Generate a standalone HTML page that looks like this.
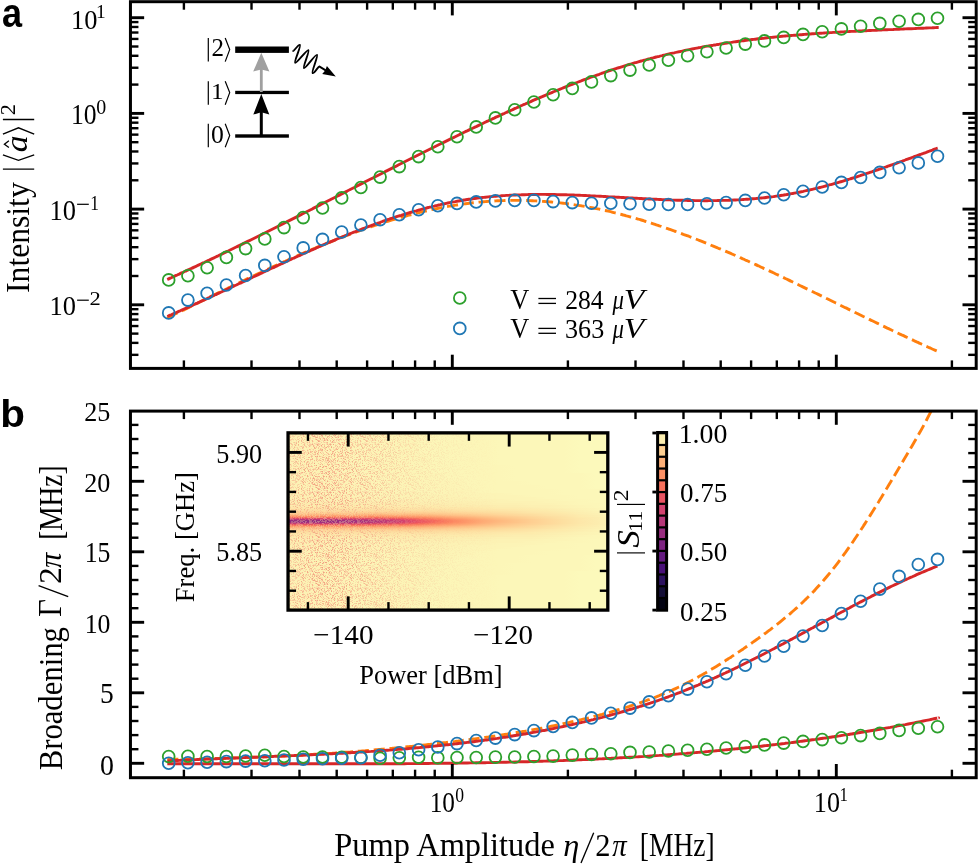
<!DOCTYPE html>
<html><head><meta charset="utf-8"><style>
html,body{margin:0;padding:0;background:#fff;}
body{width:978px;height:864px;overflow:hidden;font-family:"Liberation Serif",serif;}
svg{display:block;will-change:transform;}
</style></head><body>
<svg width="978" height="864" viewBox="0 0 978 864">
<rect width="978" height="864" fill="#fff"/>
<g fill="none" stroke-linecap="butt" stroke-linejoin="round">
<path d="M167.3,317.9 C167.8,317.6 169.3,316.9 170.3,316.4 C171.3,315.9 172.3,315.4 173.3,314.9 C174.3,314.5 175.3,314.0 176.3,313.5 C177.3,313.0 178.3,312.5 179.3,312.0 C180.3,311.5 181.3,311.0 182.3,310.5 C183.3,310.1 184.3,309.6 185.3,309.1 C186.3,308.6 187.3,308.1 188.3,307.6 C189.3,307.1 190.3,306.6 191.3,306.1 C192.3,305.6 193.3,305.1 194.3,304.7 C195.3,304.2 196.3,303.7 197.3,303.2 C198.3,302.7 199.3,302.2 200.3,301.7 C201.3,301.2 202.3,300.7 203.3,300.2 C204.3,299.8 205.3,299.3 206.3,298.8 C207.3,298.3 208.3,297.8 209.3,297.3 C210.3,296.8 211.3,296.3 212.3,295.8 C213.3,295.3 214.3,294.9 215.3,294.4 C216.3,293.9 217.3,293.4 218.3,292.9 C219.3,292.4 220.3,291.9 221.3,291.4 C222.3,291.0 223.3,290.5 224.3,290.0 C225.3,289.5 226.3,289.0 227.3,288.5 C228.3,288.0 229.3,287.5 230.3,287.1 C231.3,286.6 232.3,286.1 233.3,285.6 C234.3,285.1 235.3,284.6 236.3,284.2 C237.3,283.7 238.3,283.2 239.3,282.7 C240.3,282.2 241.3,281.7 242.3,281.3 C243.3,280.8 244.3,280.3 245.3,279.8 C246.3,279.4 247.3,278.9 248.3,278.4 C249.3,277.9 250.3,277.4 251.3,277.0 C252.3,276.5 253.3,276.0 254.3,275.5 C255.3,275.1 256.3,274.6 257.3,274.1 C258.3,273.6 259.3,273.2 260.3,272.7 C261.3,272.2 262.3,271.8 263.3,271.3 C264.3,270.8 265.3,270.4 266.3,269.9 C267.3,269.4 268.3,269.0 269.3,268.5 C270.3,268.0 271.3,267.6 272.3,267.1 C273.3,266.6 274.3,266.2 275.3,265.7 C276.3,265.3 277.3,264.8 278.3,264.3 C279.3,263.9 280.3,263.4 281.3,263.0 C282.3,262.5 283.3,262.1 284.3,261.6 C285.3,261.2 286.3,260.7 287.3,260.3 C288.3,259.8 289.3,259.4 290.3,258.9 C291.3,258.5 292.3,258.0 293.3,257.6 C294.3,257.1 295.3,256.7 296.3,256.3 C297.3,255.8 298.3,255.4 299.3,254.9 C300.3,254.5 301.3,254.1 302.3,253.6 C303.3,253.2 304.3,252.8 305.3,252.3 C306.3,251.9 307.3,251.5 308.3,251.0 C309.3,250.6 310.3,250.2 311.3,249.7 C312.3,249.3 313.3,248.9 314.3,248.5 C315.3,248.1 316.3,247.6 317.3,247.2 C318.3,246.8 319.3,246.4 320.3,246.0 C321.3,245.5 322.3,245.1 323.3,244.7 C324.3,244.3 325.3,243.9 326.3,243.5 C327.3,243.1 328.3,242.7 329.3,242.3 C330.3,241.9 331.3,241.5 332.3,241.1 C333.3,240.7 334.3,240.3 335.3,239.9 C336.3,239.5 337.3,239.1 338.3,238.7 C339.3,238.3 340.3,237.9 341.3,237.5 C342.3,237.1 343.3,236.8 344.3,236.4 C345.3,236.0 346.3,235.6 347.3,235.2 C348.3,234.9 349.3,234.5 350.3,234.1 C351.3,233.7 352.3,233.4 353.3,233.0 C354.3,232.6 355.3,232.3 356.3,231.9 C357.3,231.5 358.3,231.2 359.3,230.8 C360.3,230.5 361.3,230.1 362.3,229.7 C363.3,229.4 364.3,229.0 365.3,228.7 C366.3,228.3 367.3,228.0 368.3,227.6 C369.3,227.3 370.3,227.0 371.3,226.6 C372.3,226.3 373.3,225.9 374.3,225.6 C375.3,225.3 376.3,224.9 377.3,224.6 C378.3,224.3 379.3,224.0 380.3,223.6 C381.3,223.3 382.3,223.0 383.3,222.7 C384.3,222.4 385.3,222.0 386.3,221.7 C387.3,221.4 388.3,221.1 389.3,220.8 C390.3,220.5 391.3,220.2 392.3,219.9 C393.3,219.6 394.3,219.3 395.3,219.0 C396.3,218.7 397.3,218.4 398.3,218.1 C399.3,217.8 400.3,217.5 401.3,217.3 C402.3,217.0 403.3,216.7 404.3,216.4 C405.3,216.1 406.3,215.9 407.3,215.6 C408.3,215.3 409.3,215.1 410.3,214.8 C411.3,214.5 412.3,214.3 413.3,214.0 C414.3,213.8 415.3,213.5 416.3,213.3 C417.3,213.0 418.3,212.8 419.3,212.5 C420.3,212.3 421.3,212.0 422.3,211.8 C423.3,211.5 424.3,211.3 425.3,211.1 C426.3,210.8 427.3,210.6 428.3,210.4 C429.3,210.2 430.3,209.9 431.3,209.7 C432.3,209.5 433.3,209.3 434.3,209.1 C435.3,208.9 436.3,208.7 437.3,208.5 C438.3,208.3 439.3,208.1 440.3,207.9 C441.3,207.7 442.3,207.5 443.3,207.3 C444.3,207.1 445.3,206.9 446.3,206.7 C447.3,206.6 448.3,206.4 449.3,206.2 C450.3,206.0 451.3,205.9 452.3,205.7 C453.3,205.5 454.3,205.4 455.3,205.2 C456.3,205.0 457.3,204.9 458.3,204.7 C459.3,204.6 460.3,204.4 461.3,204.3 C462.3,204.2 463.3,204.0 464.3,203.9 C465.3,203.7 466.3,203.6 467.3,203.5 C468.3,203.4 469.3,203.2 470.3,203.1 C471.3,203.0 472.3,202.9 473.3,202.8 C474.3,202.7 475.3,202.6 476.3,202.4 C477.3,202.3 478.3,202.2 479.3,202.1 C480.3,202.1 481.3,202.0 482.3,201.9 C483.3,201.8 484.3,201.7 485.3,201.6 C486.3,201.5 487.3,201.5 488.3,201.4 C489.3,201.3 490.3,201.2 491.3,201.2 C492.3,201.1 493.3,201.1 494.3,201.0 C495.3,200.9 496.3,200.9 497.3,200.8 C498.3,200.8 499.3,200.7 500.3,200.7 C501.3,200.7 502.3,200.6 503.3,200.6 C504.3,200.6 505.3,200.5 506.3,200.5 C507.3,200.5 508.3,200.5 509.3,200.4 C510.3,200.4 511.3,200.4 512.3,200.4 C513.3,200.4 514.3,200.4 515.3,200.4 C516.3,200.4 517.3,200.4 518.3,200.4 C519.3,200.4 520.3,200.4 521.3,200.4 C522.3,200.4 523.3,200.4 524.3,200.5 C525.3,200.5 526.3,200.5 527.3,200.5 C528.3,200.6 529.3,200.6 530.3,200.6 C531.3,200.7 532.3,200.7 533.3,200.8 C534.3,200.8 535.3,200.8 536.3,200.9 C537.3,201.0 538.3,201.0 539.3,201.1 C540.3,201.1 541.3,201.2 542.3,201.3 C543.3,201.3 544.3,201.4 545.3,201.5 C546.3,201.5 547.3,201.6 548.3,201.7 C549.3,201.8 550.3,201.9 551.3,202.0 C552.3,202.1 553.3,202.2 554.3,202.3 C555.3,202.3 556.3,202.5 557.3,202.6 C558.3,202.7 559.3,202.8 560.3,202.9 C561.3,203.0 562.3,203.1 563.3,203.2 C564.3,203.4 565.3,203.5 566.3,203.6 C567.3,203.7 568.3,203.9 569.3,204.0 C570.3,204.1 571.3,204.3 572.3,204.4 C573.3,204.6 574.3,204.7 575.3,204.9 C576.3,205.0 577.3,205.2 578.3,205.3 C579.3,205.5 580.3,205.7 581.3,205.8 C582.3,206.0 583.3,206.2 584.3,206.3 C585.3,206.5 586.3,206.7 587.3,206.9 C588.3,207.1 589.3,207.3 590.3,207.4 C591.3,207.6 592.3,207.8 593.3,208.0 C594.3,208.2 595.3,208.4 596.3,208.6 C597.3,208.8 598.3,209.0 599.3,209.2 C600.3,209.5 601.3,209.7 602.3,209.9 C603.3,210.1 604.3,210.3 605.3,210.5 C606.3,210.8 607.3,211.0 608.3,211.2 C609.3,211.5 610.3,211.7 611.3,211.9 C612.3,212.2 613.3,212.4 614.3,212.7 C615.3,212.9 616.3,213.2 617.3,213.4 C618.3,213.7 619.3,213.9 620.3,214.2 C621.3,214.4 622.3,214.7 623.3,215.0 C624.3,215.2 625.3,215.5 626.3,215.8 C627.3,216.0 628.3,216.3 629.3,216.6 C630.3,216.9 631.3,217.1 632.3,217.4 C633.3,217.7 634.3,218.0 635.3,218.3 C636.3,218.6 637.3,218.9 638.3,219.2 C639.3,219.4 640.3,219.7 641.3,220.0 C642.3,220.3 643.3,220.6 644.3,221.0 C645.3,221.3 646.3,221.6 647.3,221.9 C648.3,222.2 649.3,222.5 650.3,222.8 C651.3,223.1 652.3,223.5 653.3,223.8 C654.3,224.1 655.3,224.4 656.3,224.8 C657.3,225.1 658.3,225.4 659.3,225.8 C660.3,226.1 661.3,226.4 662.3,226.8 C663.3,227.1 664.3,227.4 665.3,227.8 C666.3,228.1 667.3,228.5 668.3,228.8 C669.3,229.2 670.3,229.5 671.3,229.9 C672.3,230.2 673.3,230.6 674.3,231.0 C675.3,231.3 676.3,231.7 677.3,232.0 C678.3,232.4 679.3,232.8 680.3,233.1 C681.3,233.5 682.3,233.9 683.3,234.3 C684.3,234.6 685.3,235.0 686.3,235.4 C687.3,235.8 688.3,236.1 689.3,236.5 C690.3,236.9 691.3,237.3 692.3,237.7 C693.3,238.1 694.3,238.4 695.3,238.8 C696.3,239.2 697.3,239.6 698.3,240.0 C699.3,240.4 700.3,240.8 701.3,241.2 C702.3,241.6 703.3,242.0 704.3,242.4 C705.3,242.8 706.3,243.2 707.3,243.6 C708.3,244.0 709.3,244.4 710.3,244.8 C711.3,245.3 712.3,245.7 713.3,246.1 C714.3,246.5 715.3,246.9 716.3,247.3 C717.3,247.7 718.3,248.2 719.3,248.6 C720.3,249.0 721.3,249.4 722.3,249.9 C723.3,250.3 724.3,250.7 725.3,251.1 C726.3,251.6 727.3,252.0 728.3,252.4 C729.3,252.9 730.3,253.3 731.3,253.7 C732.3,254.2 733.3,254.6 734.3,255.0 C735.3,255.5 736.3,255.9 737.3,256.4 C738.3,256.8 739.3,257.2 740.3,257.7 C741.3,258.1 742.3,258.6 743.3,259.0 C744.3,259.5 745.3,259.9 746.3,260.4 C747.3,260.8 748.3,261.3 749.3,261.7 C750.3,262.2 751.3,262.6 752.3,263.1 C753.3,263.5 754.3,264.0 755.3,264.4 C756.3,264.9 757.3,265.4 758.3,265.8 C759.3,266.3 760.3,266.7 761.3,267.2 C762.3,267.7 763.3,268.1 764.3,268.6 C765.3,269.0 766.3,269.5 767.3,270.0 C768.3,270.4 769.3,270.9 770.3,271.4 C771.3,271.8 772.3,272.3 773.3,272.8 C774.3,273.3 775.3,273.7 776.3,274.2 C777.3,274.7 778.3,275.1 779.3,275.6 C780.3,276.1 781.3,276.6 782.3,277.0 C783.3,277.5 784.3,278.0 785.3,278.5 C786.3,278.9 787.3,279.4 788.3,279.9 C789.3,280.4 790.3,280.9 791.3,281.3 C792.3,281.8 793.3,282.3 794.3,282.8 C795.3,283.3 796.3,283.7 797.3,284.2 C798.3,284.7 799.3,285.2 800.3,285.7 C801.3,286.2 802.3,286.6 803.3,287.1 C804.3,287.6 805.3,288.1 806.3,288.6 C807.3,289.1 808.3,289.6 809.3,290.0 C810.3,290.5 811.3,291.0 812.3,291.5 C813.3,292.0 814.3,292.5 815.3,293.0 C816.3,293.4 817.3,293.9 818.3,294.4 C819.3,294.9 820.3,295.4 821.3,295.9 C822.3,296.4 823.3,296.9 824.3,297.4 C825.3,297.8 826.3,298.3 827.3,298.8 C828.3,299.3 829.3,299.8 830.3,300.3 C831.3,300.8 832.3,301.3 833.3,301.8 C834.3,302.3 835.3,302.8 836.3,303.2 C837.3,303.7 838.3,304.2 839.3,304.7 C840.3,305.2 841.3,305.7 842.3,306.2 C843.3,306.7 844.3,307.2 845.3,307.7 C846.3,308.1 847.3,308.6 848.3,309.1 C849.3,309.6 850.3,310.1 851.3,310.6 C852.3,311.1 853.3,311.6 854.3,312.1 C855.3,312.6 856.3,313.0 857.3,313.5 C858.3,314.0 859.3,314.5 860.3,315.0 C861.3,315.5 862.3,316.0 863.3,316.5 C864.3,316.9 865.3,317.4 866.3,317.9 C867.3,318.4 868.3,318.9 869.3,319.4 C870.3,319.9 871.3,320.3 872.3,320.8 C873.3,321.3 874.3,321.8 875.3,322.3 C876.3,322.8 877.3,323.3 878.3,323.7 C879.3,324.2 880.3,324.7 881.3,325.2 C882.3,325.7 883.3,326.1 884.3,326.6 C885.3,327.1 886.3,327.6 887.3,328.1 C888.3,328.5 889.3,329.0 890.3,329.5 C891.3,330.0 892.3,330.4 893.3,330.9 C894.3,331.4 895.3,331.9 896.3,332.3 C897.3,332.8 898.3,333.3 899.3,333.8 C900.3,334.2 901.3,334.7 902.3,335.2 C903.3,335.6 904.3,336.1 905.3,336.6 C906.3,337.1 907.3,337.5 908.3,338.0 C909.3,338.5 910.3,338.9 911.3,339.4 C912.3,339.8 913.3,340.3 914.3,340.8 C915.3,341.2 916.3,341.7 917.3,342.2 C918.3,342.6 919.3,343.1 920.3,343.5 C921.3,344.0 922.3,344.4 923.3,344.9 C924.3,345.3 925.3,345.8 926.3,346.3 C927.3,346.7 928.3,347.2 929.3,347.6 C930.3,348.1 931.3,348.5 932.3,349.0 C933.3,349.4 934.4,349.9 935.3,350.3 C936.1,350.7 937.0,351.1 937.4,351.2" stroke="#ff7f0e" stroke-width="2.9" stroke-dasharray="11.1 4.8"/>
<path d="M167.3,316.4 C167.8,316.2 169.3,315.5 170.3,315.1 C171.3,314.7 172.3,314.2 173.3,313.8 C174.3,313.4 175.3,312.9 176.3,312.5 C177.3,312.1 178.3,311.6 179.3,311.2 C180.3,310.7 181.3,310.3 182.3,309.8 C183.3,309.4 184.3,309.0 185.3,308.5 C186.3,308.1 187.3,307.6 188.3,307.2 C189.3,306.7 190.3,306.3 191.3,305.8 C192.3,305.4 193.3,304.9 194.3,304.5 C195.3,304.0 196.3,303.5 197.3,303.1 C198.3,302.6 199.3,302.2 200.3,301.7 C201.3,301.3 202.3,300.8 203.3,300.3 C204.3,299.9 205.3,299.4 206.3,299.0 C207.3,298.5 208.3,298.0 209.3,297.6 C210.3,297.1 211.3,296.6 212.3,296.2 C213.3,295.7 214.3,295.3 215.3,294.8 C216.3,294.3 217.3,293.9 218.3,293.4 C219.3,292.9 220.3,292.5 221.3,292.0 C222.3,291.5 223.3,291.1 224.3,290.6 C225.3,290.1 226.3,289.7 227.3,289.2 C228.3,288.7 229.3,288.2 230.3,287.8 C231.3,287.3 232.3,286.8 233.3,286.4 C234.3,285.9 235.3,285.4 236.3,285.0 C237.3,284.5 238.3,284.0 239.3,283.5 C240.3,283.1 241.3,282.6 242.3,282.1 C243.3,281.7 244.3,281.2 245.3,280.7 C246.3,280.2 247.3,279.8 248.3,279.3 C249.3,278.8 250.3,278.4 251.3,277.9 C252.3,277.4 253.3,276.9 254.3,276.5 C255.3,276.0 256.3,275.5 257.3,275.1 C258.3,274.6 259.3,274.1 260.3,273.6 C261.3,273.2 262.3,272.7 263.3,272.2 C264.3,271.8 265.3,271.3 266.3,270.8 C267.3,270.4 268.3,269.9 269.3,269.4 C270.3,269.0 271.3,268.5 272.3,268.0 C273.3,267.6 274.3,267.1 275.3,266.6 C276.3,266.2 277.3,265.7 278.3,265.2 C279.3,264.8 280.3,264.3 281.3,263.8 C282.3,263.4 283.3,262.9 284.3,262.4 C285.3,262.0 286.3,261.5 287.3,261.1 C288.3,260.6 289.3,260.1 290.3,259.7 C291.3,259.2 292.3,258.8 293.3,258.3 C294.3,257.8 295.3,257.4 296.3,256.9 C297.3,256.5 298.3,256.0 299.3,255.6 C300.3,255.1 301.3,254.7 302.3,254.2 C303.3,253.8 304.3,253.3 305.3,252.9 C306.3,252.4 307.3,252.0 308.3,251.5 C309.3,251.1 310.3,250.6 311.3,250.2 C312.3,249.7 313.3,249.3 314.3,248.9 C315.3,248.4 316.3,248.0 317.3,247.5 C318.3,247.1 319.3,246.7 320.3,246.2 C321.3,245.8 322.3,245.4 323.3,244.9 C324.3,244.5 325.3,244.1 326.3,243.6 C327.3,243.2 328.3,242.8 329.3,242.3 C330.3,241.9 331.3,241.5 332.3,241.1 C333.3,240.6 334.3,240.2 335.3,239.8 C336.3,239.4 337.3,239.0 338.3,238.5 C339.3,238.1 340.3,237.7 341.3,237.3 C342.3,236.9 343.3,236.5 344.3,236.1 C345.3,235.7 346.3,235.3 347.3,234.9 C348.3,234.4 349.3,234.0 350.3,233.6 C351.3,233.2 352.3,232.8 353.3,232.4 C354.3,232.0 355.3,231.7 356.3,231.3 C357.3,230.9 358.3,230.5 359.3,230.1 C360.3,229.7 361.3,229.3 362.3,228.9 C363.3,228.5 364.3,228.2 365.3,227.8 C366.3,227.4 367.3,227.0 368.3,226.7 C369.3,226.3 370.3,225.9 371.3,225.5 C372.3,225.2 373.3,224.8 374.3,224.4 C375.3,224.1 376.3,223.7 377.3,223.4 C378.3,223.0 379.3,222.6 380.3,222.3 C381.3,221.9 382.3,221.6 383.3,221.2 C384.3,220.9 385.3,220.5 386.3,220.2 C387.3,219.8 388.3,219.5 389.3,219.2 C390.3,218.8 391.3,218.5 392.3,218.2 C393.3,217.8 394.3,217.5 395.3,217.2 C396.3,216.8 397.3,216.5 398.3,216.2 C399.3,215.9 400.3,215.6 401.3,215.3 C402.3,214.9 403.3,214.6 404.3,214.3 C405.3,214.0 406.3,213.7 407.3,213.4 C408.3,213.1 409.3,212.8 410.3,212.5 C411.3,212.2 412.3,211.9 413.3,211.6 C414.3,211.3 415.3,211.0 416.3,210.8 C417.3,210.5 418.3,210.2 419.3,209.9 C420.3,209.7 421.3,209.4 422.3,209.1 C423.3,208.8 424.3,208.6 425.3,208.3 C426.3,208.1 427.3,207.8 428.3,207.5 C429.3,207.3 430.3,207.0 431.3,206.8 C432.3,206.5 433.3,206.3 434.3,206.1 C435.3,205.8 436.3,205.6 437.3,205.3 C438.3,205.1 439.3,204.9 440.3,204.7 C441.3,204.4 442.3,204.2 443.3,204.0 C444.3,203.8 445.3,203.6 446.3,203.3 C447.3,203.1 448.3,202.9 449.3,202.7 C450.3,202.5 451.3,202.3 452.3,202.1 C453.3,201.9 454.3,201.7 455.3,201.6 C456.3,201.4 457.3,201.2 458.3,201.0 C459.3,200.8 460.3,200.7 461.3,200.5 C462.3,200.3 463.3,200.2 464.3,200.0 C465.3,199.8 466.3,199.7 467.3,199.5 C468.3,199.4 469.3,199.2 470.3,199.1 C471.3,198.9 472.3,198.8 473.3,198.7 C474.3,198.5 475.3,198.4 476.3,198.3 C477.3,198.1 478.3,198.0 479.3,197.9 C480.3,197.8 481.3,197.6 482.3,197.5 C483.3,197.4 484.3,197.3 485.3,197.2 C486.3,197.1 487.3,197.0 488.3,196.9 C489.3,196.8 490.3,196.7 491.3,196.6 C492.3,196.5 493.3,196.4 494.3,196.3 C495.3,196.2 496.3,196.2 497.3,196.1 C498.3,196.0 499.3,195.9 500.3,195.9 C501.3,195.8 502.3,195.7 503.3,195.6 C504.3,195.6 505.3,195.5 506.3,195.4 C507.3,195.4 508.3,195.3 509.3,195.3 C510.3,195.2 511.3,195.2 512.3,195.1 C513.3,195.1 514.3,195.0 515.3,195.0 C516.3,194.9 517.3,194.9 518.3,194.9 C519.3,194.8 520.3,194.8 521.3,194.8 C522.3,194.7 523.3,194.7 524.3,194.7 C525.3,194.6 526.3,194.6 527.3,194.6 C528.3,194.6 529.3,194.5 530.3,194.5 C531.3,194.5 532.3,194.5 533.3,194.5 C534.3,194.5 535.3,194.5 536.3,194.5 C537.3,194.4 538.3,194.4 539.3,194.4 C540.3,194.4 541.3,194.4 542.3,194.4 C543.3,194.4 544.3,194.4 545.3,194.4 C546.3,194.4 547.3,194.5 548.3,194.5 C549.3,194.5 550.3,194.5 551.3,194.5 C552.3,194.5 553.3,194.5 554.3,194.5 C555.3,194.6 556.3,194.6 557.3,194.6 C558.3,194.6 559.3,194.6 560.3,194.7 C561.3,194.7 562.3,194.7 563.3,194.7 C564.3,194.8 565.3,194.8 566.3,194.8 C567.3,194.8 568.3,194.9 569.3,194.9 C570.3,194.9 571.3,195.0 572.3,195.0 C573.3,195.0 574.3,195.1 575.3,195.1 C576.3,195.2 577.3,195.2 578.3,195.2 C579.3,195.3 580.3,195.3 581.3,195.4 C582.3,195.4 583.3,195.4 584.3,195.5 C585.3,195.5 586.3,195.6 587.3,195.6 C588.3,195.7 589.3,195.7 590.3,195.8 C591.3,195.8 592.3,195.9 593.3,195.9 C594.3,196.0 595.3,196.0 596.3,196.1 C597.3,196.1 598.3,196.2 599.3,196.2 C600.3,196.3 601.3,196.3 602.3,196.4 C603.3,196.4 604.3,196.5 605.3,196.5 C606.3,196.6 607.3,196.6 608.3,196.7 C609.3,196.7 610.3,196.8 611.3,196.9 C612.3,196.9 613.3,197.0 614.3,197.0 C615.3,197.1 616.3,197.1 617.3,197.2 C618.3,197.3 619.3,197.3 620.3,197.4 C621.3,197.4 622.3,197.5 623.3,197.5 C624.3,197.6 625.3,197.7 626.3,197.7 C627.3,197.8 628.3,197.8 629.3,197.9 C630.3,197.9 631.3,198.0 632.3,198.0 C633.3,198.1 634.3,198.2 635.3,198.2 C636.3,198.3 637.3,198.3 638.3,198.4 C639.3,198.4 640.3,198.5 641.3,198.5 C642.3,198.6 643.3,198.7 644.3,198.7 C645.3,198.8 646.3,198.8 647.3,198.9 C648.3,198.9 649.3,199.0 650.3,199.0 C651.3,199.1 652.3,199.1 653.3,199.2 C654.3,199.2 655.3,199.3 656.3,199.3 C657.3,199.4 658.3,199.4 659.3,199.5 C660.3,199.5 661.3,199.6 662.3,199.6 C663.3,199.6 664.3,199.7 665.3,199.7 C666.3,199.8 667.3,199.8 668.3,199.8 C669.3,199.9 670.3,199.9 671.3,200.0 C672.3,200.0 673.3,200.0 674.3,200.1 C675.3,200.1 676.3,200.1 677.3,200.2 C678.3,200.2 679.3,200.2 680.3,200.3 C681.3,200.3 682.3,200.3 683.3,200.3 C684.3,200.4 685.3,200.4 686.3,200.4 C687.3,200.4 688.3,200.5 689.3,200.5 C690.3,200.5 691.3,200.5 692.3,200.5 C693.3,200.6 694.3,200.6 695.3,200.6 C696.3,200.6 697.3,200.6 698.3,200.6 C699.3,200.6 700.3,200.6 701.3,200.6 C702.3,200.7 703.3,200.7 704.3,200.7 C705.3,200.7 706.3,200.7 707.3,200.7 C708.3,200.7 709.3,200.6 710.3,200.6 C711.3,200.6 712.3,200.6 713.3,200.6 C714.3,200.6 715.3,200.6 716.3,200.6 C717.3,200.6 718.3,200.5 719.3,200.5 C720.3,200.5 721.3,200.5 722.3,200.4 C723.3,200.4 724.3,200.4 725.3,200.4 C726.3,200.3 727.3,200.3 728.3,200.3 C729.3,200.2 730.3,200.2 731.3,200.1 C732.3,200.1 733.3,200.1 734.3,200.0 C735.3,200.0 736.3,199.9 737.3,199.9 C738.3,199.8 739.3,199.7 740.3,199.7 C741.3,199.6 742.3,199.6 743.3,199.5 C744.3,199.4 745.3,199.4 746.3,199.3 C747.3,199.2 748.3,199.2 749.3,199.1 C750.3,199.0 751.3,198.9 752.3,198.8 C753.3,198.7 754.3,198.7 755.3,198.6 C756.3,198.5 757.3,198.4 758.3,198.3 C759.3,198.2 760.3,198.1 761.3,198.0 C762.3,197.9 763.3,197.8 764.3,197.7 C765.3,197.6 766.3,197.4 767.3,197.3 C768.3,197.2 769.3,197.1 770.3,197.0 C771.3,196.8 772.3,196.7 773.3,196.6 C774.3,196.4 775.3,196.3 776.3,196.1 C777.3,196.0 778.3,195.9 779.3,195.7 C780.3,195.6 781.3,195.4 782.3,195.3 C783.3,195.1 784.3,194.9 785.3,194.8 C786.3,194.6 787.3,194.4 788.3,194.3 C789.3,194.1 790.3,193.9 791.3,193.7 C792.3,193.5 793.3,193.4 794.3,193.2 C795.3,193.0 796.3,192.8 797.3,192.6 C798.3,192.4 799.3,192.2 800.3,192.0 C801.3,191.8 802.3,191.6 803.3,191.4 C804.3,191.1 805.3,190.9 806.3,190.7 C807.3,190.5 808.3,190.3 809.3,190.0 C810.3,189.8 811.3,189.6 812.3,189.3 C813.3,189.1 814.3,188.9 815.3,188.6 C816.3,188.4 817.3,188.1 818.3,187.9 C819.3,187.6 820.3,187.4 821.3,187.1 C822.3,186.9 823.3,186.6 824.3,186.3 C825.3,186.1 826.3,185.8 827.3,185.5 C828.3,185.3 829.3,185.0 830.3,184.7 C831.3,184.4 832.3,184.2 833.3,183.9 C834.3,183.6 835.3,183.3 836.3,183.0 C837.3,182.7 838.3,182.5 839.3,182.2 C840.3,181.9 841.3,181.6 842.3,181.3 C843.3,181.0 844.3,180.7 845.3,180.4 C846.3,180.1 847.3,179.8 848.3,179.5 C849.3,179.2 850.3,178.8 851.3,178.5 C852.3,178.2 853.3,177.9 854.3,177.6 C855.3,177.3 856.3,177.0 857.3,176.6 C858.3,176.3 859.3,176.0 860.3,175.7 C861.3,175.3 862.3,175.0 863.3,174.7 C864.3,174.4 865.3,174.0 866.3,173.7 C867.3,173.4 868.3,173.0 869.3,172.7 C870.3,172.4 871.3,172.0 872.3,171.7 C873.3,171.3 874.3,171.0 875.3,170.7 C876.3,170.3 877.3,170.0 878.3,169.6 C879.3,169.3 880.3,168.9 881.3,168.6 C882.3,168.2 883.3,167.9 884.3,167.5 C885.3,167.2 886.3,166.8 887.3,166.5 C888.3,166.1 889.3,165.8 890.3,165.4 C891.3,165.0 892.3,164.7 893.3,164.3 C894.3,164.0 895.3,163.6 896.3,163.3 C897.3,162.9 898.3,162.5 899.3,162.2 C900.3,161.8 901.3,161.4 902.3,161.1 C903.3,160.7 904.3,160.4 905.3,160.0 C906.3,159.6 907.3,159.3 908.3,158.9 C909.3,158.5 910.3,158.2 911.3,157.8 C912.3,157.4 913.3,157.1 914.3,156.7 C915.3,156.3 916.3,156.0 917.3,155.6 C918.3,155.2 919.3,154.8 920.3,154.5 C921.3,154.1 922.3,153.7 923.3,153.4 C924.3,153.0 925.3,152.6 926.3,152.3 C927.3,151.9 928.3,151.5 929.3,151.2 C930.3,150.8 931.3,150.4 932.3,150.1 C933.3,149.7 934.4,149.3 935.3,149.0 C936.2,148.6 937.3,148.2 937.7,148.1" stroke="#d62728" stroke-width="2.9"/>
<path d="M167.2,279.5 C167.7,279.3 169.2,278.6 170.2,278.1 C171.2,277.7 172.2,277.2 173.2,276.8 C174.2,276.3 175.2,275.9 176.2,275.4 C177.2,275.0 178.2,274.5 179.2,274.1 C180.2,273.6 181.2,273.1 182.2,272.7 C183.2,272.2 184.2,271.8 185.2,271.3 C186.2,270.8 187.2,270.4 188.2,269.9 C189.2,269.5 190.2,269.0 191.2,268.5 C192.2,268.1 193.2,267.6 194.2,267.1 C195.2,266.7 196.2,266.2 197.2,265.7 C198.2,265.3 199.2,264.8 200.2,264.3 C201.2,263.8 202.2,263.4 203.2,262.9 C204.2,262.4 205.2,262.0 206.2,261.5 C207.2,261.0 208.2,260.5 209.2,260.1 C210.2,259.6 211.2,259.1 212.2,258.6 C213.2,258.2 214.2,257.7 215.2,257.2 C216.2,256.7 217.2,256.2 218.2,255.8 C219.2,255.3 220.2,254.8 221.2,254.3 C222.2,253.8 223.2,253.4 224.2,252.9 C225.2,252.4 226.2,251.9 227.2,251.4 C228.2,250.9 229.2,250.5 230.2,250.0 C231.2,249.5 232.2,249.0 233.2,248.5 C234.2,248.0 235.2,247.5 236.2,247.0 C237.2,246.6 238.2,246.1 239.2,245.6 C240.2,245.1 241.2,244.6 242.2,244.1 C243.2,243.6 244.2,243.1 245.2,242.6 C246.2,242.1 247.2,241.6 248.2,241.1 C249.2,240.7 250.2,240.2 251.2,239.7 C252.2,239.2 253.2,238.7 254.2,238.2 C255.2,237.7 256.2,237.2 257.2,236.7 C258.2,236.2 259.2,235.7 260.2,235.2 C261.2,234.7 262.2,234.2 263.2,233.7 C264.2,233.2 265.2,232.7 266.2,232.2 C267.2,231.7 268.2,231.2 269.2,230.7 C270.2,230.2 271.2,229.7 272.2,229.2 C273.2,228.7 274.2,228.2 275.2,227.7 C276.2,227.2 277.2,226.7 278.2,226.2 C279.2,225.7 280.2,225.2 281.2,224.7 C282.2,224.2 283.2,223.7 284.2,223.2 C285.2,222.7 286.2,222.2 287.2,221.6 C288.2,221.1 289.2,220.6 290.2,220.1 C291.2,219.6 292.2,219.1 293.2,218.6 C294.2,218.1 295.2,217.6 296.2,217.1 C297.2,216.6 298.2,216.1 299.2,215.6 C300.2,215.1 301.2,214.6 302.2,214.0 C303.2,213.5 304.2,213.0 305.2,212.5 C306.2,212.0 307.2,211.5 308.2,211.0 C309.2,210.5 310.2,210.0 311.2,209.5 C312.2,209.0 313.2,208.4 314.2,207.9 C315.2,207.4 316.2,206.9 317.2,206.4 C318.2,205.9 319.2,205.4 320.2,204.9 C321.2,204.4 322.2,203.8 323.2,203.3 C324.2,202.8 325.2,202.3 326.2,201.8 C327.2,201.3 328.2,200.8 329.2,200.3 C330.2,199.8 331.2,199.2 332.2,198.7 C333.2,198.2 334.2,197.7 335.2,197.2 C336.2,196.7 337.2,196.2 338.2,195.7 C339.2,195.1 340.2,194.6 341.2,194.1 C342.2,193.6 343.2,193.1 344.2,192.6 C345.2,192.1 346.2,191.6 347.2,191.1 C348.2,190.5 349.2,190.0 350.2,189.5 C351.2,189.0 352.2,188.5 353.2,188.0 C354.2,187.5 355.2,187.0 356.2,186.4 C357.2,185.9 358.2,185.4 359.2,184.9 C360.2,184.4 361.2,183.9 362.2,183.4 C363.2,182.9 364.2,182.4 365.2,181.8 C366.2,181.3 367.2,180.8 368.2,180.3 C369.2,179.8 370.2,179.3 371.2,178.8 C372.2,178.3 373.2,177.8 374.2,177.2 C375.2,176.7 376.2,176.2 377.2,175.7 C378.2,175.2 379.2,174.7 380.2,174.2 C381.2,173.7 382.2,173.2 383.2,172.7 C384.2,172.2 385.2,171.6 386.2,171.1 C387.2,170.6 388.2,170.1 389.2,169.6 C390.2,169.1 391.2,168.6 392.2,168.1 C393.2,167.6 394.2,167.1 395.2,166.6 C396.2,166.1 397.2,165.6 398.2,165.0 C399.2,164.5 400.2,164.0 401.2,163.5 C402.2,163.0 403.2,162.5 404.2,162.0 C405.2,161.5 406.2,161.0 407.2,160.5 C408.2,160.0 409.2,159.5 410.2,159.0 C411.2,158.5 412.2,158.0 413.2,157.5 C414.2,157.0 415.2,156.5 416.2,156.0 C417.2,155.5 418.2,155.0 419.2,154.5 C420.2,154.0 421.2,153.5 422.2,153.0 C423.2,152.5 424.2,152.0 425.2,151.5 C426.2,151.0 427.2,150.5 428.2,150.0 C429.2,149.5 430.2,149.0 431.2,148.5 C432.2,148.0 433.2,147.5 434.2,147.0 C435.2,146.5 436.2,146.0 437.2,145.5 C438.2,145.0 439.2,144.5 440.2,144.0 C441.2,143.5 442.2,143.0 443.2,142.6 C444.2,142.1 445.2,141.6 446.2,141.1 C447.2,140.6 448.2,140.1 449.2,139.6 C450.2,139.1 451.2,138.6 452.2,138.1 C453.2,137.7 454.2,137.2 455.2,136.7 C456.2,136.2 457.2,135.7 458.2,135.2 C459.2,134.7 460.2,134.2 461.2,133.8 C462.2,133.3 463.2,132.8 464.2,132.3 C465.2,131.8 466.2,131.3 467.2,130.9 C468.2,130.4 469.2,129.9 470.2,129.4 C471.2,128.9 472.2,128.5 473.2,128.0 C474.2,127.5 475.2,127.0 476.2,126.6 C477.2,126.1 478.2,125.6 479.2,125.1 C480.2,124.7 481.2,124.2 482.2,123.7 C483.2,123.2 484.2,122.8 485.2,122.3 C486.2,121.8 487.2,121.3 488.2,120.9 C489.2,120.4 490.2,119.9 491.2,119.5 C492.2,119.0 493.2,118.5 494.2,118.1 C495.2,117.6 496.2,117.1 497.2,116.7 C498.2,116.2 499.2,115.7 500.2,115.3 C501.2,114.8 502.2,114.4 503.2,113.9 C504.2,113.4 505.2,113.0 506.2,112.5 C507.2,112.1 508.2,111.6 509.2,111.1 C510.2,110.7 511.2,110.2 512.2,109.8 C513.2,109.3 514.2,108.9 515.2,108.4 C516.2,108.0 517.2,107.5 518.2,107.1 C519.2,106.6 520.2,106.2 521.2,105.7 C522.2,105.3 523.2,104.8 524.2,104.4 C525.2,104.0 526.2,103.5 527.2,103.1 C528.2,102.6 529.2,102.2 530.2,101.8 C531.2,101.3 532.2,100.9 533.2,100.4 C534.2,100.0 535.2,99.6 536.2,99.1 C537.2,98.7 538.2,98.3 539.2,97.9 C540.2,97.4 541.2,97.0 542.2,96.6 C543.2,96.1 544.2,95.7 545.2,95.3 C546.2,94.9 547.2,94.5 548.2,94.0 C549.2,93.6 550.2,93.2 551.2,92.8 C552.2,92.4 553.2,91.9 554.2,91.5 C555.2,91.1 556.2,90.7 557.2,90.3 C558.2,89.9 559.2,89.5 560.2,89.1 C561.2,88.7 562.2,88.3 563.2,87.9 C564.2,87.5 565.2,87.1 566.2,86.7 C567.2,86.3 568.2,85.9 569.2,85.5 C570.2,85.1 571.2,84.7 572.2,84.3 C573.2,83.9 574.2,83.5 575.2,83.1 C576.2,82.8 577.2,82.4 578.2,82.0 C579.2,81.6 580.2,81.2 581.2,80.9 C582.2,80.5 583.2,80.1 584.2,79.7 C585.2,79.4 586.2,79.0 587.2,78.6 C588.2,78.2 589.2,77.9 590.2,77.5 C591.2,77.1 592.2,76.8 593.2,76.4 C594.2,76.1 595.2,75.7 596.2,75.3 C597.2,75.0 598.2,74.6 599.2,74.3 C600.2,73.9 601.2,73.6 602.2,73.2 C603.2,72.9 604.2,72.6 605.2,72.2 C606.2,71.9 607.2,71.5 608.2,71.2 C609.2,70.9 610.2,70.5 611.2,70.2 C612.2,69.9 613.2,69.5 614.2,69.2 C615.2,68.9 616.2,68.6 617.2,68.2 C618.2,67.9 619.2,67.6 620.2,67.3 C621.2,67.0 622.2,66.6 623.2,66.3 C624.2,66.0 625.2,65.7 626.2,65.4 C627.2,65.1 628.2,64.8 629.2,64.5 C630.2,64.2 631.2,63.9 632.2,63.6 C633.2,63.3 634.2,63.0 635.2,62.7 C636.2,62.4 637.2,62.2 638.2,61.9 C639.2,61.6 640.2,61.3 641.2,61.0 C642.2,60.7 643.2,60.5 644.2,60.2 C645.2,59.9 646.2,59.7 647.2,59.4 C648.2,59.1 649.2,58.9 650.2,58.6 C651.2,58.3 652.2,58.1 653.2,57.8 C654.2,57.6 655.2,57.3 656.2,57.0 C657.2,56.8 658.2,56.5 659.2,56.3 C660.2,56.0 661.2,55.8 662.2,55.6 C663.2,55.3 664.2,55.1 665.2,54.8 C666.2,54.6 667.2,54.4 668.2,54.1 C669.2,53.9 670.2,53.7 671.2,53.4 C672.2,53.2 673.2,53.0 674.2,52.8 C675.2,52.5 676.2,52.3 677.2,52.1 C678.2,51.9 679.2,51.7 680.2,51.5 C681.2,51.2 682.2,51.0 683.2,50.8 C684.2,50.6 685.2,50.4 686.2,50.2 C687.2,50.0 688.2,49.8 689.2,49.6 C690.2,49.4 691.2,49.2 692.2,49.0 C693.2,48.8 694.2,48.6 695.2,48.4 C696.2,48.2 697.2,48.0 698.2,47.8 C699.2,47.7 700.2,47.5 701.2,47.3 C702.2,47.1 703.2,46.9 704.2,46.7 C705.2,46.6 706.2,46.4 707.2,46.2 C708.2,46.0 709.2,45.9 710.2,45.7 C711.2,45.5 712.2,45.3 713.2,45.2 C714.2,45.0 715.2,44.8 716.2,44.7 C717.2,44.5 718.2,44.3 719.2,44.2 C720.2,44.0 721.2,43.9 722.2,43.7 C723.2,43.6 724.2,43.4 725.2,43.3 C726.2,43.1 727.2,42.9 728.2,42.8 C729.2,42.6 730.2,42.5 731.2,42.4 C732.2,42.2 733.2,42.1 734.2,41.9 C735.2,41.8 736.2,41.6 737.2,41.5 C738.2,41.4 739.2,41.2 740.2,41.1 C741.2,41.0 742.2,40.8 743.2,40.7 C744.2,40.6 745.2,40.4 746.2,40.3 C747.2,40.2 748.2,40.0 749.2,39.9 C750.2,39.8 751.2,39.7 752.2,39.5 C753.2,39.4 754.2,39.3 755.2,39.2 C756.2,39.1 757.2,38.9 758.2,38.8 C759.2,38.7 760.2,38.6 761.2,38.5 C762.2,38.4 763.2,38.3 764.2,38.2 C765.2,38.0 766.2,37.9 767.2,37.8 C768.2,37.7 769.2,37.6 770.2,37.5 C771.2,37.4 772.2,37.3 773.2,37.2 C774.2,37.1 775.2,37.0 776.2,36.9 C777.2,36.8 778.2,36.7 779.2,36.6 C780.2,36.5 781.2,36.4 782.2,36.3 C783.2,36.2 784.2,36.1 785.2,36.0 C786.2,35.9 787.2,35.9 788.2,35.8 C789.2,35.7 790.2,35.6 791.2,35.5 C792.2,35.4 793.2,35.3 794.2,35.2 C795.2,35.2 796.2,35.1 797.2,35.0 C798.2,34.9 799.2,34.8 800.2,34.7 C801.2,34.7 802.2,34.6 803.2,34.5 C804.2,34.4 805.2,34.4 806.2,34.3 C807.2,34.2 808.2,34.1 809.2,34.0 C810.2,34.0 811.2,33.9 812.2,33.8 C813.2,33.8 814.2,33.7 815.2,33.6 C816.2,33.5 817.2,33.5 818.2,33.4 C819.2,33.3 820.2,33.3 821.2,33.2 C822.2,33.1 823.2,33.1 824.2,33.0 C825.2,32.9 826.2,32.9 827.2,32.8 C828.2,32.7 829.2,32.7 830.2,32.6 C831.2,32.6 832.2,32.5 833.2,32.4 C834.2,32.4 835.2,32.3 836.2,32.3 C837.2,32.2 838.2,32.1 839.2,32.1 C840.2,32.0 841.2,32.0 842.2,31.9 C843.2,31.9 844.2,31.8 845.2,31.7 C846.2,31.7 847.2,31.6 848.2,31.6 C849.2,31.5 850.2,31.5 851.2,31.4 C852.2,31.4 853.2,31.3 854.2,31.3 C855.2,31.2 856.2,31.2 857.2,31.1 C858.2,31.1 859.2,31.0 860.2,31.0 C861.2,30.9 862.2,30.9 863.2,30.8 C864.2,30.8 865.2,30.7 866.2,30.7 C867.2,30.6 868.2,30.6 869.2,30.5 C870.2,30.5 871.2,30.4 872.2,30.4 C873.2,30.3 874.2,30.3 875.2,30.3 C876.2,30.2 877.2,30.2 878.2,30.1 C879.2,30.1 880.2,30.0 881.2,30.0 C882.2,29.9 883.2,29.9 884.2,29.8 C885.2,29.8 886.2,29.8 887.2,29.7 C888.2,29.7 889.2,29.6 890.2,29.6 C891.2,29.5 892.2,29.5 893.2,29.5 C894.2,29.4 895.2,29.4 896.2,29.3 C897.2,29.3 898.2,29.2 899.2,29.2 C900.2,29.2 901.2,29.1 902.2,29.1 C903.2,29.0 904.2,29.0 905.2,28.9 C906.2,28.9 907.2,28.9 908.2,28.8 C909.2,28.8 910.2,28.7 911.2,28.7 C912.2,28.6 913.2,28.6 914.2,28.6 C915.2,28.5 916.2,28.5 917.2,28.4 C918.2,28.4 919.2,28.4 920.2,28.3 C921.2,28.3 922.2,28.2 923.2,28.2 C924.2,28.1 925.2,28.1 926.2,28.0 C927.2,28.0 928.2,28.0 929.2,27.9 C930.2,27.9 931.2,27.8 932.2,27.8 C933.2,27.7 934.2,27.7 935.2,27.6 C936.2,27.6 937.6,27.5 938.2,27.5 C938.8,27.5 938.6,27.5 938.7,27.5" stroke="#d62728" stroke-width="2.9"/>
</g>
<g fill="none" stroke-width="1.80">
<g stroke="#2ca02c"><circle cx="168.7" cy="279.9" r="5.90"/><circle cx="187.9" cy="275.8" r="5.90"/><circle cx="207.1" cy="267.8" r="5.90"/><circle cx="226.4" cy="257.4" r="5.90"/><circle cx="245.6" cy="248.6" r="5.90"/><circle cx="264.8" cy="238.9" r="5.90"/><circle cx="284.0" cy="227.6" r="5.90"/><circle cx="303.2" cy="217.6" r="5.90"/><circle cx="322.5" cy="208.0" r="5.90"/><circle cx="341.7" cy="197.9" r="5.90"/><circle cx="360.9" cy="187.5" r="5.90"/><circle cx="380.1" cy="177.1" r="5.90"/><circle cx="399.3" cy="166.6" r="5.90"/><circle cx="418.6" cy="156.6" r="5.90"/><circle cx="437.8" cy="146.7" r="5.90"/><circle cx="457.0" cy="136.7" r="5.90"/><circle cx="476.2" cy="126.9" r="5.90"/><circle cx="495.4" cy="117.9" r="5.90"/><circle cx="514.7" cy="109.7" r="5.90"/><circle cx="533.9" cy="102.0" r="5.90"/><circle cx="553.1" cy="94.7" r="5.90"/><circle cx="572.3" cy="88.4" r="5.90"/><circle cx="591.5" cy="81.9" r="5.90"/><circle cx="610.8" cy="75.6" r="5.90"/><circle cx="630.0" cy="70.1" r="5.90"/><circle cx="649.2" cy="65.0" r="5.90"/><circle cx="668.4" cy="60.3" r="5.90"/><circle cx="687.6" cy="55.8" r="5.90"/><circle cx="706.9" cy="51.7" r="5.90"/><circle cx="726.1" cy="48.0" r="5.90"/><circle cx="745.3" cy="44.1" r="5.90"/><circle cx="764.5" cy="40.9" r="5.90"/><circle cx="783.7" cy="37.4" r="5.90"/><circle cx="803.0" cy="34.4" r="5.90"/><circle cx="822.2" cy="31.7" r="5.90"/><circle cx="841.4" cy="28.9" r="5.90"/><circle cx="860.6" cy="26.2" r="5.90"/><circle cx="879.8" cy="23.4" r="5.90"/><circle cx="899.1" cy="21.2" r="5.90"/><circle cx="918.3" cy="19.4" r="5.90"/><circle cx="937.5" cy="18.3" r="5.90"/></g>
<g stroke="#1f77b4"><circle cx="168.7" cy="312.9" r="5.90"/><circle cx="187.9" cy="300.1" r="5.90"/><circle cx="207.1" cy="293.3" r="5.90"/><circle cx="226.4" cy="285.0" r="5.90"/><circle cx="245.6" cy="275.5" r="5.90"/><circle cx="264.8" cy="265.4" r="5.90"/><circle cx="284.0" cy="256.7" r="5.90"/><circle cx="303.2" cy="247.9" r="5.90"/><circle cx="322.5" cy="239.4" r="5.90"/><circle cx="341.7" cy="232.0" r="5.90"/><circle cx="360.9" cy="225.0" r="5.90"/><circle cx="380.1" cy="219.8" r="5.90"/><circle cx="399.3" cy="214.8" r="5.90"/><circle cx="418.6" cy="209.8" r="5.90"/><circle cx="437.8" cy="205.8" r="5.90"/><circle cx="457.0" cy="203.4" r="5.90"/><circle cx="476.2" cy="201.9" r="5.90"/><circle cx="495.4" cy="200.9" r="5.90"/><circle cx="514.7" cy="200.4" r="5.90"/><circle cx="533.9" cy="200.4" r="5.90"/><circle cx="553.1" cy="201.6" r="5.90"/><circle cx="572.3" cy="202.6" r="5.90"/><circle cx="591.5" cy="203.2" r="5.90"/><circle cx="610.8" cy="203.2" r="5.90"/><circle cx="630.0" cy="203.7" r="5.90"/><circle cx="649.2" cy="204.2" r="5.90"/><circle cx="668.4" cy="204.5" r="5.90"/><circle cx="687.6" cy="204.5" r="5.90"/><circle cx="706.9" cy="203.7" r="5.90"/><circle cx="726.1" cy="202.6" r="5.90"/><circle cx="745.3" cy="200.4" r="5.90"/><circle cx="764.5" cy="198.0" r="5.90"/><circle cx="783.7" cy="194.7" r="5.90"/><circle cx="803.0" cy="191.2" r="5.90"/><circle cx="822.2" cy="187.0" r="5.90"/><circle cx="841.4" cy="182.4" r="5.90"/><circle cx="860.6" cy="177.5" r="5.90"/><circle cx="879.8" cy="172.4" r="5.90"/><circle cx="899.1" cy="167.8" r="5.90"/><circle cx="918.3" cy="162.9" r="5.90"/><circle cx="937.5" cy="156.3" r="5.90"/></g>
<circle cx="459.8" cy="298.0" r="5.90" stroke="#2ca02c"/>
<circle cx="459.8" cy="328.4" r="5.90" stroke="#1f77b4"/>
</g>
<defs><clipPath id="cb"><rect x="130.4" y="411.1" width="845.8" height="366.6"/></clipPath></defs>
<g fill="none" clip-path="url(#cb)">
<path d="M167.3,759.3 C167.8,759.3 169.3,759.3 170.3,759.3 C171.3,759.3 172.3,759.3 173.3,759.3 C174.3,759.3 175.3,759.3 176.3,759.2 C177.3,759.2 178.3,759.2 179.3,759.2 C180.3,759.2 181.3,759.2 182.3,759.2 C183.3,759.2 184.3,759.1 185.3,759.1 C186.3,759.1 187.3,759.1 188.3,759.1 C189.3,759.1 190.3,759.1 191.3,759.0 C192.3,759.0 193.3,759.0 194.3,759.0 C195.3,759.0 196.3,759.0 197.3,758.9 C198.3,758.9 199.3,758.9 200.3,758.9 C201.3,758.9 202.3,758.8 203.3,758.8 C204.3,758.8 205.3,758.8 206.3,758.8 C207.3,758.7 208.3,758.7 209.3,758.7 C210.3,758.7 211.3,758.6 212.3,758.6 C213.3,758.6 214.3,758.6 215.3,758.5 C216.3,758.5 217.3,758.5 218.3,758.5 C219.3,758.4 220.3,758.4 221.3,758.4 C222.3,758.4 223.3,758.3 224.3,758.3 C225.3,758.3 226.3,758.3 227.3,758.2 C228.3,758.2 229.3,758.2 230.3,758.1 C231.3,758.1 232.3,758.1 233.3,758.0 C234.3,758.0 235.3,758.0 236.3,758.0 C237.3,757.9 238.3,757.9 239.3,757.9 C240.3,757.8 241.3,757.8 242.3,757.8 C243.3,757.7 244.3,757.7 245.3,757.7 C246.3,757.6 247.3,757.6 248.3,757.5 C249.3,757.5 250.3,757.5 251.3,757.4 C252.3,757.4 253.3,757.4 254.3,757.3 C255.3,757.3 256.3,757.2 257.3,757.2 C258.3,757.2 259.3,757.1 260.3,757.1 C261.3,757.0 262.3,757.0 263.3,757.0 C264.3,756.9 265.3,756.9 266.3,756.8 C267.3,756.8 268.3,756.8 269.3,756.7 C270.3,756.7 271.3,756.6 272.3,756.6 C273.3,756.5 274.3,756.5 275.3,756.4 C276.3,756.4 277.3,756.3 278.3,756.3 C279.3,756.2 280.3,756.2 281.3,756.2 C282.3,756.1 283.3,756.1 284.3,756.0 C285.3,756.0 286.3,755.9 287.3,755.9 C288.3,755.8 289.3,755.8 290.3,755.7 C291.3,755.6 292.3,755.6 293.3,755.5 C294.3,755.5 295.3,755.4 296.3,755.4 C297.3,755.3 298.3,755.3 299.3,755.2 C300.3,755.2 301.3,755.1 302.3,755.0 C303.3,755.0 304.3,754.9 305.3,754.9 C306.3,754.8 307.3,754.8 308.3,754.7 C309.3,754.6 310.3,754.6 311.3,754.5 C312.3,754.5 313.3,754.4 314.3,754.3 C315.3,754.3 316.3,754.2 317.3,754.1 C318.3,754.1 319.3,754.0 320.3,754.0 C321.3,753.9 322.3,753.8 323.3,753.8 C324.3,753.7 325.3,753.6 326.3,753.6 C327.3,753.5 328.3,753.4 329.3,753.4 C330.3,753.3 331.3,753.2 332.3,753.2 C333.3,753.1 334.3,753.0 335.3,753.0 C336.3,752.9 337.3,752.8 338.3,752.7 C339.3,752.7 340.3,752.6 341.3,752.5 C342.3,752.5 343.3,752.4 344.3,752.3 C345.3,752.2 346.3,752.2 347.3,752.1 C348.3,752.0 349.3,751.9 350.3,751.9 C351.3,751.8 352.3,751.7 353.3,751.6 C354.3,751.5 355.3,751.5 356.3,751.4 C357.3,751.3 358.3,751.2 359.3,751.1 C360.3,751.1 361.3,751.0 362.3,750.9 C363.3,750.8 364.3,750.7 365.3,750.7 C366.3,750.6 367.3,750.5 368.3,750.4 C369.3,750.3 370.3,750.2 371.3,750.2 C372.3,750.1 373.3,750.0 374.3,749.9 C375.3,749.8 376.3,749.7 377.3,749.6 C378.3,749.5 379.3,749.5 380.3,749.4 C381.3,749.3 382.3,749.2 383.3,749.1 C384.3,749.0 385.3,748.9 386.3,748.8 C387.3,748.7 388.3,748.6 389.3,748.5 C390.3,748.4 391.3,748.3 392.3,748.3 C393.3,748.2 394.3,748.1 395.3,748.0 C396.3,747.9 397.3,747.8 398.3,747.7 C399.3,747.6 400.3,747.5 401.3,747.4 C402.3,747.3 403.3,747.2 404.3,747.1 C405.3,747.0 406.3,746.9 407.3,746.8 C408.3,746.7 409.3,746.6 410.3,746.5 C411.3,746.4 412.3,746.3 413.3,746.2 C414.3,746.1 415.3,746.0 416.3,745.8 C417.3,745.7 418.3,745.6 419.3,745.5 C420.3,745.4 421.3,745.3 422.3,745.2 C423.3,745.1 424.3,745.0 425.3,744.9 C426.3,744.8 427.3,744.7 428.3,744.5 C429.3,744.4 430.3,744.3 431.3,744.2 C432.3,744.1 433.3,744.0 434.3,743.9 C435.3,743.7 436.3,743.6 437.3,743.5 C438.3,743.4 439.3,743.3 440.3,743.2 C441.3,743.0 442.3,742.9 443.3,742.8 C444.3,742.7 445.3,742.6 446.3,742.5 C447.3,742.3 448.3,742.2 449.3,742.1 C450.3,742.0 451.3,741.8 452.3,741.7 C453.3,741.6 454.3,741.5 455.3,741.4 C456.3,741.2 457.3,741.1 458.3,741.0 C459.3,740.8 460.3,740.7 461.3,740.6 C462.3,740.5 463.3,740.3 464.3,740.2 C465.3,740.1 466.3,740.0 467.3,739.8 C468.3,739.7 469.3,739.6 470.3,739.4 C471.3,739.3 472.3,739.2 473.3,739.0 C474.3,738.9 475.3,738.8 476.3,738.6 C477.3,738.5 478.3,738.4 479.3,738.2 C480.3,738.1 481.3,737.9 482.3,737.8 C483.3,737.7 484.3,737.5 485.3,737.4 C486.3,737.2 487.3,737.1 488.3,737.0 C489.3,736.8 490.3,736.7 491.3,736.5 C492.3,736.4 493.3,736.2 494.3,736.1 C495.3,735.9 496.3,735.8 497.3,735.6 C498.3,735.5 499.3,735.3 500.3,735.2 C501.3,735.0 502.3,734.9 503.3,734.7 C504.3,734.6 505.3,734.4 506.3,734.3 C507.3,734.1 508.3,733.9 509.3,733.8 C510.3,733.6 511.3,733.5 512.3,733.3 C513.3,733.1 514.3,733.0 515.3,732.8 C516.3,732.6 517.3,732.5 518.3,732.3 C519.3,732.1 520.3,732.0 521.3,731.8 C522.3,731.6 523.3,731.5 524.3,731.3 C525.3,731.1 526.3,730.9 527.3,730.8 C528.3,730.6 529.3,730.4 530.3,730.2 C531.3,730.1 532.3,729.9 533.3,729.7 C534.3,729.5 535.3,729.3 536.3,729.1 C537.3,729.0 538.3,728.8 539.3,728.6 C540.3,728.4 541.3,728.2 542.3,728.0 C543.3,727.8 544.3,727.6 545.3,727.4 C546.3,727.2 547.3,727.0 548.3,726.8 C549.3,726.6 550.3,726.5 551.3,726.2 C552.3,726.0 553.3,725.8 554.3,725.6 C555.3,725.4 556.3,725.2 557.3,725.0 C558.3,724.8 559.3,724.6 560.3,724.4 C561.3,724.2 562.3,724.0 563.3,723.7 C564.3,723.5 565.3,723.3 566.3,723.1 C567.3,722.9 568.3,722.6 569.3,722.4 C570.3,722.2 571.3,722.0 572.3,721.7 C573.3,721.5 574.3,721.3 575.3,721.1 C576.3,720.8 577.3,720.6 578.3,720.4 C579.3,720.1 580.3,719.9 581.3,719.6 C582.3,719.4 583.3,719.2 584.3,718.9 C585.3,718.7 586.3,718.4 587.3,718.2 C588.3,717.9 589.3,717.7 590.3,717.4 C591.3,717.2 592.3,716.9 593.3,716.7 C594.3,716.4 595.3,716.1 596.3,715.9 C597.3,715.6 598.3,715.4 599.3,715.1 C600.3,714.8 601.3,714.6 602.3,714.3 C603.3,714.0 604.3,713.7 605.3,713.5 C606.3,713.2 607.3,712.9 608.3,712.6 C609.3,712.4 610.3,712.1 611.3,711.8 C612.3,711.5 613.3,711.2 614.3,710.9 C615.3,710.6 616.3,710.3 617.3,710.0 C618.3,709.7 619.3,709.4 620.3,709.1 C621.3,708.8 622.3,708.5 623.3,708.2 C624.3,707.9 625.3,707.6 626.3,707.3 C627.3,707.0 628.3,706.7 629.3,706.4 C630.3,706.0 631.3,705.7 632.3,705.4 C633.3,705.1 634.3,704.7 635.3,704.4 C636.3,704.1 637.3,703.7 638.3,703.4 C639.3,703.0 640.3,702.7 641.3,702.3 C642.3,702.0 643.3,701.6 644.3,701.3 C645.3,700.9 646.3,700.6 647.3,700.2 C648.3,699.8 649.3,699.5 650.3,699.1 C651.3,698.7 652.3,698.3 653.3,697.9 C654.3,697.6 655.3,697.2 656.3,696.8 C657.3,696.4 658.3,696.0 659.3,695.6 C660.3,695.2 661.3,694.8 662.3,694.3 C663.3,693.9 664.3,693.5 665.3,693.1 C666.3,692.7 667.3,692.2 668.3,691.8 C669.3,691.4 670.3,690.9 671.3,690.5 C672.3,690.0 673.3,689.6 674.3,689.1 C675.3,688.7 676.3,688.2 677.3,687.7 C678.3,687.2 679.3,686.8 680.3,686.3 C681.3,685.8 682.3,685.3 683.3,684.8 C684.3,684.3 685.3,683.8 686.3,683.3 C687.3,682.8 688.3,682.3 689.3,681.8 C690.3,681.2 691.3,680.7 692.3,680.2 C693.3,679.7 694.3,679.1 695.3,678.6 C696.3,678.0 697.3,677.5 698.3,676.9 C699.3,676.4 700.3,675.8 701.3,675.3 C702.3,674.7 703.3,674.1 704.3,673.5 C705.3,673.0 706.3,672.4 707.3,671.8 C708.3,671.2 709.3,670.6 710.3,670.0 C711.3,669.4 712.3,668.8 713.3,668.2 C714.3,667.6 715.3,667.0 716.3,666.4 C717.3,665.8 718.3,665.2 719.3,664.6 C720.3,663.9 721.3,663.3 722.3,662.7 C723.3,662.1 724.3,661.4 725.3,660.8 C726.3,660.1 727.3,659.5 728.3,658.8 C729.3,658.2 730.3,657.5 731.3,656.9 C732.3,656.2 733.3,655.6 734.3,654.9 C735.3,654.3 736.3,653.6 737.3,652.9 C738.3,652.2 739.3,651.6 740.3,650.9 C741.3,650.2 742.3,649.5 743.3,648.9 C744.3,648.2 745.3,647.5 746.3,646.8 C747.3,646.1 748.3,645.4 749.3,644.7 C750.3,644.0 751.3,643.3 752.3,642.6 C753.3,641.9 754.3,641.2 755.3,640.5 C756.3,639.8 757.3,639.1 758.3,638.4 C759.3,637.6 760.3,636.9 761.3,636.2 C762.3,635.5 763.3,634.8 764.3,634.0 C765.3,633.3 766.3,632.6 767.3,631.8 C768.3,631.1 769.3,630.3 770.3,629.6 C771.3,628.8 772.3,628.1 773.3,627.3 C774.3,626.5 775.3,625.7 776.3,625.0 C777.3,624.2 778.3,623.4 779.3,622.6 C780.3,621.8 781.3,621.0 782.3,620.2 C783.3,619.4 784.3,618.6 785.3,617.7 C786.3,616.9 787.3,616.1 788.3,615.2 C789.3,614.4 790.3,613.5 791.3,612.6 C792.3,611.8 793.3,610.9 794.3,610.0 C795.3,609.1 796.3,608.2 797.3,607.3 C798.3,606.4 799.3,605.5 800.3,604.5 C801.3,603.6 802.3,602.7 803.3,601.7 C804.3,600.7 805.3,599.8 806.3,598.8 C807.3,597.8 808.3,596.8 809.3,595.8 C810.3,594.8 811.3,593.8 812.3,592.7 C813.3,591.7 814.3,590.6 815.3,589.6 C816.3,588.5 817.3,587.4 818.3,586.3 C819.3,585.2 820.3,584.1 821.3,583.0 C822.3,581.8 823.3,580.7 824.3,579.5 C825.3,578.4 826.3,577.2 827.3,576.0 C828.3,574.8 829.3,573.6 830.3,572.4 C831.3,571.1 832.3,569.9 833.3,568.6 C834.3,567.4 835.3,566.1 836.3,564.8 C837.3,563.5 838.3,562.2 839.3,560.8 C840.3,559.5 841.3,558.1 842.3,556.8 C843.3,555.4 844.3,554.0 845.3,552.7 C846.3,551.3 847.3,549.9 848.3,548.4 C849.3,547.0 850.3,545.6 851.3,544.1 C852.3,542.7 853.3,541.2 854.3,539.7 C855.3,538.3 856.3,536.8 857.3,535.3 C858.3,533.8 859.3,532.3 860.3,530.8 C861.3,529.2 862.3,527.7 863.3,526.2 C864.3,524.6 865.3,523.1 866.3,521.5 C867.3,520.0 868.3,518.4 869.3,516.8 C870.3,515.2 871.3,513.6 872.3,512.0 C873.3,510.4 874.3,508.8 875.3,507.2 C876.3,505.6 877.3,504.0 878.3,502.4 C879.3,500.7 880.3,499.1 881.3,497.5 C882.3,495.8 883.3,494.2 884.3,492.5 C885.3,490.9 886.3,489.2 887.3,487.6 C888.3,485.9 889.3,484.2 890.3,482.6 C891.3,480.9 892.3,479.2 893.3,477.6 C894.3,475.9 895.3,474.2 896.3,472.5 C897.3,470.8 898.3,469.2 899.3,467.5 C900.3,465.8 901.3,464.1 902.3,462.4 C903.3,460.7 904.3,459.0 905.3,457.3 C906.3,455.6 907.3,454.0 908.3,452.3 C909.3,450.6 910.3,448.9 911.3,447.2 C912.3,445.5 913.3,443.8 914.3,442.0 C915.3,440.3 916.3,438.6 917.3,436.9 C918.3,435.1 919.3,433.3 920.3,431.6 C921.3,429.8 922.3,428.0 923.3,426.1 C924.3,424.3 925.3,422.4 926.3,420.5 C927.3,418.6 928.3,416.7 929.3,414.7 C930.3,412.7 931.5,410.3 932.3,408.7 C933.1,407.1 933.7,405.7 934.0,405.1" stroke="#ff7f0e" stroke-width="2.9" stroke-dasharray="11.1 4.8"/>
<path d="M167.3,763.8 C167.8,763.8 169.3,763.8 170.3,763.8 C171.3,763.8 172.3,763.8 173.3,763.8 C174.3,763.8 175.3,763.8 176.3,763.8 C177.3,763.8 178.3,763.7 179.3,763.7 C180.3,763.7 181.3,763.7 182.3,763.7 C183.3,763.7 184.3,763.7 185.3,763.7 C186.3,763.7 187.3,763.7 188.3,763.7 C189.3,763.7 190.3,763.7 191.3,763.7 C192.3,763.7 193.3,763.7 194.3,763.7 C195.3,763.7 196.3,763.7 197.3,763.7 C198.3,763.7 199.3,763.7 200.3,763.7 C201.3,763.7 202.3,763.7 203.3,763.7 C204.3,763.7 205.3,763.7 206.3,763.7 C207.3,763.7 208.3,763.7 209.3,763.7 C210.3,763.7 211.3,763.7 212.3,763.7 C213.3,763.7 214.3,763.7 215.3,763.7 C216.3,763.7 217.3,763.7 218.3,763.7 C219.3,763.7 220.3,763.7 221.3,763.7 C222.3,763.7 223.3,763.7 224.3,763.7 C225.3,763.7 226.3,763.7 227.3,763.7 C228.3,763.7 229.3,763.7 230.3,763.7 C231.3,763.7 232.3,763.7 233.3,763.7 C234.3,763.7 235.3,763.7 236.3,763.7 C237.3,763.7 238.3,763.7 239.3,763.7 C240.3,763.7 241.3,763.7 242.3,763.7 C243.3,763.7 244.3,763.7 245.3,763.7 C246.3,763.7 247.3,763.7 248.3,763.7 C249.3,763.7 250.3,763.7 251.3,763.7 C252.3,763.7 253.3,763.7 254.3,763.7 C255.3,763.7 256.3,763.7 257.3,763.7 C258.3,763.7 259.3,763.7 260.3,763.7 C261.3,763.7 262.3,763.7 263.3,763.7 C264.3,763.7 265.3,763.7 266.3,763.7 C267.3,763.7 268.3,763.7 269.3,763.7 C270.3,763.7 271.3,763.8 272.3,763.8 C273.3,763.8 274.3,763.8 275.3,763.8 C276.3,763.8 277.3,763.8 278.3,763.8 C279.3,763.8 280.3,763.8 281.3,763.8 C282.3,763.8 283.3,763.8 284.3,763.8 C285.3,763.8 286.3,763.8 287.3,763.8 C288.3,763.8 289.3,763.8 290.3,763.8 C291.3,763.8 292.3,763.8 293.3,763.8 C294.3,763.8 295.3,763.8 296.3,763.8 C297.3,763.8 298.3,763.8 299.3,763.8 C300.3,763.8 301.3,763.8 302.3,763.8 C303.3,763.8 304.3,763.8 305.3,763.8 C306.3,763.8 307.3,763.8 308.3,763.8 C309.3,763.8 310.3,763.8 311.3,763.8 C312.3,763.8 313.3,763.8 314.3,763.8 C315.3,763.8 316.3,763.8 317.3,763.8 C318.3,763.8 319.3,763.8 320.3,763.8 C321.3,763.8 322.3,763.8 323.3,763.8 C324.3,763.8 325.3,763.8 326.3,763.8 C327.3,763.8 328.3,763.8 329.3,763.8 C330.3,763.8 331.3,763.8 332.3,763.8 C333.3,763.8 334.3,763.8 335.3,763.8 C336.3,763.8 337.3,763.8 338.3,763.8 C339.3,763.8 340.3,763.8 341.3,763.8 C342.3,763.8 343.3,763.8 344.3,763.8 C345.3,763.8 346.3,763.8 347.3,763.8 C348.3,763.8 349.3,763.8 350.3,763.8 C351.3,763.8 352.3,763.8 353.3,763.8 C354.3,763.8 355.3,763.8 356.3,763.8 C357.3,763.8 358.3,763.8 359.3,763.8 C360.3,763.8 361.3,763.8 362.3,763.8 C363.3,763.8 364.3,763.8 365.3,763.8 C366.3,763.8 367.3,763.8 368.3,763.8 C369.3,763.8 370.3,763.8 371.3,763.8 C372.3,763.8 373.3,763.8 374.3,763.8 C375.3,763.8 376.3,763.8 377.3,763.8 C378.3,763.8 379.3,763.8 380.3,763.8 C381.3,763.8 382.3,763.8 383.3,763.8 C384.3,763.8 385.3,763.7 386.3,763.7 C387.3,763.7 388.3,763.7 389.3,763.7 C390.3,763.7 391.3,763.7 392.3,763.7 C393.3,763.7 394.3,763.7 395.3,763.7 C396.3,763.7 397.3,763.7 398.3,763.7 C399.3,763.7 400.3,763.7 401.3,763.7 C402.3,763.7 403.3,763.7 404.3,763.7 C405.3,763.6 406.3,763.6 407.3,763.6 C408.3,763.6 409.3,763.6 410.3,763.6 C411.3,763.6 412.3,763.6 413.3,763.6 C414.3,763.6 415.3,763.6 416.3,763.6 C417.3,763.6 418.3,763.6 419.3,763.5 C420.3,763.5 421.3,763.5 422.3,763.5 C423.3,763.5 424.3,763.5 425.3,763.5 C426.3,763.5 427.3,763.5 428.3,763.5 C429.3,763.5 430.3,763.5 431.3,763.4 C432.3,763.4 433.3,763.4 434.3,763.4 C435.3,763.4 436.3,763.4 437.3,763.4 C438.3,763.4 439.3,763.4 440.3,763.3 C441.3,763.3 442.3,763.3 443.3,763.3 C444.3,763.3 445.3,763.3 446.3,763.3 C447.3,763.3 448.3,763.3 449.3,763.2 C450.3,763.2 451.3,763.2 452.3,763.2 C453.3,763.2 454.3,763.2 455.3,763.2 C456.3,763.1 457.3,763.1 458.3,763.1 C459.3,763.1 460.3,763.1 461.3,763.1 C462.3,763.1 463.3,763.0 464.3,763.0 C465.3,763.0 466.3,763.0 467.3,763.0 C468.3,763.0 469.3,763.0 470.3,762.9 C471.3,762.9 472.3,762.9 473.3,762.9 C474.3,762.9 475.3,762.9 476.3,762.8 C477.3,762.8 478.3,762.8 479.3,762.8 C480.3,762.8 481.3,762.7 482.3,762.7 C483.3,762.7 484.3,762.7 485.3,762.7 C486.3,762.7 487.3,762.6 488.3,762.6 C489.3,762.6 490.3,762.6 491.3,762.6 C492.3,762.5 493.3,762.5 494.3,762.5 C495.3,762.5 496.3,762.4 497.3,762.4 C498.3,762.4 499.3,762.4 500.3,762.4 C501.3,762.3 502.3,762.3 503.3,762.3 C504.3,762.3 505.3,762.2 506.3,762.2 C507.3,762.2 508.3,762.2 509.3,762.1 C510.3,762.1 511.3,762.1 512.3,762.1 C513.3,762.0 514.3,762.0 515.3,762.0 C516.3,762.0 517.3,761.9 518.3,761.9 C519.3,761.9 520.3,761.9 521.3,761.8 C522.3,761.8 523.3,761.8 524.3,761.8 C525.3,761.7 526.3,761.7 527.3,761.7 C528.3,761.6 529.3,761.6 530.3,761.6 C531.3,761.6 532.3,761.5 533.3,761.5 C534.3,761.5 535.3,761.4 536.3,761.4 C537.3,761.4 538.3,761.3 539.3,761.3 C540.3,761.3 541.3,761.2 542.3,761.2 C543.3,761.2 544.3,761.1 545.3,761.1 C546.3,761.1 547.3,761.0 548.3,761.0 C549.3,761.0 550.3,760.9 551.3,760.9 C552.3,760.9 553.3,760.8 554.3,760.8 C555.3,760.8 556.3,760.7 557.3,760.7 C558.3,760.7 559.3,760.6 560.3,760.6 C561.3,760.5 562.3,760.5 563.3,760.5 C564.3,760.4 565.3,760.4 566.3,760.4 C567.3,760.3 568.3,760.3 569.3,760.2 C570.3,760.2 571.3,760.2 572.3,760.1 C573.3,760.1 574.3,760.0 575.3,760.0 C576.3,759.9 577.3,759.9 578.3,759.9 C579.3,759.8 580.3,759.8 581.3,759.7 C582.3,759.7 583.3,759.6 584.3,759.6 C585.3,759.6 586.3,759.5 587.3,759.5 C588.3,759.4 589.3,759.4 590.3,759.3 C591.3,759.3 592.3,759.2 593.3,759.2 C594.3,759.1 595.3,759.1 596.3,759.1 C597.3,759.0 598.3,759.0 599.3,758.9 C600.3,758.9 601.3,758.8 602.3,758.8 C603.3,758.7 604.3,758.7 605.3,758.6 C606.3,758.6 607.3,758.5 608.3,758.5 C609.3,758.4 610.3,758.3 611.3,758.3 C612.3,758.2 613.3,758.2 614.3,758.1 C615.3,758.1 616.3,758.0 617.3,758.0 C618.3,757.9 619.3,757.9 620.3,757.8 C621.3,757.8 622.3,757.7 623.3,757.6 C624.3,757.6 625.3,757.5 626.3,757.5 C627.3,757.4 628.3,757.4 629.3,757.3 C630.3,757.2 631.3,757.2 632.3,757.1 C633.3,757.1 634.3,757.0 635.3,756.9 C636.3,756.9 637.3,756.8 638.3,756.8 C639.3,756.7 640.3,756.6 641.3,756.6 C642.3,756.5 643.3,756.4 644.3,756.4 C645.3,756.3 646.3,756.2 647.3,756.2 C648.3,756.1 649.3,756.1 650.3,756.0 C651.3,755.9 652.3,755.9 653.3,755.8 C654.3,755.7 655.3,755.6 656.3,755.6 C657.3,755.5 658.3,755.4 659.3,755.4 C660.3,755.3 661.3,755.2 662.3,755.2 C663.3,755.1 664.3,755.0 665.3,754.9 C666.3,754.9 667.3,754.8 668.3,754.7 C669.3,754.7 670.3,754.6 671.3,754.5 C672.3,754.4 673.3,754.4 674.3,754.3 C675.3,754.2 676.3,754.1 677.3,754.1 C678.3,754.0 679.3,753.9 680.3,753.8 C681.3,753.8 682.3,753.7 683.3,753.6 C684.3,753.5 685.3,753.4 686.3,753.4 C687.3,753.3 688.3,753.2 689.3,753.1 C690.3,753.0 691.3,753.0 692.3,752.9 C693.3,752.8 694.3,752.7 695.3,752.6 C696.3,752.5 697.3,752.5 698.3,752.4 C699.3,752.3 700.3,752.2 701.3,752.1 C702.3,752.0 703.3,751.9 704.3,751.9 C705.3,751.8 706.3,751.7 707.3,751.6 C708.3,751.5 709.3,751.4 710.3,751.3 C711.3,751.2 712.3,751.1 713.3,751.1 C714.3,751.0 715.3,750.9 716.3,750.8 C717.3,750.7 718.3,750.6 719.3,750.5 C720.3,750.4 721.3,750.3 722.3,750.2 C723.3,750.1 724.3,750.0 725.3,749.9 C726.3,749.8 727.3,749.7 728.3,749.6 C729.3,749.5 730.3,749.4 731.3,749.3 C732.3,749.2 733.3,749.1 734.3,749.0 C735.3,748.9 736.3,748.8 737.3,748.7 C738.3,748.6 739.3,748.5 740.3,748.4 C741.3,748.3 742.3,748.2 743.3,748.1 C744.3,748.0 745.3,747.9 746.3,747.8 C747.3,747.7 748.3,747.6 749.3,747.5 C750.3,747.4 751.3,747.3 752.3,747.2 C753.3,747.1 754.3,746.9 755.3,746.8 C756.3,746.7 757.3,746.6 758.3,746.5 C759.3,746.4 760.3,746.3 761.3,746.2 C762.3,746.1 763.3,745.9 764.3,745.8 C765.3,745.7 766.3,745.6 767.3,745.5 C768.3,745.4 769.3,745.3 770.3,745.1 C771.3,745.0 772.3,744.9 773.3,744.8 C774.3,744.7 775.3,744.5 776.3,744.4 C777.3,744.3 778.3,744.2 779.3,744.1 C780.3,743.9 781.3,743.8 782.3,743.7 C783.3,743.6 784.3,743.5 785.3,743.3 C786.3,743.2 787.3,743.1 788.3,743.0 C789.3,742.8 790.3,742.7 791.3,742.6 C792.3,742.4 793.3,742.3 794.3,742.2 C795.3,742.1 796.3,741.9 797.3,741.8 C798.3,741.7 799.3,741.5 800.3,741.4 C801.3,741.3 802.3,741.1 803.3,741.0 C804.3,740.9 805.3,740.7 806.3,740.6 C807.3,740.5 808.3,740.3 809.3,740.2 C810.3,740.1 811.3,739.9 812.3,739.8 C813.3,739.7 814.3,739.5 815.3,739.4 C816.3,739.2 817.3,739.1 818.3,739.0 C819.3,738.8 820.3,738.7 821.3,738.5 C822.3,738.4 823.3,738.2 824.3,738.1 C825.3,737.9 826.3,737.8 827.3,737.7 C828.3,737.5 829.3,737.4 830.3,737.2 C831.3,737.1 832.3,736.9 833.3,736.8 C834.3,736.6 835.3,736.5 836.3,736.3 C837.3,736.2 838.3,736.0 839.3,735.9 C840.3,735.7 841.3,735.6 842.3,735.4 C843.3,735.3 844.3,735.1 845.3,734.9 C846.3,734.8 847.3,734.6 848.3,734.5 C849.3,734.3 850.3,734.2 851.3,734.0 C852.3,733.8 853.3,733.7 854.3,733.5 C855.3,733.4 856.3,733.2 857.3,733.0 C858.3,732.9 859.3,732.7 860.3,732.5 C861.3,732.4 862.3,732.2 863.3,732.0 C864.3,731.9 865.3,731.7 866.3,731.5 C867.3,731.4 868.3,731.2 869.3,731.0 C870.3,730.9 871.3,730.7 872.3,730.5 C873.3,730.4 874.3,730.2 875.3,730.0 C876.3,729.8 877.3,729.7 878.3,729.5 C879.3,729.3 880.3,729.1 881.3,729.0 C882.3,728.8 883.3,728.6 884.3,728.4 C885.3,728.3 886.3,728.1 887.3,727.9 C888.3,727.7 889.3,727.5 890.3,727.4 C891.3,727.2 892.3,727.0 893.3,726.8 C894.3,726.6 895.3,726.4 896.3,726.2 C897.3,726.1 898.3,725.9 899.3,725.7 C900.3,725.5 901.3,725.3 902.3,725.1 C903.3,724.9 904.3,724.7 905.3,724.6 C906.3,724.4 907.3,724.2 908.3,724.0 C909.3,723.8 910.3,723.6 911.3,723.4 C912.3,723.2 913.3,723.0 914.3,722.8 C915.3,722.6 916.3,722.4 917.3,722.2 C918.3,722.0 919.3,721.8 920.3,721.6 C921.3,721.4 922.3,721.2 923.3,721.0 C924.3,720.8 925.3,720.6 926.3,720.4 C927.3,720.2 928.3,720.0 929.3,719.8 C930.3,719.6 931.3,719.4 932.3,719.2 C933.3,719.0 934.3,718.8 935.3,718.5 C936.3,718.3 937.8,718.0 938.3,717.9 C938.8,717.8 938.4,717.9 938.4,717.9" stroke="#d62728" stroke-width="2.9"/>
<path d="M167.3,760.9 C167.8,760.9 169.3,760.8 170.3,760.8 C171.3,760.7 172.3,760.7 173.3,760.6 C174.3,760.6 175.3,760.5 176.3,760.5 C177.3,760.5 178.3,760.4 179.3,760.4 C180.3,760.3 181.3,760.3 182.3,760.2 C183.3,760.2 184.3,760.1 185.3,760.1 C186.3,760.0 187.3,760.0 188.3,759.9 C189.3,759.9 190.3,759.8 191.3,759.8 C192.3,759.8 193.3,759.7 194.3,759.7 C195.3,759.6 196.3,759.6 197.3,759.5 C198.3,759.5 199.3,759.4 200.3,759.4 C201.3,759.4 202.3,759.3 203.3,759.3 C204.3,759.2 205.3,759.2 206.3,759.1 C207.3,759.1 208.3,759.1 209.3,759.0 C210.3,759.0 211.3,758.9 212.3,758.9 C213.3,758.8 214.3,758.8 215.3,758.8 C216.3,758.7 217.3,758.7 218.3,758.6 C219.3,758.6 220.3,758.6 221.3,758.5 C222.3,758.5 223.3,758.4 224.3,758.4 C225.3,758.4 226.3,758.3 227.3,758.3 C228.3,758.2 229.3,758.2 230.3,758.1 C231.3,758.1 232.3,758.1 233.3,758.0 C234.3,758.0 235.3,757.9 236.3,757.9 C237.3,757.9 238.3,757.8 239.3,757.8 C240.3,757.7 241.3,757.7 242.3,757.7 C243.3,757.6 244.3,757.6 245.3,757.5 C246.3,757.5 247.3,757.5 248.3,757.4 C249.3,757.4 250.3,757.3 251.3,757.3 C252.3,757.3 253.3,757.2 254.3,757.2 C255.3,757.1 256.3,757.1 257.3,757.1 C258.3,757.0 259.3,757.0 260.3,756.9 C261.3,756.9 262.3,756.9 263.3,756.8 C264.3,756.8 265.3,756.7 266.3,756.7 C267.3,756.7 268.3,756.6 269.3,756.6 C270.3,756.5 271.3,756.5 272.3,756.5 C273.3,756.4 274.3,756.4 275.3,756.3 C276.3,756.3 277.3,756.2 278.3,756.2 C279.3,756.2 280.3,756.1 281.3,756.1 C282.3,756.0 283.3,756.0 284.3,756.0 C285.3,755.9 286.3,755.9 287.3,755.8 C288.3,755.8 289.3,755.7 290.3,755.7 C291.3,755.7 292.3,755.6 293.3,755.6 C294.3,755.5 295.3,755.5 296.3,755.4 C297.3,755.4 298.3,755.3 299.3,755.3 C300.3,755.3 301.3,755.2 302.3,755.2 C303.3,755.1 304.3,755.1 305.3,755.0 C306.3,755.0 307.3,754.9 308.3,754.9 C309.3,754.8 310.3,754.8 311.3,754.7 C312.3,754.7 313.3,754.7 314.3,754.6 C315.3,754.6 316.3,754.5 317.3,754.5 C318.3,754.4 319.3,754.4 320.3,754.3 C321.3,754.3 322.3,754.2 323.3,754.2 C324.3,754.1 325.3,754.1 326.3,754.0 C327.3,754.0 328.3,753.9 329.3,753.9 C330.3,753.8 331.3,753.7 332.3,753.7 C333.3,753.6 334.3,753.6 335.3,753.5 C336.3,753.5 337.3,753.4 338.3,753.4 C339.3,753.3 340.3,753.3 341.3,753.2 C342.3,753.2 343.3,753.1 344.3,753.0 C345.3,753.0 346.3,752.9 347.3,752.9 C348.3,752.8 349.3,752.8 350.3,752.7 C351.3,752.6 352.3,752.6 353.3,752.5 C354.3,752.5 355.3,752.4 356.3,752.3 C357.3,752.3 358.3,752.2 359.3,752.1 C360.3,752.1 361.3,752.0 362.3,752.0 C363.3,751.9 364.3,751.8 365.3,751.8 C366.3,751.7 367.3,751.6 368.3,751.6 C369.3,751.5 370.3,751.4 371.3,751.4 C372.3,751.3 373.3,751.2 374.3,751.2 C375.3,751.1 376.3,751.0 377.3,751.0 C378.3,750.9 379.3,750.8 380.3,750.8 C381.3,750.7 382.3,750.6 383.3,750.5 C384.3,750.5 385.3,750.4 386.3,750.3 C387.3,750.2 388.3,750.2 389.3,750.1 C390.3,750.0 391.3,749.9 392.3,749.9 C393.3,749.8 394.3,749.7 395.3,749.6 C396.3,749.6 397.3,749.5 398.3,749.4 C399.3,749.3 400.3,749.2 401.3,749.2 C402.3,749.1 403.3,749.0 404.3,748.9 C405.3,748.8 406.3,748.7 407.3,748.7 C408.3,748.6 409.3,748.5 410.3,748.4 C411.3,748.3 412.3,748.2 413.3,748.1 C414.3,748.0 415.3,748.0 416.3,747.9 C417.3,747.8 418.3,747.7 419.3,747.6 C420.3,747.5 421.3,747.4 422.3,747.3 C423.3,747.2 424.3,747.1 425.3,747.0 C426.3,746.9 427.3,746.8 428.3,746.7 C429.3,746.6 430.3,746.5 431.3,746.4 C432.3,746.3 433.3,746.2 434.3,746.1 C435.3,746.0 436.3,745.9 437.3,745.8 C438.3,745.7 439.3,745.6 440.3,745.5 C441.3,745.4 442.3,745.3 443.3,745.2 C444.3,745.1 445.3,745.0 446.3,744.9 C447.3,744.8 448.3,744.7 449.3,744.6 C450.3,744.4 451.3,744.3 452.3,744.2 C453.3,744.1 454.3,744.0 455.3,743.9 C456.3,743.8 457.3,743.6 458.3,743.5 C459.3,743.4 460.3,743.3 461.3,743.2 C462.3,743.1 463.3,742.9 464.3,742.8 C465.3,742.7 466.3,742.6 467.3,742.4 C468.3,742.3 469.3,742.2 470.3,742.1 C471.3,741.9 472.3,741.8 473.3,741.7 C474.3,741.6 475.3,741.4 476.3,741.3 C477.3,741.2 478.3,741.0 479.3,740.9 C480.3,740.8 481.3,740.6 482.3,740.5 C483.3,740.4 484.3,740.2 485.3,740.1 C486.3,739.9 487.3,739.8 488.3,739.7 C489.3,739.5 490.3,739.4 491.3,739.2 C492.3,739.1 493.3,738.9 494.3,738.8 C495.3,738.6 496.3,738.5 497.3,738.4 C498.3,738.2 499.3,738.1 500.3,737.9 C501.3,737.8 502.3,737.6 503.3,737.4 C504.3,737.3 505.3,737.1 506.3,737.0 C507.3,736.8 508.3,736.7 509.3,736.5 C510.3,736.3 511.3,736.2 512.3,736.0 C513.3,735.9 514.3,735.7 515.3,735.5 C516.3,735.4 517.3,735.2 518.3,735.0 C519.3,734.9 520.3,734.7 521.3,734.5 C522.3,734.4 523.3,734.2 524.3,734.0 C525.3,733.8 526.3,733.7 527.3,733.5 C528.3,733.3 529.3,733.1 530.3,733.0 C531.3,732.8 532.3,732.6 533.3,732.4 C534.3,732.2 535.3,732.0 536.3,731.9 C537.3,731.7 538.3,731.5 539.3,731.3 C540.3,731.1 541.3,730.9 542.3,730.7 C543.3,730.5 544.3,730.3 545.3,730.2 C546.3,730.0 547.3,729.8 548.3,729.6 C549.3,729.4 550.3,729.2 551.3,729.0 C552.3,728.8 553.3,728.6 554.3,728.4 C555.3,728.2 556.3,728.0 557.3,727.7 C558.3,727.5 559.3,727.3 560.3,727.1 C561.3,726.9 562.3,726.7 563.3,726.5 C564.3,726.3 565.3,726.1 566.3,725.8 C567.3,725.6 568.3,725.4 569.3,725.2 C570.3,725.0 571.3,724.7 572.3,724.5 C573.3,724.3 574.3,724.1 575.3,723.8 C576.3,723.6 577.3,723.4 578.3,723.2 C579.3,722.9 580.3,722.7 581.3,722.5 C582.3,722.2 583.3,722.0 584.3,721.8 C585.3,721.5 586.3,721.3 587.3,721.0 C588.3,720.8 589.3,720.6 590.3,720.3 C591.3,720.1 592.3,719.8 593.3,719.6 C594.3,719.3 595.3,719.1 596.3,718.8 C597.3,718.6 598.3,718.3 599.3,718.1 C600.3,717.8 601.3,717.5 602.3,717.3 C603.3,717.0 604.3,716.8 605.3,716.5 C606.3,716.2 607.3,716.0 608.3,715.7 C609.3,715.4 610.3,715.2 611.3,714.9 C612.3,714.6 613.3,714.3 614.3,714.1 C615.3,713.8 616.3,713.5 617.3,713.2 C618.3,712.9 619.3,712.7 620.3,712.4 C621.3,712.1 622.3,711.8 623.3,711.5 C624.3,711.2 625.3,710.9 626.3,710.6 C627.3,710.3 628.3,710.0 629.3,709.7 C630.3,709.4 631.3,709.1 632.3,708.8 C633.3,708.5 634.3,708.2 635.3,707.9 C636.3,707.6 637.3,707.3 638.3,707.0 C639.3,706.7 640.3,706.3 641.3,706.0 C642.3,705.7 643.3,705.4 644.3,705.1 C645.3,704.7 646.3,704.4 647.3,704.1 C648.3,703.8 649.3,703.4 650.3,703.1 C651.3,702.8 652.3,702.4 653.3,702.1 C654.3,701.7 655.3,701.4 656.3,701.1 C657.3,700.7 658.3,700.4 659.3,700.0 C660.3,699.7 661.3,699.3 662.3,699.0 C663.3,698.6 664.3,698.2 665.3,697.9 C666.3,697.5 667.3,697.2 668.3,696.8 C669.3,696.4 670.3,696.1 671.3,695.7 C672.3,695.3 673.3,694.9 674.3,694.6 C675.3,694.2 676.3,693.8 677.3,693.4 C678.3,693.0 679.3,692.7 680.3,692.3 C681.3,691.9 682.3,691.5 683.3,691.1 C684.3,690.7 685.3,690.3 686.3,689.9 C687.3,689.5 688.3,689.1 689.3,688.7 C690.3,688.3 691.3,687.9 692.3,687.5 C693.3,687.1 694.3,686.6 695.3,686.2 C696.3,685.8 697.3,685.4 698.3,685.0 C699.3,684.5 700.3,684.1 701.3,683.7 C702.3,683.3 703.3,682.8 704.3,682.4 C705.3,682.0 706.3,681.5 707.3,681.1 C708.3,680.7 709.3,680.2 710.3,679.8 C711.3,679.3 712.3,678.9 713.3,678.4 C714.3,678.0 715.3,677.5 716.3,677.1 C717.3,676.6 718.3,676.2 719.3,675.7 C720.3,675.3 721.3,674.8 722.3,674.4 C723.3,673.9 724.3,673.4 725.3,673.0 C726.3,672.5 727.3,672.0 728.3,671.6 C729.3,671.1 730.3,670.6 731.3,670.1 C732.3,669.7 733.3,669.2 734.3,668.7 C735.3,668.2 736.3,667.7 737.3,667.3 C738.3,666.8 739.3,666.3 740.3,665.8 C741.3,665.3 742.3,664.8 743.3,664.3 C744.3,663.8 745.3,663.3 746.3,662.8 C747.3,662.3 748.3,661.8 749.3,661.3 C750.3,660.8 751.3,660.3 752.3,659.8 C753.3,659.3 754.3,658.8 755.3,658.3 C756.3,657.8 757.3,657.3 758.3,656.8 C759.3,656.3 760.3,655.8 761.3,655.2 C762.3,654.7 763.3,654.2 764.3,653.7 C765.3,653.2 766.3,652.7 767.3,652.1 C768.3,651.6 769.3,651.1 770.3,650.6 C771.3,650.0 772.3,649.5 773.3,649.0 C774.3,648.5 775.3,647.9 776.3,647.4 C777.3,646.9 778.3,646.3 779.3,645.8 C780.3,645.3 781.3,644.7 782.3,644.2 C783.3,643.7 784.3,643.1 785.3,642.6 C786.3,642.1 787.3,641.5 788.3,641.0 C789.3,640.5 790.3,639.9 791.3,639.4 C792.3,638.8 793.3,638.3 794.3,637.8 C795.3,637.2 796.3,636.7 797.3,636.1 C798.3,635.6 799.3,635.1 800.3,634.5 C801.3,634.0 802.3,633.4 803.3,632.9 C804.3,632.3 805.3,631.8 806.3,631.3 C807.3,630.7 808.3,630.2 809.3,629.6 C810.3,629.1 811.3,628.5 812.3,628.0 C813.3,627.4 814.3,626.9 815.3,626.3 C816.3,625.8 817.3,625.3 818.3,624.7 C819.3,624.2 820.3,623.6 821.3,623.1 C822.3,622.5 823.3,622.0 824.3,621.4 C825.3,620.9 826.3,620.4 827.3,619.8 C828.3,619.3 829.3,618.7 830.3,618.2 C831.3,617.6 832.3,617.1 833.3,616.6 C834.3,616.0 835.3,615.5 836.3,614.9 C837.3,614.4 838.3,613.9 839.3,613.3 C840.3,612.8 841.3,612.2 842.3,611.7 C843.3,611.2 844.3,610.6 845.3,610.1 C846.3,609.6 847.3,609.0 848.3,608.5 C849.3,608.0 850.3,607.4 851.3,606.9 C852.3,606.4 853.3,605.8 854.3,605.3 C855.3,604.8 856.3,604.2 857.3,603.7 C858.3,603.2 859.3,602.7 860.3,602.1 C861.3,601.6 862.3,601.1 863.3,600.6 C864.3,600.1 865.3,599.5 866.3,599.0 C867.3,598.5 868.3,598.0 869.3,597.5 C870.3,597.0 871.3,596.4 872.3,595.9 C873.3,595.4 874.3,594.9 875.3,594.4 C876.3,593.9 877.3,593.4 878.3,592.9 C879.3,592.4 880.3,591.9 881.3,591.4 C882.3,590.9 883.3,590.4 884.3,589.9 C885.3,589.4 886.3,588.9 887.3,588.4 C888.3,587.9 889.3,587.4 890.3,586.9 C891.3,586.5 892.3,586.0 893.3,585.5 C894.3,585.0 895.3,584.5 896.3,584.1 C897.3,583.6 898.3,583.1 899.3,582.6 C900.3,582.2 901.3,581.7 902.3,581.2 C903.3,580.8 904.3,580.3 905.3,579.8 C906.3,579.4 907.3,578.9 908.3,578.5 C909.3,578.0 910.3,577.5 911.3,577.1 C912.3,576.7 913.3,576.2 914.3,575.8 C915.3,575.3 916.3,574.9 917.3,574.4 C918.3,574.0 919.3,573.6 920.3,573.1 C921.3,572.7 922.3,572.3 923.3,571.9 C924.3,571.4 925.3,571.0 926.3,570.6 C927.3,570.2 928.3,569.8 929.3,569.4 C930.3,568.9 931.3,568.5 932.3,568.1 C933.3,567.7 934.4,567.3 935.3,566.9 C936.2,566.6 937.1,566.2 937.5,566.1" stroke="#d62728" stroke-width="2.9"/>
</g>
<g fill="none" stroke-width="1.80">
<g stroke="#2ca02c"><circle cx="168.7" cy="756.5" r="5.90"/><circle cx="187.9" cy="756.3" r="5.90"/><circle cx="207.1" cy="756.5" r="5.90"/><circle cx="226.4" cy="756.5" r="5.90"/><circle cx="245.6" cy="756.0" r="5.90"/><circle cx="264.8" cy="755.3" r="5.90"/><circle cx="284.0" cy="756.5" r="5.90"/><circle cx="303.2" cy="757.0" r="5.90"/><circle cx="322.5" cy="757.0" r="5.90"/><circle cx="341.7" cy="757.2" r="5.90"/><circle cx="360.9" cy="757.5" r="5.90"/><circle cx="380.1" cy="758.3" r="5.90"/><circle cx="399.3" cy="757.7" r="5.90"/><circle cx="418.6" cy="757.3" r="5.90"/><circle cx="437.8" cy="757.7" r="5.90"/><circle cx="457.0" cy="757.5" r="5.90"/><circle cx="476.2" cy="757.5" r="5.90"/><circle cx="495.4" cy="757.1" r="5.90"/><circle cx="514.7" cy="757.0" r="5.90"/><circle cx="533.9" cy="756.5" r="5.90"/><circle cx="553.1" cy="756.1" r="5.90"/><circle cx="572.3" cy="755.1" r="5.90"/><circle cx="591.5" cy="754.5" r="5.90"/><circle cx="610.8" cy="753.7" r="5.90"/><circle cx="630.0" cy="752.4" r="5.90"/><circle cx="649.2" cy="752.0" r="5.90"/><circle cx="668.4" cy="751.0" r="5.90"/><circle cx="687.6" cy="750.3" r="5.90"/><circle cx="706.9" cy="749.3" r="5.90"/><circle cx="726.1" cy="748.0" r="5.90"/><circle cx="745.3" cy="746.6" r="5.90"/><circle cx="764.5" cy="744.9" r="5.90"/><circle cx="783.7" cy="743.1" r="5.90"/><circle cx="803.0" cy="741.4" r="5.90"/><circle cx="822.2" cy="739.6" r="5.90"/><circle cx="841.4" cy="737.8" r="5.90"/><circle cx="860.6" cy="735.6" r="5.90"/><circle cx="879.8" cy="733.4" r="5.90"/><circle cx="899.1" cy="730.4" r="5.90"/><circle cx="918.3" cy="728.2" r="5.90"/><circle cx="937.5" cy="726.8" r="5.90"/></g>
<g stroke="#1f77b4"><circle cx="168.7" cy="763.2" r="5.90"/><circle cx="187.9" cy="762.7" r="5.90"/><circle cx="207.1" cy="762.2" r="5.90"/><circle cx="226.4" cy="761.6" r="5.90"/><circle cx="245.6" cy="761.1" r="5.90"/><circle cx="264.8" cy="760.8" r="5.90"/><circle cx="284.0" cy="760.0" r="5.90"/><circle cx="303.2" cy="759.3" r="5.90"/><circle cx="322.5" cy="758.7" r="5.90"/><circle cx="341.7" cy="758.3" r="5.90"/><circle cx="360.9" cy="757.7" r="5.90"/><circle cx="380.1" cy="755.2" r="5.90"/><circle cx="399.3" cy="752.8" r="5.90"/><circle cx="418.6" cy="749.7" r="5.90"/><circle cx="437.8" cy="747.0" r="5.90"/><circle cx="457.0" cy="743.6" r="5.90"/><circle cx="476.2" cy="740.5" r="5.90"/><circle cx="495.4" cy="738.1" r="5.90"/><circle cx="514.7" cy="734.6" r="5.90"/><circle cx="533.9" cy="730.6" r="5.90"/><circle cx="553.1" cy="726.5" r="5.90"/><circle cx="572.3" cy="722.4" r="5.90"/><circle cx="591.5" cy="717.9" r="5.90"/><circle cx="610.8" cy="713.2" r="5.90"/><circle cx="630.0" cy="708.1" r="5.90"/><circle cx="649.2" cy="701.9" r="5.90"/><circle cx="668.4" cy="695.8" r="5.90"/><circle cx="687.6" cy="689.1" r="5.90"/><circle cx="706.9" cy="681.8" r="5.90"/><circle cx="726.1" cy="673.8" r="5.90"/><circle cx="745.3" cy="665.2" r="5.90"/><circle cx="764.5" cy="656.0" r="5.90"/><circle cx="783.7" cy="646.2" r="5.90"/><circle cx="803.0" cy="636.1" r="5.90"/><circle cx="822.2" cy="625.5" r="5.90"/><circle cx="841.4" cy="613.6" r="5.90"/><circle cx="860.6" cy="601.3" r="5.90"/><circle cx="879.8" cy="589.1" r="5.90"/><circle cx="899.1" cy="576.4" r="5.90"/><circle cx="918.3" cy="564.5" r="5.90"/><circle cx="937.5" cy="559.4" r="5.90"/></g>
</g>
<defs>
<linearGradient id="h0" x1="288.1" x2="607.8" y1="0" y2="0" gradientUnits="userSpaceOnUse">
<stop offset="0.000" stop-color="#fcf2b4"/>
<stop offset="0.025" stop-color="#fcf2b4"/>
<stop offset="0.050" stop-color="#fcf2b4"/>
<stop offset="0.075" stop-color="#fcf2b4"/>
<stop offset="0.100" stop-color="#fcf2b4"/>
<stop offset="0.125" stop-color="#fcf4b6"/>
<stop offset="0.150" stop-color="#fcf4b6"/>
<stop offset="0.175" stop-color="#fcf4b6"/>
<stop offset="0.200" stop-color="#fcf4b6"/>
<stop offset="0.225" stop-color="#fcf4b6"/>
<stop offset="0.250" stop-color="#fcf4b6"/>
<stop offset="0.275" stop-color="#fcf4b6"/>
<stop offset="0.300" stop-color="#fcf4b6"/>
<stop offset="0.325" stop-color="#fcf4b6"/>
<stop offset="0.350" stop-color="#fcf4b6"/>
<stop offset="0.375" stop-color="#fcf4b6"/>
<stop offset="0.400" stop-color="#fcf6b8"/>
<stop offset="0.413" stop-color="#fcf6b8"/>
<stop offset="0.463" stop-color="#fcf6b8"/>
<stop offset="0.513" stop-color="#fcf6b8"/>
<stop offset="0.563" stop-color="#fcf6b8"/>
<stop offset="0.613" stop-color="#fcf6b8"/>
<stop offset="0.663" stop-color="#fcf7b9"/>
<stop offset="0.713" stop-color="#fcf7b9"/>
<stop offset="0.763" stop-color="#fcf7b9"/>
<stop offset="0.813" stop-color="#fcf7b9"/>
<stop offset="0.863" stop-color="#fcf7b9"/>
<stop offset="0.913" stop-color="#fcf9bb"/>
<stop offset="0.963" stop-color="#fcf9bb"/>
<stop offset="1.000" stop-color="#fcf9bb"/>
</linearGradient>
<linearGradient id="h1" x1="288.1" x2="607.8" y1="0" y2="0" gradientUnits="userSpaceOnUse">
<stop offset="0.000" stop-color="#fcf2b4"/>
<stop offset="0.025" stop-color="#fcf2b4"/>
<stop offset="0.050" stop-color="#fcf2b4"/>
<stop offset="0.075" stop-color="#fcf2b4"/>
<stop offset="0.100" stop-color="#fcf2b4"/>
<stop offset="0.125" stop-color="#fcf4b6"/>
<stop offset="0.150" stop-color="#fcf4b6"/>
<stop offset="0.175" stop-color="#fcf4b6"/>
<stop offset="0.200" stop-color="#fcf4b6"/>
<stop offset="0.225" stop-color="#fcf4b6"/>
<stop offset="0.250" stop-color="#fcf4b6"/>
<stop offset="0.275" stop-color="#fcf4b6"/>
<stop offset="0.300" stop-color="#fcf4b6"/>
<stop offset="0.325" stop-color="#fcf4b6"/>
<stop offset="0.350" stop-color="#fcf4b6"/>
<stop offset="0.375" stop-color="#fcf4b6"/>
<stop offset="0.400" stop-color="#fcf4b6"/>
<stop offset="0.413" stop-color="#fcf6b8"/>
<stop offset="0.463" stop-color="#fcf6b8"/>
<stop offset="0.513" stop-color="#fcf6b8"/>
<stop offset="0.563" stop-color="#fcf6b8"/>
<stop offset="0.613" stop-color="#fcf6b8"/>
<stop offset="0.663" stop-color="#fcf7b9"/>
<stop offset="0.713" stop-color="#fcf7b9"/>
<stop offset="0.763" stop-color="#fcf7b9"/>
<stop offset="0.813" stop-color="#fcf7b9"/>
<stop offset="0.863" stop-color="#fcf7b9"/>
<stop offset="0.913" stop-color="#fcf9bb"/>
<stop offset="0.963" stop-color="#fcf9bb"/>
<stop offset="1.000" stop-color="#fcf9bb"/>
</linearGradient>
<linearGradient id="h2" x1="288.1" x2="607.8" y1="0" y2="0" gradientUnits="userSpaceOnUse">
<stop offset="0.000" stop-color="#fcf2b4"/>
<stop offset="0.025" stop-color="#fcf2b4"/>
<stop offset="0.050" stop-color="#fcf2b4"/>
<stop offset="0.075" stop-color="#fcf2b4"/>
<stop offset="0.100" stop-color="#fcf2b4"/>
<stop offset="0.125" stop-color="#fcf4b6"/>
<stop offset="0.150" stop-color="#fcf4b6"/>
<stop offset="0.175" stop-color="#fcf4b6"/>
<stop offset="0.200" stop-color="#fcf4b6"/>
<stop offset="0.225" stop-color="#fcf4b6"/>
<stop offset="0.250" stop-color="#fcf4b6"/>
<stop offset="0.275" stop-color="#fcf4b6"/>
<stop offset="0.300" stop-color="#fcf4b6"/>
<stop offset="0.325" stop-color="#fcf4b6"/>
<stop offset="0.350" stop-color="#fcf4b6"/>
<stop offset="0.375" stop-color="#fcf4b6"/>
<stop offset="0.400" stop-color="#fcf4b6"/>
<stop offset="0.413" stop-color="#fcf6b8"/>
<stop offset="0.463" stop-color="#fcf6b8"/>
<stop offset="0.513" stop-color="#fcf6b8"/>
<stop offset="0.563" stop-color="#fcf6b8"/>
<stop offset="0.613" stop-color="#fcf6b8"/>
<stop offset="0.663" stop-color="#fcf7b9"/>
<stop offset="0.713" stop-color="#fcf7b9"/>
<stop offset="0.763" stop-color="#fcf7b9"/>
<stop offset="0.813" stop-color="#fcf7b9"/>
<stop offset="0.863" stop-color="#fcf7b9"/>
<stop offset="0.913" stop-color="#fcf9bb"/>
<stop offset="0.963" stop-color="#fcf9bb"/>
<stop offset="1.000" stop-color="#fcf9bb"/>
</linearGradient>
<linearGradient id="h3" x1="288.1" x2="607.8" y1="0" y2="0" gradientUnits="userSpaceOnUse">
<stop offset="0.000" stop-color="#fcf2b4"/>
<stop offset="0.025" stop-color="#fcf2b4"/>
<stop offset="0.050" stop-color="#fcf2b4"/>
<stop offset="0.075" stop-color="#fcf2b4"/>
<stop offset="0.100" stop-color="#fcf2b4"/>
<stop offset="0.125" stop-color="#fcf4b6"/>
<stop offset="0.150" stop-color="#fcf4b6"/>
<stop offset="0.175" stop-color="#fcf4b6"/>
<stop offset="0.200" stop-color="#fcf4b6"/>
<stop offset="0.225" stop-color="#fcf4b6"/>
<stop offset="0.250" stop-color="#fcf4b6"/>
<stop offset="0.275" stop-color="#fcf4b6"/>
<stop offset="0.300" stop-color="#fcf4b6"/>
<stop offset="0.325" stop-color="#fcf4b6"/>
<stop offset="0.350" stop-color="#fcf4b6"/>
<stop offset="0.375" stop-color="#fcf4b6"/>
<stop offset="0.400" stop-color="#fcf4b6"/>
<stop offset="0.413" stop-color="#fcf6b8"/>
<stop offset="0.463" stop-color="#fcf6b8"/>
<stop offset="0.513" stop-color="#fcf6b8"/>
<stop offset="0.563" stop-color="#fcf6b8"/>
<stop offset="0.613" stop-color="#fcf6b8"/>
<stop offset="0.663" stop-color="#fcf7b9"/>
<stop offset="0.713" stop-color="#fcf7b9"/>
<stop offset="0.763" stop-color="#fcf7b9"/>
<stop offset="0.813" stop-color="#fcf7b9"/>
<stop offset="0.863" stop-color="#fcf7b9"/>
<stop offset="0.913" stop-color="#fcf9bb"/>
<stop offset="0.963" stop-color="#fcf9bb"/>
<stop offset="1.000" stop-color="#fcf9bb"/>
</linearGradient>
<linearGradient id="h4" x1="288.1" x2="607.8" y1="0" y2="0" gradientUnits="userSpaceOnUse">
<stop offset="0.000" stop-color="#fcf2b4"/>
<stop offset="0.025" stop-color="#fcf2b4"/>
<stop offset="0.050" stop-color="#fcf2b4"/>
<stop offset="0.075" stop-color="#fcf2b4"/>
<stop offset="0.100" stop-color="#fcf2b4"/>
<stop offset="0.125" stop-color="#fcf4b6"/>
<stop offset="0.150" stop-color="#fcf4b6"/>
<stop offset="0.175" stop-color="#fcf4b6"/>
<stop offset="0.200" stop-color="#fcf4b6"/>
<stop offset="0.225" stop-color="#fcf4b6"/>
<stop offset="0.250" stop-color="#fcf4b6"/>
<stop offset="0.275" stop-color="#fcf4b6"/>
<stop offset="0.300" stop-color="#fcf4b6"/>
<stop offset="0.325" stop-color="#fcf4b6"/>
<stop offset="0.350" stop-color="#fcf4b6"/>
<stop offset="0.375" stop-color="#fcf4b6"/>
<stop offset="0.400" stop-color="#fcf4b6"/>
<stop offset="0.413" stop-color="#fcf6b8"/>
<stop offset="0.463" stop-color="#fcf6b8"/>
<stop offset="0.513" stop-color="#fcf6b8"/>
<stop offset="0.563" stop-color="#fcf6b8"/>
<stop offset="0.613" stop-color="#fcf6b8"/>
<stop offset="0.663" stop-color="#fcf7b9"/>
<stop offset="0.713" stop-color="#fcf7b9"/>
<stop offset="0.763" stop-color="#fcf7b9"/>
<stop offset="0.813" stop-color="#fcf7b9"/>
<stop offset="0.863" stop-color="#fcf7b9"/>
<stop offset="0.913" stop-color="#fcf9bb"/>
<stop offset="0.963" stop-color="#fcf9bb"/>
<stop offset="1.000" stop-color="#fcf9bb"/>
</linearGradient>
<linearGradient id="h5" x1="288.1" x2="607.8" y1="0" y2="0" gradientUnits="userSpaceOnUse">
<stop offset="0.000" stop-color="#fcf2b4"/>
<stop offset="0.025" stop-color="#fcf2b4"/>
<stop offset="0.050" stop-color="#fcf2b4"/>
<stop offset="0.075" stop-color="#fcf2b4"/>
<stop offset="0.100" stop-color="#fcf2b4"/>
<stop offset="0.125" stop-color="#fcf4b6"/>
<stop offset="0.150" stop-color="#fcf4b6"/>
<stop offset="0.175" stop-color="#fcf4b6"/>
<stop offset="0.200" stop-color="#fcf4b6"/>
<stop offset="0.225" stop-color="#fcf4b6"/>
<stop offset="0.250" stop-color="#fcf4b6"/>
<stop offset="0.275" stop-color="#fcf4b6"/>
<stop offset="0.300" stop-color="#fcf4b6"/>
<stop offset="0.325" stop-color="#fcf4b6"/>
<stop offset="0.350" stop-color="#fcf4b6"/>
<stop offset="0.375" stop-color="#fcf4b6"/>
<stop offset="0.400" stop-color="#fcf4b6"/>
<stop offset="0.413" stop-color="#fcf4b6"/>
<stop offset="0.463" stop-color="#fcf6b8"/>
<stop offset="0.513" stop-color="#fcf6b8"/>
<stop offset="0.563" stop-color="#fcf6b8"/>
<stop offset="0.613" stop-color="#fcf6b8"/>
<stop offset="0.663" stop-color="#fcf7b9"/>
<stop offset="0.713" stop-color="#fcf7b9"/>
<stop offset="0.763" stop-color="#fcf7b9"/>
<stop offset="0.813" stop-color="#fcf7b9"/>
<stop offset="0.863" stop-color="#fcf7b9"/>
<stop offset="0.913" stop-color="#fcf9bb"/>
<stop offset="0.963" stop-color="#fcf9bb"/>
<stop offset="1.000" stop-color="#fcf9bb"/>
</linearGradient>
<linearGradient id="h6" x1="288.1" x2="607.8" y1="0" y2="0" gradientUnits="userSpaceOnUse">
<stop offset="0.000" stop-color="#fcf2b4"/>
<stop offset="0.025" stop-color="#fcf2b4"/>
<stop offset="0.050" stop-color="#fcf2b4"/>
<stop offset="0.075" stop-color="#fcf2b4"/>
<stop offset="0.100" stop-color="#fcf2b4"/>
<stop offset="0.125" stop-color="#fcf4b6"/>
<stop offset="0.150" stop-color="#fcf4b6"/>
<stop offset="0.175" stop-color="#fcf4b6"/>
<stop offset="0.200" stop-color="#fcf4b6"/>
<stop offset="0.225" stop-color="#fcf4b6"/>
<stop offset="0.250" stop-color="#fcf4b6"/>
<stop offset="0.275" stop-color="#fcf4b6"/>
<stop offset="0.300" stop-color="#fcf4b6"/>
<stop offset="0.325" stop-color="#fcf4b6"/>
<stop offset="0.350" stop-color="#fcf4b6"/>
<stop offset="0.375" stop-color="#fcf4b6"/>
<stop offset="0.400" stop-color="#fcf4b6"/>
<stop offset="0.413" stop-color="#fcf4b6"/>
<stop offset="0.463" stop-color="#fcf6b8"/>
<stop offset="0.513" stop-color="#fcf6b8"/>
<stop offset="0.563" stop-color="#fcf6b8"/>
<stop offset="0.613" stop-color="#fcf6b8"/>
<stop offset="0.663" stop-color="#fcf7b9"/>
<stop offset="0.713" stop-color="#fcf7b9"/>
<stop offset="0.763" stop-color="#fcf7b9"/>
<stop offset="0.813" stop-color="#fcf7b9"/>
<stop offset="0.863" stop-color="#fcf7b9"/>
<stop offset="0.913" stop-color="#fcf9bb"/>
<stop offset="0.963" stop-color="#fcf9bb"/>
<stop offset="1.000" stop-color="#fcf9bb"/>
</linearGradient>
<linearGradient id="h7" x1="288.1" x2="607.8" y1="0" y2="0" gradientUnits="userSpaceOnUse">
<stop offset="0.000" stop-color="#fcf2b4"/>
<stop offset="0.025" stop-color="#fcf2b4"/>
<stop offset="0.050" stop-color="#fcf2b4"/>
<stop offset="0.075" stop-color="#fcf2b4"/>
<stop offset="0.100" stop-color="#fcf2b4"/>
<stop offset="0.125" stop-color="#fcf2b4"/>
<stop offset="0.150" stop-color="#fcf4b6"/>
<stop offset="0.175" stop-color="#fcf4b6"/>
<stop offset="0.200" stop-color="#fcf4b6"/>
<stop offset="0.225" stop-color="#fcf4b6"/>
<stop offset="0.250" stop-color="#fcf4b6"/>
<stop offset="0.275" stop-color="#fcf4b6"/>
<stop offset="0.300" stop-color="#fcf4b6"/>
<stop offset="0.325" stop-color="#fcf4b6"/>
<stop offset="0.350" stop-color="#fcf4b6"/>
<stop offset="0.375" stop-color="#fcf4b6"/>
<stop offset="0.400" stop-color="#fcf4b6"/>
<stop offset="0.413" stop-color="#fcf4b6"/>
<stop offset="0.463" stop-color="#fcf6b8"/>
<stop offset="0.513" stop-color="#fcf6b8"/>
<stop offset="0.563" stop-color="#fcf6b8"/>
<stop offset="0.613" stop-color="#fcf6b8"/>
<stop offset="0.663" stop-color="#fcf7b9"/>
<stop offset="0.713" stop-color="#fcf7b9"/>
<stop offset="0.763" stop-color="#fcf7b9"/>
<stop offset="0.813" stop-color="#fcf7b9"/>
<stop offset="0.863" stop-color="#fcf7b9"/>
<stop offset="0.913" stop-color="#fcf9bb"/>
<stop offset="0.963" stop-color="#fcf9bb"/>
<stop offset="1.000" stop-color="#fcf9bb"/>
</linearGradient>
<linearGradient id="h8" x1="288.1" x2="607.8" y1="0" y2="0" gradientUnits="userSpaceOnUse">
<stop offset="0.000" stop-color="#fcf2b4"/>
<stop offset="0.025" stop-color="#fcf2b4"/>
<stop offset="0.050" stop-color="#fcf2b4"/>
<stop offset="0.075" stop-color="#fcf2b4"/>
<stop offset="0.100" stop-color="#fcf2b4"/>
<stop offset="0.125" stop-color="#fcf2b4"/>
<stop offset="0.150" stop-color="#fcf4b6"/>
<stop offset="0.175" stop-color="#fcf4b6"/>
<stop offset="0.200" stop-color="#fcf4b6"/>
<stop offset="0.225" stop-color="#fcf4b6"/>
<stop offset="0.250" stop-color="#fcf4b6"/>
<stop offset="0.275" stop-color="#fcf4b6"/>
<stop offset="0.300" stop-color="#fcf4b6"/>
<stop offset="0.325" stop-color="#fcf4b6"/>
<stop offset="0.350" stop-color="#fcf4b6"/>
<stop offset="0.375" stop-color="#fcf4b6"/>
<stop offset="0.400" stop-color="#fcf4b6"/>
<stop offset="0.413" stop-color="#fcf4b6"/>
<stop offset="0.463" stop-color="#fcf6b8"/>
<stop offset="0.513" stop-color="#fcf6b8"/>
<stop offset="0.563" stop-color="#fcf6b8"/>
<stop offset="0.613" stop-color="#fcf6b8"/>
<stop offset="0.663" stop-color="#fcf6b8"/>
<stop offset="0.713" stop-color="#fcf7b9"/>
<stop offset="0.763" stop-color="#fcf7b9"/>
<stop offset="0.813" stop-color="#fcf7b9"/>
<stop offset="0.863" stop-color="#fcf7b9"/>
<stop offset="0.913" stop-color="#fcf9bb"/>
<stop offset="0.963" stop-color="#fcf9bb"/>
<stop offset="1.000" stop-color="#fcf9bb"/>
</linearGradient>
<linearGradient id="h9" x1="288.1" x2="607.8" y1="0" y2="0" gradientUnits="userSpaceOnUse">
<stop offset="0.000" stop-color="#fcf2b4"/>
<stop offset="0.025" stop-color="#fcf2b4"/>
<stop offset="0.050" stop-color="#fcf2b4"/>
<stop offset="0.075" stop-color="#fcf2b4"/>
<stop offset="0.100" stop-color="#fcf2b4"/>
<stop offset="0.125" stop-color="#fcf2b4"/>
<stop offset="0.150" stop-color="#fcf4b6"/>
<stop offset="0.175" stop-color="#fcf4b6"/>
<stop offset="0.200" stop-color="#fcf4b6"/>
<stop offset="0.225" stop-color="#fcf4b6"/>
<stop offset="0.250" stop-color="#fcf4b6"/>
<stop offset="0.275" stop-color="#fcf4b6"/>
<stop offset="0.300" stop-color="#fcf4b6"/>
<stop offset="0.325" stop-color="#fcf4b6"/>
<stop offset="0.350" stop-color="#fcf4b6"/>
<stop offset="0.375" stop-color="#fcf4b6"/>
<stop offset="0.400" stop-color="#fcf4b6"/>
<stop offset="0.413" stop-color="#fcf4b6"/>
<stop offset="0.463" stop-color="#fcf6b8"/>
<stop offset="0.513" stop-color="#fcf6b8"/>
<stop offset="0.563" stop-color="#fcf6b8"/>
<stop offset="0.613" stop-color="#fcf6b8"/>
<stop offset="0.663" stop-color="#fcf6b8"/>
<stop offset="0.713" stop-color="#fcf7b9"/>
<stop offset="0.763" stop-color="#fcf7b9"/>
<stop offset="0.813" stop-color="#fcf7b9"/>
<stop offset="0.863" stop-color="#fcf7b9"/>
<stop offset="0.913" stop-color="#fcf9bb"/>
<stop offset="0.963" stop-color="#fcf9bb"/>
<stop offset="1.000" stop-color="#fcf9bb"/>
</linearGradient>
<linearGradient id="h10" x1="288.1" x2="607.8" y1="0" y2="0" gradientUnits="userSpaceOnUse">
<stop offset="0.000" stop-color="#fcf2b4"/>
<stop offset="0.025" stop-color="#fcf2b4"/>
<stop offset="0.050" stop-color="#fcf2b4"/>
<stop offset="0.075" stop-color="#fcf2b4"/>
<stop offset="0.100" stop-color="#fcf2b4"/>
<stop offset="0.125" stop-color="#fcf2b4"/>
<stop offset="0.150" stop-color="#fcf2b4"/>
<stop offset="0.175" stop-color="#fcf4b6"/>
<stop offset="0.200" stop-color="#fcf4b6"/>
<stop offset="0.225" stop-color="#fcf4b6"/>
<stop offset="0.250" stop-color="#fcf4b6"/>
<stop offset="0.275" stop-color="#fcf4b6"/>
<stop offset="0.300" stop-color="#fcf4b6"/>
<stop offset="0.325" stop-color="#fcf4b6"/>
<stop offset="0.350" stop-color="#fcf4b6"/>
<stop offset="0.375" stop-color="#fcf4b6"/>
<stop offset="0.400" stop-color="#fcf4b6"/>
<stop offset="0.413" stop-color="#fcf4b6"/>
<stop offset="0.463" stop-color="#fcf4b6"/>
<stop offset="0.513" stop-color="#fcf6b8"/>
<stop offset="0.563" stop-color="#fcf6b8"/>
<stop offset="0.613" stop-color="#fcf6b8"/>
<stop offset="0.663" stop-color="#fcf6b8"/>
<stop offset="0.713" stop-color="#fcf7b9"/>
<stop offset="0.763" stop-color="#fcf7b9"/>
<stop offset="0.813" stop-color="#fcf7b9"/>
<stop offset="0.863" stop-color="#fcf7b9"/>
<stop offset="0.913" stop-color="#fcf7b9"/>
<stop offset="0.963" stop-color="#fcf9bb"/>
<stop offset="1.000" stop-color="#fcf9bb"/>
</linearGradient>
<linearGradient id="h11" x1="288.1" x2="607.8" y1="0" y2="0" gradientUnits="userSpaceOnUse">
<stop offset="0.000" stop-color="#fcf2b4"/>
<stop offset="0.025" stop-color="#fcf2b4"/>
<stop offset="0.050" stop-color="#fcf2b4"/>
<stop offset="0.075" stop-color="#fcf2b4"/>
<stop offset="0.100" stop-color="#fcf2b4"/>
<stop offset="0.125" stop-color="#fcf2b4"/>
<stop offset="0.150" stop-color="#fcf2b4"/>
<stop offset="0.175" stop-color="#fcf4b6"/>
<stop offset="0.200" stop-color="#fcf4b6"/>
<stop offset="0.225" stop-color="#fcf4b6"/>
<stop offset="0.250" stop-color="#fcf4b6"/>
<stop offset="0.275" stop-color="#fcf4b6"/>
<stop offset="0.300" stop-color="#fcf4b6"/>
<stop offset="0.325" stop-color="#fcf4b6"/>
<stop offset="0.350" stop-color="#fcf4b6"/>
<stop offset="0.375" stop-color="#fcf4b6"/>
<stop offset="0.400" stop-color="#fcf4b6"/>
<stop offset="0.413" stop-color="#fcf4b6"/>
<stop offset="0.463" stop-color="#fcf4b6"/>
<stop offset="0.513" stop-color="#fcf6b8"/>
<stop offset="0.563" stop-color="#fcf6b8"/>
<stop offset="0.613" stop-color="#fcf6b8"/>
<stop offset="0.663" stop-color="#fcf6b8"/>
<stop offset="0.713" stop-color="#fcf7b9"/>
<stop offset="0.763" stop-color="#fcf7b9"/>
<stop offset="0.813" stop-color="#fcf7b9"/>
<stop offset="0.863" stop-color="#fcf7b9"/>
<stop offset="0.913" stop-color="#fcf7b9"/>
<stop offset="0.963" stop-color="#fcf9bb"/>
<stop offset="1.000" stop-color="#fcf9bb"/>
</linearGradient>
<linearGradient id="h12" x1="288.1" x2="607.8" y1="0" y2="0" gradientUnits="userSpaceOnUse">
<stop offset="0.000" stop-color="#fcf2b4"/>
<stop offset="0.025" stop-color="#fcf2b4"/>
<stop offset="0.050" stop-color="#fcf2b4"/>
<stop offset="0.075" stop-color="#fcf2b4"/>
<stop offset="0.100" stop-color="#fcf2b4"/>
<stop offset="0.125" stop-color="#fcf2b4"/>
<stop offset="0.150" stop-color="#fcf2b4"/>
<stop offset="0.175" stop-color="#fcf2b4"/>
<stop offset="0.200" stop-color="#fcf4b6"/>
<stop offset="0.225" stop-color="#fcf4b6"/>
<stop offset="0.250" stop-color="#fcf4b6"/>
<stop offset="0.275" stop-color="#fcf4b6"/>
<stop offset="0.300" stop-color="#fcf4b6"/>
<stop offset="0.325" stop-color="#fcf4b6"/>
<stop offset="0.350" stop-color="#fcf4b6"/>
<stop offset="0.375" stop-color="#fcf4b6"/>
<stop offset="0.400" stop-color="#fcf4b6"/>
<stop offset="0.413" stop-color="#fcf4b6"/>
<stop offset="0.463" stop-color="#fcf4b6"/>
<stop offset="0.513" stop-color="#fcf4b6"/>
<stop offset="0.563" stop-color="#fcf6b8"/>
<stop offset="0.613" stop-color="#fcf6b8"/>
<stop offset="0.663" stop-color="#fcf6b8"/>
<stop offset="0.713" stop-color="#fcf6b8"/>
<stop offset="0.763" stop-color="#fcf7b9"/>
<stop offset="0.813" stop-color="#fcf7b9"/>
<stop offset="0.863" stop-color="#fcf7b9"/>
<stop offset="0.913" stop-color="#fcf7b9"/>
<stop offset="0.963" stop-color="#fcf9bb"/>
<stop offset="1.000" stop-color="#fcf9bb"/>
</linearGradient>
<linearGradient id="h13" x1="288.1" x2="607.8" y1="0" y2="0" gradientUnits="userSpaceOnUse">
<stop offset="0.000" stop-color="#fcf2b4"/>
<stop offset="0.025" stop-color="#fcf2b4"/>
<stop offset="0.050" stop-color="#fcf2b4"/>
<stop offset="0.075" stop-color="#fcf2b4"/>
<stop offset="0.100" stop-color="#fcf2b4"/>
<stop offset="0.125" stop-color="#fcf2b4"/>
<stop offset="0.150" stop-color="#fcf2b4"/>
<stop offset="0.175" stop-color="#fcf2b4"/>
<stop offset="0.200" stop-color="#fcf2b4"/>
<stop offset="0.225" stop-color="#fcf2b4"/>
<stop offset="0.250" stop-color="#fcf4b6"/>
<stop offset="0.275" stop-color="#fcf4b6"/>
<stop offset="0.300" stop-color="#fcf4b6"/>
<stop offset="0.325" stop-color="#fcf4b6"/>
<stop offset="0.350" stop-color="#fcf4b6"/>
<stop offset="0.375" stop-color="#fcf4b6"/>
<stop offset="0.400" stop-color="#fcf4b6"/>
<stop offset="0.413" stop-color="#fcf4b6"/>
<stop offset="0.463" stop-color="#fcf4b6"/>
<stop offset="0.513" stop-color="#fcf4b6"/>
<stop offset="0.563" stop-color="#fcf6b8"/>
<stop offset="0.613" stop-color="#fcf6b8"/>
<stop offset="0.663" stop-color="#fcf6b8"/>
<stop offset="0.713" stop-color="#fcf6b8"/>
<stop offset="0.763" stop-color="#fcf6b8"/>
<stop offset="0.813" stop-color="#fcf7b9"/>
<stop offset="0.863" stop-color="#fcf7b9"/>
<stop offset="0.913" stop-color="#fcf7b9"/>
<stop offset="0.963" stop-color="#fcf9bb"/>
<stop offset="1.000" stop-color="#fcf9bb"/>
</linearGradient>
<linearGradient id="h14" x1="288.1" x2="607.8" y1="0" y2="0" gradientUnits="userSpaceOnUse">
<stop offset="0.000" stop-color="#fcf0b2"/>
<stop offset="0.025" stop-color="#fcf2b4"/>
<stop offset="0.050" stop-color="#fcf2b4"/>
<stop offset="0.075" stop-color="#fcf2b4"/>
<stop offset="0.100" stop-color="#fcf2b4"/>
<stop offset="0.125" stop-color="#fcf2b4"/>
<stop offset="0.150" stop-color="#fcf2b4"/>
<stop offset="0.175" stop-color="#fcf2b4"/>
<stop offset="0.200" stop-color="#fcf2b4"/>
<stop offset="0.225" stop-color="#fcf2b4"/>
<stop offset="0.250" stop-color="#fcf2b4"/>
<stop offset="0.275" stop-color="#fcf2b4"/>
<stop offset="0.300" stop-color="#fcf2b4"/>
<stop offset="0.325" stop-color="#fcf2b4"/>
<stop offset="0.350" stop-color="#fcf4b6"/>
<stop offset="0.375" stop-color="#fcf4b6"/>
<stop offset="0.400" stop-color="#fcf4b6"/>
<stop offset="0.413" stop-color="#fcf4b6"/>
<stop offset="0.463" stop-color="#fcf4b6"/>
<stop offset="0.513" stop-color="#fcf4b6"/>
<stop offset="0.563" stop-color="#fcf4b6"/>
<stop offset="0.613" stop-color="#fcf6b8"/>
<stop offset="0.663" stop-color="#fcf6b8"/>
<stop offset="0.713" stop-color="#fcf6b8"/>
<stop offset="0.763" stop-color="#fcf6b8"/>
<stop offset="0.813" stop-color="#fcf6b8"/>
<stop offset="0.863" stop-color="#fcf7b9"/>
<stop offset="0.913" stop-color="#fcf7b9"/>
<stop offset="0.963" stop-color="#fcf7b9"/>
<stop offset="1.000" stop-color="#fcf9bb"/>
</linearGradient>
<linearGradient id="h15" x1="288.1" x2="607.8" y1="0" y2="0" gradientUnits="userSpaceOnUse">
<stop offset="0.000" stop-color="#fcf0b2"/>
<stop offset="0.025" stop-color="#fcf0b2"/>
<stop offset="0.050" stop-color="#fcf0b2"/>
<stop offset="0.075" stop-color="#fcf2b4"/>
<stop offset="0.100" stop-color="#fcf2b4"/>
<stop offset="0.125" stop-color="#fcf2b4"/>
<stop offset="0.150" stop-color="#fcf2b4"/>
<stop offset="0.175" stop-color="#fcf2b4"/>
<stop offset="0.200" stop-color="#fcf2b4"/>
<stop offset="0.225" stop-color="#fcf2b4"/>
<stop offset="0.250" stop-color="#fcf2b4"/>
<stop offset="0.275" stop-color="#fcf2b4"/>
<stop offset="0.300" stop-color="#fcf2b4"/>
<stop offset="0.325" stop-color="#fcf2b4"/>
<stop offset="0.350" stop-color="#fcf2b4"/>
<stop offset="0.375" stop-color="#fcf2b4"/>
<stop offset="0.400" stop-color="#fcf2b4"/>
<stop offset="0.413" stop-color="#fcf2b4"/>
<stop offset="0.463" stop-color="#fcf4b6"/>
<stop offset="0.513" stop-color="#fcf4b6"/>
<stop offset="0.563" stop-color="#fcf4b6"/>
<stop offset="0.613" stop-color="#fcf4b6"/>
<stop offset="0.663" stop-color="#fcf4b6"/>
<stop offset="0.713" stop-color="#fcf6b8"/>
<stop offset="0.763" stop-color="#fcf6b8"/>
<stop offset="0.813" stop-color="#fcf6b8"/>
<stop offset="0.863" stop-color="#fcf7b9"/>
<stop offset="0.913" stop-color="#fcf7b9"/>
<stop offset="0.963" stop-color="#fcf7b9"/>
<stop offset="1.000" stop-color="#fcf9bb"/>
</linearGradient>
<linearGradient id="h16" x1="288.1" x2="607.8" y1="0" y2="0" gradientUnits="userSpaceOnUse">
<stop offset="0.000" stop-color="#fcf0b2"/>
<stop offset="0.025" stop-color="#fcf0b2"/>
<stop offset="0.050" stop-color="#fcf0b2"/>
<stop offset="0.075" stop-color="#fcf0b2"/>
<stop offset="0.100" stop-color="#fcf0b2"/>
<stop offset="0.125" stop-color="#fcf0b2"/>
<stop offset="0.150" stop-color="#fcf2b4"/>
<stop offset="0.175" stop-color="#fcf2b4"/>
<stop offset="0.200" stop-color="#fcf2b4"/>
<stop offset="0.225" stop-color="#fcf2b4"/>
<stop offset="0.250" stop-color="#fcf2b4"/>
<stop offset="0.275" stop-color="#fcf2b4"/>
<stop offset="0.300" stop-color="#fcf2b4"/>
<stop offset="0.325" stop-color="#fcf2b4"/>
<stop offset="0.350" stop-color="#fcf2b4"/>
<stop offset="0.375" stop-color="#fcf2b4"/>
<stop offset="0.400" stop-color="#fcf2b4"/>
<stop offset="0.413" stop-color="#fcf2b4"/>
<stop offset="0.463" stop-color="#fcf2b4"/>
<stop offset="0.513" stop-color="#fcf2b4"/>
<stop offset="0.563" stop-color="#fcf4b6"/>
<stop offset="0.613" stop-color="#fcf4b6"/>
<stop offset="0.663" stop-color="#fcf4b6"/>
<stop offset="0.713" stop-color="#fcf4b6"/>
<stop offset="0.763" stop-color="#fcf6b8"/>
<stop offset="0.813" stop-color="#fcf6b8"/>
<stop offset="0.863" stop-color="#fcf6b8"/>
<stop offset="0.913" stop-color="#fcf7b9"/>
<stop offset="0.963" stop-color="#fcf7b9"/>
<stop offset="1.000" stop-color="#fcf7b9"/>
</linearGradient>
<linearGradient id="h17" x1="288.1" x2="607.8" y1="0" y2="0" gradientUnits="userSpaceOnUse">
<stop offset="0.000" stop-color="#fcf0b2"/>
<stop offset="0.025" stop-color="#fcf0b2"/>
<stop offset="0.050" stop-color="#fcf0b2"/>
<stop offset="0.075" stop-color="#fcf0b2"/>
<stop offset="0.100" stop-color="#fcf0b2"/>
<stop offset="0.125" stop-color="#fcf0b2"/>
<stop offset="0.150" stop-color="#fcf0b2"/>
<stop offset="0.175" stop-color="#fcf0b2"/>
<stop offset="0.200" stop-color="#fcf0b2"/>
<stop offset="0.225" stop-color="#fcf0b2"/>
<stop offset="0.250" stop-color="#fcf0b2"/>
<stop offset="0.275" stop-color="#fcf0b2"/>
<stop offset="0.300" stop-color="#fcf2b4"/>
<stop offset="0.325" stop-color="#fcf2b4"/>
<stop offset="0.350" stop-color="#fcf2b4"/>
<stop offset="0.375" stop-color="#fcf2b4"/>
<stop offset="0.400" stop-color="#fcf2b4"/>
<stop offset="0.413" stop-color="#fcf2b4"/>
<stop offset="0.463" stop-color="#fcf2b4"/>
<stop offset="0.513" stop-color="#fcf2b4"/>
<stop offset="0.563" stop-color="#fcf2b4"/>
<stop offset="0.613" stop-color="#fcf4b6"/>
<stop offset="0.663" stop-color="#fcf4b6"/>
<stop offset="0.713" stop-color="#fcf4b6"/>
<stop offset="0.763" stop-color="#fcf4b6"/>
<stop offset="0.813" stop-color="#fcf6b8"/>
<stop offset="0.863" stop-color="#fcf6b8"/>
<stop offset="0.913" stop-color="#fcf7b9"/>
<stop offset="0.963" stop-color="#fcf7b9"/>
<stop offset="1.000" stop-color="#fcf7b9"/>
</linearGradient>
<linearGradient id="h18" x1="288.1" x2="607.8" y1="0" y2="0" gradientUnits="userSpaceOnUse">
<stop offset="0.000" stop-color="#fceeb0"/>
<stop offset="0.025" stop-color="#fceeb0"/>
<stop offset="0.050" stop-color="#fceeb0"/>
<stop offset="0.075" stop-color="#fcf0b2"/>
<stop offset="0.100" stop-color="#fcf0b2"/>
<stop offset="0.125" stop-color="#fcf0b2"/>
<stop offset="0.150" stop-color="#fcf0b2"/>
<stop offset="0.175" stop-color="#fcf0b2"/>
<stop offset="0.200" stop-color="#fcf0b2"/>
<stop offset="0.225" stop-color="#fcf0b2"/>
<stop offset="0.250" stop-color="#fcf0b2"/>
<stop offset="0.275" stop-color="#fcf0b2"/>
<stop offset="0.300" stop-color="#fcf0b2"/>
<stop offset="0.325" stop-color="#fcf0b2"/>
<stop offset="0.350" stop-color="#fcf0b2"/>
<stop offset="0.375" stop-color="#fcf0b2"/>
<stop offset="0.400" stop-color="#fcf0b2"/>
<stop offset="0.413" stop-color="#fcf0b2"/>
<stop offset="0.463" stop-color="#fcf0b2"/>
<stop offset="0.513" stop-color="#fcf2b4"/>
<stop offset="0.563" stop-color="#fcf2b4"/>
<stop offset="0.613" stop-color="#fcf2b4"/>
<stop offset="0.663" stop-color="#fcf2b4"/>
<stop offset="0.713" stop-color="#fcf4b6"/>
<stop offset="0.763" stop-color="#fcf4b6"/>
<stop offset="0.813" stop-color="#fcf4b6"/>
<stop offset="0.863" stop-color="#fcf6b8"/>
<stop offset="0.913" stop-color="#fcf6b8"/>
<stop offset="0.963" stop-color="#fcf7b9"/>
<stop offset="1.000" stop-color="#fcf7b9"/>
</linearGradient>
<linearGradient id="h19" x1="288.1" x2="607.8" y1="0" y2="0" gradientUnits="userSpaceOnUse">
<stop offset="0.000" stop-color="#fceeb0"/>
<stop offset="0.025" stop-color="#fceeb0"/>
<stop offset="0.050" stop-color="#fceeb0"/>
<stop offset="0.075" stop-color="#fceeb0"/>
<stop offset="0.100" stop-color="#fceeb0"/>
<stop offset="0.125" stop-color="#fceeb0"/>
<stop offset="0.150" stop-color="#fceeb0"/>
<stop offset="0.175" stop-color="#fceeb0"/>
<stop offset="0.200" stop-color="#fceeb0"/>
<stop offset="0.225" stop-color="#fceeb0"/>
<stop offset="0.250" stop-color="#fceeb0"/>
<stop offset="0.275" stop-color="#fceeb0"/>
<stop offset="0.300" stop-color="#fceeb0"/>
<stop offset="0.325" stop-color="#fceeb0"/>
<stop offset="0.350" stop-color="#fceeb0"/>
<stop offset="0.375" stop-color="#fceeb0"/>
<stop offset="0.400" stop-color="#fcf0b2"/>
<stop offset="0.413" stop-color="#fcf0b2"/>
<stop offset="0.463" stop-color="#fcf0b2"/>
<stop offset="0.513" stop-color="#fcf0b2"/>
<stop offset="0.563" stop-color="#fcf0b2"/>
<stop offset="0.613" stop-color="#fcf0b2"/>
<stop offset="0.663" stop-color="#fcf2b4"/>
<stop offset="0.713" stop-color="#fcf2b4"/>
<stop offset="0.763" stop-color="#fcf2b4"/>
<stop offset="0.813" stop-color="#fcf4b6"/>
<stop offset="0.863" stop-color="#fcf4b6"/>
<stop offset="0.913" stop-color="#fcf6b8"/>
<stop offset="0.963" stop-color="#fcf7b9"/>
<stop offset="1.000" stop-color="#fcf7b9"/>
</linearGradient>
<linearGradient id="h20" x1="288.1" x2="607.8" y1="0" y2="0" gradientUnits="userSpaceOnUse">
<stop offset="0.000" stop-color="#fcecae"/>
<stop offset="0.025" stop-color="#fcecae"/>
<stop offset="0.050" stop-color="#fcecae"/>
<stop offset="0.075" stop-color="#fcecae"/>
<stop offset="0.100" stop-color="#fcecae"/>
<stop offset="0.125" stop-color="#fcecae"/>
<stop offset="0.150" stop-color="#fcecae"/>
<stop offset="0.175" stop-color="#fcecae"/>
<stop offset="0.200" stop-color="#fcecae"/>
<stop offset="0.225" stop-color="#fcecae"/>
<stop offset="0.250" stop-color="#fcecae"/>
<stop offset="0.275" stop-color="#fcecae"/>
<stop offset="0.300" stop-color="#fcecae"/>
<stop offset="0.325" stop-color="#fcecae"/>
<stop offset="0.350" stop-color="#fceeb0"/>
<stop offset="0.375" stop-color="#fcecae"/>
<stop offset="0.400" stop-color="#fcecae"/>
<stop offset="0.413" stop-color="#fceeb0"/>
<stop offset="0.463" stop-color="#fceeb0"/>
<stop offset="0.513" stop-color="#fceeb0"/>
<stop offset="0.563" stop-color="#fceeb0"/>
<stop offset="0.613" stop-color="#fcf0b2"/>
<stop offset="0.663" stop-color="#fcf0b2"/>
<stop offset="0.713" stop-color="#fcf0b2"/>
<stop offset="0.763" stop-color="#fcf2b4"/>
<stop offset="0.813" stop-color="#fcf2b4"/>
<stop offset="0.863" stop-color="#fcf4b6"/>
<stop offset="0.913" stop-color="#fcf6b8"/>
<stop offset="0.963" stop-color="#fcf6b8"/>
<stop offset="1.000" stop-color="#fcf7b9"/>
</linearGradient>
<linearGradient id="h21" x1="288.1" x2="607.8" y1="0" y2="0" gradientUnits="userSpaceOnUse">
<stop offset="0.000" stop-color="#fdebac"/>
<stop offset="0.025" stop-color="#fdebac"/>
<stop offset="0.050" stop-color="#fdebac"/>
<stop offset="0.075" stop-color="#fdebac"/>
<stop offset="0.100" stop-color="#fdebac"/>
<stop offset="0.125" stop-color="#fdebac"/>
<stop offset="0.150" stop-color="#fdebac"/>
<stop offset="0.175" stop-color="#fdebac"/>
<stop offset="0.200" stop-color="#fdebac"/>
<stop offset="0.225" stop-color="#fdebac"/>
<stop offset="0.250" stop-color="#fdebac"/>
<stop offset="0.275" stop-color="#fdebac"/>
<stop offset="0.300" stop-color="#fdebac"/>
<stop offset="0.325" stop-color="#fdebac"/>
<stop offset="0.350" stop-color="#fdebac"/>
<stop offset="0.375" stop-color="#fdebac"/>
<stop offset="0.400" stop-color="#fdebac"/>
<stop offset="0.413" stop-color="#fdebac"/>
<stop offset="0.463" stop-color="#fdebac"/>
<stop offset="0.513" stop-color="#fcecae"/>
<stop offset="0.563" stop-color="#fcecae"/>
<stop offset="0.613" stop-color="#fcecae"/>
<stop offset="0.663" stop-color="#fceeb0"/>
<stop offset="0.713" stop-color="#fceeb0"/>
<stop offset="0.763" stop-color="#fcf0b2"/>
<stop offset="0.813" stop-color="#fcf0b2"/>
<stop offset="0.863" stop-color="#fcf2b4"/>
<stop offset="0.913" stop-color="#fcf4b6"/>
<stop offset="0.963" stop-color="#fcf6b8"/>
<stop offset="1.000" stop-color="#fcf7b9"/>
</linearGradient>
<linearGradient id="h22" x1="288.1" x2="607.8" y1="0" y2="0" gradientUnits="userSpaceOnUse">
<stop offset="0.000" stop-color="#fde7a9"/>
<stop offset="0.025" stop-color="#fde7a9"/>
<stop offset="0.050" stop-color="#fde7a9"/>
<stop offset="0.075" stop-color="#fde7a9"/>
<stop offset="0.100" stop-color="#fde7a9"/>
<stop offset="0.125" stop-color="#fde7a9"/>
<stop offset="0.150" stop-color="#fde7a9"/>
<stop offset="0.175" stop-color="#fde7a9"/>
<stop offset="0.200" stop-color="#fde7a9"/>
<stop offset="0.225" stop-color="#fde7a9"/>
<stop offset="0.250" stop-color="#fde7a9"/>
<stop offset="0.275" stop-color="#fde7a9"/>
<stop offset="0.300" stop-color="#fde7a9"/>
<stop offset="0.325" stop-color="#fde7a9"/>
<stop offset="0.350" stop-color="#fde7a9"/>
<stop offset="0.375" stop-color="#fde7a9"/>
<stop offset="0.400" stop-color="#fde7a9"/>
<stop offset="0.413" stop-color="#fde7a9"/>
<stop offset="0.463" stop-color="#fde9aa"/>
<stop offset="0.513" stop-color="#fde9aa"/>
<stop offset="0.563" stop-color="#fde9aa"/>
<stop offset="0.613" stop-color="#fdebac"/>
<stop offset="0.663" stop-color="#fcecae"/>
<stop offset="0.713" stop-color="#fcecae"/>
<stop offset="0.763" stop-color="#fceeb0"/>
<stop offset="0.813" stop-color="#fcf0b2"/>
<stop offset="0.863" stop-color="#fcf2b4"/>
<stop offset="0.913" stop-color="#fcf4b6"/>
<stop offset="0.963" stop-color="#fcf6b8"/>
<stop offset="1.000" stop-color="#fcf6b8"/>
</linearGradient>
<linearGradient id="h23" x1="288.1" x2="607.8" y1="0" y2="0" gradientUnits="userSpaceOnUse">
<stop offset="0.000" stop-color="#fde5a7"/>
<stop offset="0.025" stop-color="#fde5a7"/>
<stop offset="0.050" stop-color="#fde5a7"/>
<stop offset="0.075" stop-color="#fde5a7"/>
<stop offset="0.100" stop-color="#fde5a7"/>
<stop offset="0.125" stop-color="#fde5a7"/>
<stop offset="0.150" stop-color="#fde5a7"/>
<stop offset="0.175" stop-color="#fde5a7"/>
<stop offset="0.200" stop-color="#fde5a7"/>
<stop offset="0.225" stop-color="#fde5a7"/>
<stop offset="0.250" stop-color="#fde5a7"/>
<stop offset="0.275" stop-color="#fde5a7"/>
<stop offset="0.300" stop-color="#fde5a7"/>
<stop offset="0.325" stop-color="#fde5a7"/>
<stop offset="0.350" stop-color="#fde5a7"/>
<stop offset="0.375" stop-color="#fde5a7"/>
<stop offset="0.400" stop-color="#fde5a7"/>
<stop offset="0.413" stop-color="#fde5a7"/>
<stop offset="0.463" stop-color="#fde5a7"/>
<stop offset="0.513" stop-color="#fde7a9"/>
<stop offset="0.563" stop-color="#fde7a9"/>
<stop offset="0.613" stop-color="#fde9aa"/>
<stop offset="0.663" stop-color="#fdebac"/>
<stop offset="0.713" stop-color="#fdebac"/>
<stop offset="0.763" stop-color="#fcecae"/>
<stop offset="0.813" stop-color="#fceeb0"/>
<stop offset="0.863" stop-color="#fcf0b2"/>
<stop offset="0.913" stop-color="#fcf2b4"/>
<stop offset="0.963" stop-color="#fcf4b6"/>
<stop offset="1.000" stop-color="#fcf6b8"/>
</linearGradient>
<linearGradient id="h24" x1="288.1" x2="607.8" y1="0" y2="0" gradientUnits="userSpaceOnUse">
<stop offset="0.000" stop-color="#fde2a3"/>
<stop offset="0.025" stop-color="#fde2a3"/>
<stop offset="0.050" stop-color="#fde2a3"/>
<stop offset="0.075" stop-color="#fde2a3"/>
<stop offset="0.100" stop-color="#fde2a3"/>
<stop offset="0.125" stop-color="#fde2a3"/>
<stop offset="0.150" stop-color="#fde2a3"/>
<stop offset="0.175" stop-color="#fde2a3"/>
<stop offset="0.200" stop-color="#fde2a3"/>
<stop offset="0.225" stop-color="#fde2a3"/>
<stop offset="0.250" stop-color="#fde2a3"/>
<stop offset="0.275" stop-color="#fde2a3"/>
<stop offset="0.300" stop-color="#fde2a3"/>
<stop offset="0.325" stop-color="#fde2a3"/>
<stop offset="0.350" stop-color="#fde2a3"/>
<stop offset="0.375" stop-color="#fde2a3"/>
<stop offset="0.400" stop-color="#fde2a3"/>
<stop offset="0.413" stop-color="#fde2a3"/>
<stop offset="0.463" stop-color="#fde3a5"/>
<stop offset="0.513" stop-color="#fde3a5"/>
<stop offset="0.563" stop-color="#fde5a7"/>
<stop offset="0.613" stop-color="#fde7a9"/>
<stop offset="0.663" stop-color="#fde7a9"/>
<stop offset="0.713" stop-color="#fde9aa"/>
<stop offset="0.763" stop-color="#fdebac"/>
<stop offset="0.813" stop-color="#fcecae"/>
<stop offset="0.863" stop-color="#fceeb0"/>
<stop offset="0.913" stop-color="#fcf2b4"/>
<stop offset="0.963" stop-color="#fcf4b6"/>
<stop offset="1.000" stop-color="#fcf6b8"/>
</linearGradient>
<linearGradient id="h25" x1="288.1" x2="607.8" y1="0" y2="0" gradientUnits="userSpaceOnUse">
<stop offset="0.000" stop-color="#fddea0"/>
<stop offset="0.025" stop-color="#fddea0"/>
<stop offset="0.050" stop-color="#fddea0"/>
<stop offset="0.075" stop-color="#fddea0"/>
<stop offset="0.100" stop-color="#fddea0"/>
<stop offset="0.125" stop-color="#fddea0"/>
<stop offset="0.150" stop-color="#fddea0"/>
<stop offset="0.175" stop-color="#fddea0"/>
<stop offset="0.200" stop-color="#fddea0"/>
<stop offset="0.225" stop-color="#fddea0"/>
<stop offset="0.250" stop-color="#fddc9e"/>
<stop offset="0.275" stop-color="#fddc9e"/>
<stop offset="0.300" stop-color="#fddc9e"/>
<stop offset="0.325" stop-color="#fddea0"/>
<stop offset="0.350" stop-color="#fddea0"/>
<stop offset="0.375" stop-color="#fddea0"/>
<stop offset="0.400" stop-color="#fddea0"/>
<stop offset="0.413" stop-color="#fddea0"/>
<stop offset="0.463" stop-color="#fddea0"/>
<stop offset="0.513" stop-color="#fde0a1"/>
<stop offset="0.563" stop-color="#fde2a3"/>
<stop offset="0.613" stop-color="#fde3a5"/>
<stop offset="0.663" stop-color="#fde5a7"/>
<stop offset="0.713" stop-color="#fde7a9"/>
<stop offset="0.763" stop-color="#fde9aa"/>
<stop offset="0.813" stop-color="#fdebac"/>
<stop offset="0.863" stop-color="#fceeb0"/>
<stop offset="0.913" stop-color="#fcf0b2"/>
<stop offset="0.963" stop-color="#fcf4b6"/>
<stop offset="1.000" stop-color="#fcf6b8"/>
</linearGradient>
<linearGradient id="h26" x1="288.1" x2="607.8" y1="0" y2="0" gradientUnits="userSpaceOnUse">
<stop offset="0.000" stop-color="#fed89a"/>
<stop offset="0.025" stop-color="#fed89a"/>
<stop offset="0.050" stop-color="#fed89a"/>
<stop offset="0.075" stop-color="#fed89a"/>
<stop offset="0.100" stop-color="#fed89a"/>
<stop offset="0.125" stop-color="#fed89a"/>
<stop offset="0.150" stop-color="#fed89a"/>
<stop offset="0.175" stop-color="#fed89a"/>
<stop offset="0.200" stop-color="#fed89a"/>
<stop offset="0.225" stop-color="#fed799"/>
<stop offset="0.250" stop-color="#fed799"/>
<stop offset="0.275" stop-color="#fed799"/>
<stop offset="0.300" stop-color="#fed799"/>
<stop offset="0.325" stop-color="#fed799"/>
<stop offset="0.350" stop-color="#fed89a"/>
<stop offset="0.375" stop-color="#fed89a"/>
<stop offset="0.400" stop-color="#fed89a"/>
<stop offset="0.413" stop-color="#fed89a"/>
<stop offset="0.463" stop-color="#fdda9c"/>
<stop offset="0.513" stop-color="#fddc9e"/>
<stop offset="0.563" stop-color="#fddea0"/>
<stop offset="0.613" stop-color="#fde0a1"/>
<stop offset="0.663" stop-color="#fde2a3"/>
<stop offset="0.713" stop-color="#fde3a5"/>
<stop offset="0.763" stop-color="#fde7a9"/>
<stop offset="0.813" stop-color="#fde9aa"/>
<stop offset="0.863" stop-color="#fcecae"/>
<stop offset="0.913" stop-color="#fcf0b2"/>
<stop offset="0.963" stop-color="#fcf2b4"/>
<stop offset="1.000" stop-color="#fcf4b6"/>
</linearGradient>
<linearGradient id="h27" x1="288.1" x2="607.8" y1="0" y2="0" gradientUnits="userSpaceOnUse">
<stop offset="0.000" stop-color="#fed194"/>
<stop offset="0.025" stop-color="#fed194"/>
<stop offset="0.050" stop-color="#fed194"/>
<stop offset="0.075" stop-color="#fed194"/>
<stop offset="0.100" stop-color="#fed194"/>
<stop offset="0.125" stop-color="#fed194"/>
<stop offset="0.150" stop-color="#fed194"/>
<stop offset="0.175" stop-color="#fed194"/>
<stop offset="0.200" stop-color="#fecf92"/>
<stop offset="0.225" stop-color="#fecf92"/>
<stop offset="0.250" stop-color="#fecf92"/>
<stop offset="0.275" stop-color="#fecf92"/>
<stop offset="0.300" stop-color="#fecf92"/>
<stop offset="0.325" stop-color="#fecf92"/>
<stop offset="0.350" stop-color="#fed194"/>
<stop offset="0.375" stop-color="#fed194"/>
<stop offset="0.400" stop-color="#fed194"/>
<stop offset="0.413" stop-color="#fed194"/>
<stop offset="0.463" stop-color="#fed395"/>
<stop offset="0.513" stop-color="#fed799"/>
<stop offset="0.563" stop-color="#fed89a"/>
<stop offset="0.613" stop-color="#fddc9e"/>
<stop offset="0.663" stop-color="#fddea0"/>
<stop offset="0.713" stop-color="#fde2a3"/>
<stop offset="0.763" stop-color="#fde5a7"/>
<stop offset="0.813" stop-color="#fde7a9"/>
<stop offset="0.863" stop-color="#fdebac"/>
<stop offset="0.913" stop-color="#fceeb0"/>
<stop offset="0.963" stop-color="#fcf2b4"/>
<stop offset="1.000" stop-color="#fcf4b6"/>
</linearGradient>
<linearGradient id="h28" x1="288.1" x2="607.8" y1="0" y2="0" gradientUnits="userSpaceOnUse">
<stop offset="0.000" stop-color="#fec88c"/>
<stop offset="0.025" stop-color="#fec88c"/>
<stop offset="0.050" stop-color="#fec88c"/>
<stop offset="0.075" stop-color="#fec88c"/>
<stop offset="0.100" stop-color="#fec88c"/>
<stop offset="0.125" stop-color="#fec88c"/>
<stop offset="0.150" stop-color="#fec68a"/>
<stop offset="0.175" stop-color="#fec68a"/>
<stop offset="0.200" stop-color="#fec68a"/>
<stop offset="0.225" stop-color="#fec68a"/>
<stop offset="0.250" stop-color="#fec488"/>
<stop offset="0.275" stop-color="#fec488"/>
<stop offset="0.300" stop-color="#fec68a"/>
<stop offset="0.325" stop-color="#fec68a"/>
<stop offset="0.350" stop-color="#fec68a"/>
<stop offset="0.375" stop-color="#fec88c"/>
<stop offset="0.400" stop-color="#fec88c"/>
<stop offset="0.413" stop-color="#fec88c"/>
<stop offset="0.463" stop-color="#fecc8f"/>
<stop offset="0.513" stop-color="#fecf92"/>
<stop offset="0.563" stop-color="#fed395"/>
<stop offset="0.613" stop-color="#fed799"/>
<stop offset="0.663" stop-color="#fdda9c"/>
<stop offset="0.713" stop-color="#fddea0"/>
<stop offset="0.763" stop-color="#fde2a3"/>
<stop offset="0.813" stop-color="#fde5a7"/>
<stop offset="0.863" stop-color="#fde9aa"/>
<stop offset="0.913" stop-color="#fceeb0"/>
<stop offset="0.963" stop-color="#fcf0b2"/>
<stop offset="1.000" stop-color="#fcf4b6"/>
</linearGradient>
<linearGradient id="h29" x1="288.1" x2="607.8" y1="0" y2="0" gradientUnits="userSpaceOnUse">
<stop offset="0.000" stop-color="#feb97f"/>
<stop offset="0.025" stop-color="#feb97f"/>
<stop offset="0.050" stop-color="#feb97f"/>
<stop offset="0.075" stop-color="#feb97f"/>
<stop offset="0.100" stop-color="#feb97f"/>
<stop offset="0.125" stop-color="#feb97f"/>
<stop offset="0.150" stop-color="#feb97f"/>
<stop offset="0.175" stop-color="#feb97f"/>
<stop offset="0.200" stop-color="#feb77e"/>
<stop offset="0.225" stop-color="#feb77e"/>
<stop offset="0.250" stop-color="#feb77e"/>
<stop offset="0.275" stop-color="#feb77e"/>
<stop offset="0.300" stop-color="#feb77e"/>
<stop offset="0.325" stop-color="#feb97f"/>
<stop offset="0.350" stop-color="#febb81"/>
<stop offset="0.375" stop-color="#febb81"/>
<stop offset="0.400" stop-color="#febd82"/>
<stop offset="0.413" stop-color="#febd82"/>
<stop offset="0.463" stop-color="#fec287"/>
<stop offset="0.513" stop-color="#fec88c"/>
<stop offset="0.563" stop-color="#fecc8f"/>
<stop offset="0.613" stop-color="#fed194"/>
<stop offset="0.663" stop-color="#fed799"/>
<stop offset="0.713" stop-color="#fdda9c"/>
<stop offset="0.763" stop-color="#fddea0"/>
<stop offset="0.813" stop-color="#fde3a5"/>
<stop offset="0.863" stop-color="#fde7a9"/>
<stop offset="0.913" stop-color="#fcecae"/>
<stop offset="0.963" stop-color="#fcf0b2"/>
<stop offset="1.000" stop-color="#fcf2b4"/>
</linearGradient>
<linearGradient id="h30" x1="288.1" x2="607.8" y1="0" y2="0" gradientUnits="userSpaceOnUse">
<stop offset="0.000" stop-color="#fea772"/>
<stop offset="0.025" stop-color="#fea772"/>
<stop offset="0.050" stop-color="#fea772"/>
<stop offset="0.075" stop-color="#fea772"/>
<stop offset="0.100" stop-color="#fea772"/>
<stop offset="0.125" stop-color="#fea571"/>
<stop offset="0.150" stop-color="#fea571"/>
<stop offset="0.175" stop-color="#fea571"/>
<stop offset="0.200" stop-color="#fea571"/>
<stop offset="0.225" stop-color="#fea571"/>
<stop offset="0.250" stop-color="#fea36f"/>
<stop offset="0.275" stop-color="#fea571"/>
<stop offset="0.300" stop-color="#fea772"/>
<stop offset="0.325" stop-color="#fea973"/>
<stop offset="0.350" stop-color="#fea973"/>
<stop offset="0.375" stop-color="#feaa74"/>
<stop offset="0.400" stop-color="#feae77"/>
<stop offset="0.413" stop-color="#feb078"/>
<stop offset="0.463" stop-color="#feb67c"/>
<stop offset="0.513" stop-color="#febf84"/>
<stop offset="0.563" stop-color="#fec488"/>
<stop offset="0.613" stop-color="#fecc8f"/>
<stop offset="0.663" stop-color="#fed194"/>
<stop offset="0.713" stop-color="#fed799"/>
<stop offset="0.763" stop-color="#fddc9e"/>
<stop offset="0.813" stop-color="#fde2a3"/>
<stop offset="0.863" stop-color="#fde5a7"/>
<stop offset="0.913" stop-color="#fdebac"/>
<stop offset="0.963" stop-color="#fceeb0"/>
<stop offset="1.000" stop-color="#fcf2b4"/>
</linearGradient>
<linearGradient id="h31" x1="288.1" x2="607.8" y1="0" y2="0" gradientUnits="userSpaceOnUse">
<stop offset="0.000" stop-color="#fc8c63"/>
<stop offset="0.025" stop-color="#fc8c63"/>
<stop offset="0.050" stop-color="#fc8c63"/>
<stop offset="0.075" stop-color="#fc8a62"/>
<stop offset="0.100" stop-color="#fc8a62"/>
<stop offset="0.125" stop-color="#fc8a62"/>
<stop offset="0.150" stop-color="#fc8a62"/>
<stop offset="0.175" stop-color="#fc8a62"/>
<stop offset="0.200" stop-color="#fc8a62"/>
<stop offset="0.225" stop-color="#fc8a62"/>
<stop offset="0.250" stop-color="#fc8a62"/>
<stop offset="0.275" stop-color="#fc8c63"/>
<stop offset="0.300" stop-color="#fc8e64"/>
<stop offset="0.325" stop-color="#fc9065"/>
<stop offset="0.350" stop-color="#fd9467"/>
<stop offset="0.375" stop-color="#fd9869"/>
<stop offset="0.400" stop-color="#fd9b6b"/>
<stop offset="0.413" stop-color="#fe9d6c"/>
<stop offset="0.463" stop-color="#fea772"/>
<stop offset="0.513" stop-color="#feb27a"/>
<stop offset="0.563" stop-color="#febb81"/>
<stop offset="0.613" stop-color="#fec488"/>
<stop offset="0.663" stop-color="#fecc8f"/>
<stop offset="0.713" stop-color="#fed194"/>
<stop offset="0.763" stop-color="#fed89a"/>
<stop offset="0.813" stop-color="#fddea0"/>
<stop offset="0.863" stop-color="#fde3a5"/>
<stop offset="0.913" stop-color="#fdebac"/>
<stop offset="0.963" stop-color="#fceeb0"/>
<stop offset="1.000" stop-color="#fcf2b4"/>
</linearGradient>
<linearGradient id="h32" x1="288.1" x2="607.8" y1="0" y2="0" gradientUnits="userSpaceOnUse">
<stop offset="0.000" stop-color="#f4695c"/>
<stop offset="0.025" stop-color="#f4695c"/>
<stop offset="0.050" stop-color="#f4695c"/>
<stop offset="0.075" stop-color="#f4695c"/>
<stop offset="0.100" stop-color="#f4695c"/>
<stop offset="0.125" stop-color="#f4695c"/>
<stop offset="0.150" stop-color="#f4695c"/>
<stop offset="0.175" stop-color="#f4695c"/>
<stop offset="0.200" stop-color="#f4695c"/>
<stop offset="0.225" stop-color="#f56b5c"/>
<stop offset="0.250" stop-color="#f56b5c"/>
<stop offset="0.275" stop-color="#f66e5c"/>
<stop offset="0.300" stop-color="#f7725c"/>
<stop offset="0.325" stop-color="#f8765c"/>
<stop offset="0.350" stop-color="#f9795d"/>
<stop offset="0.375" stop-color="#fa7f5e"/>
<stop offset="0.400" stop-color="#fb8560"/>
<stop offset="0.413" stop-color="#fc8961"/>
<stop offset="0.463" stop-color="#fd9668"/>
<stop offset="0.513" stop-color="#fea772"/>
<stop offset="0.563" stop-color="#feb078"/>
<stop offset="0.613" stop-color="#febd82"/>
<stop offset="0.663" stop-color="#fec68a"/>
<stop offset="0.713" stop-color="#fecd90"/>
<stop offset="0.763" stop-color="#fed597"/>
<stop offset="0.813" stop-color="#fddc9e"/>
<stop offset="0.863" stop-color="#fde2a3"/>
<stop offset="0.913" stop-color="#fde9aa"/>
<stop offset="0.963" stop-color="#fcecae"/>
<stop offset="1.000" stop-color="#fcf0b2"/>
</linearGradient>
<linearGradient id="h33" x1="288.1" x2="607.8" y1="0" y2="0" gradientUnits="userSpaceOnUse">
<stop offset="0.000" stop-color="#db476a"/>
<stop offset="0.025" stop-color="#db476a"/>
<stop offset="0.050" stop-color="#dc4869"/>
<stop offset="0.075" stop-color="#dc4869"/>
<stop offset="0.100" stop-color="#dc4869"/>
<stop offset="0.125" stop-color="#dc4869"/>
<stop offset="0.150" stop-color="#dc4869"/>
<stop offset="0.175" stop-color="#de4968"/>
<stop offset="0.200" stop-color="#df4a68"/>
<stop offset="0.225" stop-color="#e04c67"/>
<stop offset="0.250" stop-color="#e34e65"/>
<stop offset="0.275" stop-color="#e55064"/>
<stop offset="0.300" stop-color="#e95462"/>
<stop offset="0.325" stop-color="#ec5860"/>
<stop offset="0.350" stop-color="#ef5d5e"/>
<stop offset="0.375" stop-color="#f3655c"/>
<stop offset="0.400" stop-color="#f66e5c"/>
<stop offset="0.413" stop-color="#f8745c"/>
<stop offset="0.463" stop-color="#fb8560"/>
<stop offset="0.513" stop-color="#fd9a6a"/>
<stop offset="0.563" stop-color="#fea772"/>
<stop offset="0.613" stop-color="#feb67c"/>
<stop offset="0.663" stop-color="#fec185"/>
<stop offset="0.713" stop-color="#feca8d"/>
<stop offset="0.763" stop-color="#fed395"/>
<stop offset="0.813" stop-color="#fdda9c"/>
<stop offset="0.863" stop-color="#fde2a3"/>
<stop offset="0.913" stop-color="#fde7a9"/>
<stop offset="0.963" stop-color="#fcecae"/>
<stop offset="1.000" stop-color="#fcf0b2"/>
</linearGradient>
<linearGradient id="h34" x1="288.1" x2="607.8" y1="0" y2="0" gradientUnits="userSpaceOnUse">
<stop offset="0.000" stop-color="#b3367a"/>
<stop offset="0.025" stop-color="#b5367a"/>
<stop offset="0.050" stop-color="#b5367a"/>
<stop offset="0.075" stop-color="#b73779"/>
<stop offset="0.100" stop-color="#b73779"/>
<stop offset="0.125" stop-color="#b83779"/>
<stop offset="0.150" stop-color="#b83779"/>
<stop offset="0.175" stop-color="#ba3878"/>
<stop offset="0.200" stop-color="#bf3a77"/>
<stop offset="0.225" stop-color="#c23b75"/>
<stop offset="0.250" stop-color="#c53c74"/>
<stop offset="0.275" stop-color="#cc3f71"/>
<stop offset="0.300" stop-color="#d2426f"/>
<stop offset="0.325" stop-color="#d8456c"/>
<stop offset="0.350" stop-color="#df4a68"/>
<stop offset="0.375" stop-color="#e75263"/>
<stop offset="0.400" stop-color="#ee5b5e"/>
<stop offset="0.413" stop-color="#f1605d"/>
<stop offset="0.463" stop-color="#f9785d"/>
<stop offset="0.513" stop-color="#fc8e64"/>
<stop offset="0.563" stop-color="#fe9f6d"/>
<stop offset="0.613" stop-color="#feb078"/>
<stop offset="0.663" stop-color="#febd82"/>
<stop offset="0.713" stop-color="#fec68a"/>
<stop offset="0.763" stop-color="#fecf92"/>
<stop offset="0.813" stop-color="#fed89a"/>
<stop offset="0.863" stop-color="#fde0a1"/>
<stop offset="0.913" stop-color="#fde7a9"/>
<stop offset="0.963" stop-color="#fcecae"/>
<stop offset="1.000" stop-color="#fcf0b2"/>
</linearGradient>
<linearGradient id="h35" x1="288.1" x2="607.8" y1="0" y2="0" gradientUnits="userSpaceOnUse">
<stop offset="0.000" stop-color="#942c80"/>
<stop offset="0.025" stop-color="#962c80"/>
<stop offset="0.050" stop-color="#982d80"/>
<stop offset="0.075" stop-color="#982d80"/>
<stop offset="0.100" stop-color="#992d80"/>
<stop offset="0.125" stop-color="#9b2e7f"/>
<stop offset="0.150" stop-color="#9c2e7f"/>
<stop offset="0.175" stop-color="#a02f7f"/>
<stop offset="0.200" stop-color="#a5317e"/>
<stop offset="0.225" stop-color="#aa337d"/>
<stop offset="0.250" stop-color="#ae347b"/>
<stop offset="0.275" stop-color="#b73779"/>
<stop offset="0.300" stop-color="#bf3a77"/>
<stop offset="0.325" stop-color="#c73d73"/>
<stop offset="0.350" stop-color="#cf4070"/>
<stop offset="0.375" stop-color="#db476a"/>
<stop offset="0.400" stop-color="#e55064"/>
<stop offset="0.413" stop-color="#ea5661"/>
<stop offset="0.463" stop-color="#f66c5c"/>
<stop offset="0.513" stop-color="#fb8761"/>
<stop offset="0.563" stop-color="#fd9a6a"/>
<stop offset="0.613" stop-color="#feac76"/>
<stop offset="0.663" stop-color="#feb97f"/>
<stop offset="0.713" stop-color="#fec488"/>
<stop offset="0.763" stop-color="#fecf92"/>
<stop offset="0.813" stop-color="#fed89a"/>
<stop offset="0.863" stop-color="#fde0a1"/>
<stop offset="0.913" stop-color="#fde7a9"/>
<stop offset="0.963" stop-color="#fcecae"/>
<stop offset="1.000" stop-color="#fcf0b2"/>
</linearGradient>
<linearGradient id="h36" x1="288.1" x2="607.8" y1="0" y2="0" gradientUnits="userSpaceOnUse">
<stop offset="0.000" stop-color="#8c2981"/>
<stop offset="0.025" stop-color="#8e2a81"/>
<stop offset="0.050" stop-color="#902a81"/>
<stop offset="0.075" stop-color="#912b81"/>
<stop offset="0.100" stop-color="#912b81"/>
<stop offset="0.125" stop-color="#932b80"/>
<stop offset="0.150" stop-color="#942c80"/>
<stop offset="0.175" stop-color="#982d80"/>
<stop offset="0.200" stop-color="#9c2e7f"/>
<stop offset="0.225" stop-color="#a3307e"/>
<stop offset="0.250" stop-color="#a8327d"/>
<stop offset="0.275" stop-color="#b0357b"/>
<stop offset="0.300" stop-color="#ba3878"/>
<stop offset="0.325" stop-color="#c23b75"/>
<stop offset="0.350" stop-color="#cc3f71"/>
<stop offset="0.375" stop-color="#d8456c"/>
<stop offset="0.400" stop-color="#e34e65"/>
<stop offset="0.413" stop-color="#e85362"/>
<stop offset="0.463" stop-color="#f56b5c"/>
<stop offset="0.513" stop-color="#fb8560"/>
<stop offset="0.563" stop-color="#fd9a6a"/>
<stop offset="0.613" stop-color="#feac76"/>
<stop offset="0.663" stop-color="#feb97f"/>
<stop offset="0.713" stop-color="#fec488"/>
<stop offset="0.763" stop-color="#fecf92"/>
<stop offset="0.813" stop-color="#fed89a"/>
<stop offset="0.863" stop-color="#fde0a1"/>
<stop offset="0.913" stop-color="#fde7a9"/>
<stop offset="0.963" stop-color="#fcecae"/>
<stop offset="1.000" stop-color="#fcf0b2"/>
</linearGradient>
<linearGradient id="h37" x1="288.1" x2="607.8" y1="0" y2="0" gradientUnits="userSpaceOnUse">
<stop offset="0.000" stop-color="#a02f7f"/>
<stop offset="0.025" stop-color="#a02f7f"/>
<stop offset="0.050" stop-color="#a1307e"/>
<stop offset="0.075" stop-color="#a3307e"/>
<stop offset="0.100" stop-color="#a3307e"/>
<stop offset="0.125" stop-color="#a5317e"/>
<stop offset="0.150" stop-color="#a5317e"/>
<stop offset="0.175" stop-color="#a8327d"/>
<stop offset="0.200" stop-color="#ad347c"/>
<stop offset="0.225" stop-color="#b2357b"/>
<stop offset="0.250" stop-color="#b73779"/>
<stop offset="0.275" stop-color="#bd3977"/>
<stop offset="0.300" stop-color="#c53c74"/>
<stop offset="0.325" stop-color="#cd4071"/>
<stop offset="0.350" stop-color="#d5446d"/>
<stop offset="0.375" stop-color="#df4a68"/>
<stop offset="0.400" stop-color="#e85362"/>
<stop offset="0.413" stop-color="#ec5860"/>
<stop offset="0.463" stop-color="#f7705c"/>
<stop offset="0.513" stop-color="#fc8961"/>
<stop offset="0.563" stop-color="#fd9b6b"/>
<stop offset="0.613" stop-color="#feae77"/>
<stop offset="0.663" stop-color="#febb81"/>
<stop offset="0.713" stop-color="#fec488"/>
<stop offset="0.763" stop-color="#fecf92"/>
<stop offset="0.813" stop-color="#fed89a"/>
<stop offset="0.863" stop-color="#fde0a1"/>
<stop offset="0.913" stop-color="#fde7a9"/>
<stop offset="0.963" stop-color="#fcecae"/>
<stop offset="1.000" stop-color="#fcf0b2"/>
</linearGradient>
<linearGradient id="h38" x1="288.1" x2="607.8" y1="0" y2="0" gradientUnits="userSpaceOnUse">
<stop offset="0.000" stop-color="#c43c75"/>
<stop offset="0.025" stop-color="#c53c74"/>
<stop offset="0.050" stop-color="#c53c74"/>
<stop offset="0.075" stop-color="#c53c74"/>
<stop offset="0.100" stop-color="#c53c74"/>
<stop offset="0.125" stop-color="#c73d73"/>
<stop offset="0.150" stop-color="#c73d73"/>
<stop offset="0.175" stop-color="#c83e73"/>
<stop offset="0.200" stop-color="#cc3f71"/>
<stop offset="0.225" stop-color="#cf4070"/>
<stop offset="0.250" stop-color="#d2426f"/>
<stop offset="0.275" stop-color="#d6456c"/>
<stop offset="0.300" stop-color="#dc4869"/>
<stop offset="0.325" stop-color="#e04c67"/>
<stop offset="0.350" stop-color="#e55064"/>
<stop offset="0.375" stop-color="#ec5860"/>
<stop offset="0.400" stop-color="#f2625d"/>
<stop offset="0.413" stop-color="#f4675c"/>
<stop offset="0.463" stop-color="#f97b5d"/>
<stop offset="0.513" stop-color="#fd9266"/>
<stop offset="0.563" stop-color="#fea16e"/>
<stop offset="0.613" stop-color="#feb27a"/>
<stop offset="0.663" stop-color="#febf84"/>
<stop offset="0.713" stop-color="#fec88c"/>
<stop offset="0.763" stop-color="#fed194"/>
<stop offset="0.813" stop-color="#fed89a"/>
<stop offset="0.863" stop-color="#fde0a1"/>
<stop offset="0.913" stop-color="#fde7a9"/>
<stop offset="0.963" stop-color="#fcecae"/>
<stop offset="1.000" stop-color="#fcf0b2"/>
</linearGradient>
<linearGradient id="h39" x1="288.1" x2="607.8" y1="0" y2="0" gradientUnits="userSpaceOnUse">
<stop offset="0.000" stop-color="#e85362"/>
<stop offset="0.025" stop-color="#e85362"/>
<stop offset="0.050" stop-color="#e85362"/>
<stop offset="0.075" stop-color="#e85362"/>
<stop offset="0.100" stop-color="#e85362"/>
<stop offset="0.125" stop-color="#e85362"/>
<stop offset="0.150" stop-color="#e95462"/>
<stop offset="0.175" stop-color="#e95462"/>
<stop offset="0.200" stop-color="#ea5661"/>
<stop offset="0.225" stop-color="#eb5760"/>
<stop offset="0.250" stop-color="#ec5860"/>
<stop offset="0.275" stop-color="#ee5b5e"/>
<stop offset="0.300" stop-color="#f05f5e"/>
<stop offset="0.325" stop-color="#f2645c"/>
<stop offset="0.350" stop-color="#f4695c"/>
<stop offset="0.375" stop-color="#f7705c"/>
<stop offset="0.400" stop-color="#f9785d"/>
<stop offset="0.413" stop-color="#f97b5d"/>
<stop offset="0.463" stop-color="#fc8c63"/>
<stop offset="0.513" stop-color="#fe9d6c"/>
<stop offset="0.563" stop-color="#feaa74"/>
<stop offset="0.613" stop-color="#feb97f"/>
<stop offset="0.663" stop-color="#fec287"/>
<stop offset="0.713" stop-color="#fecc8f"/>
<stop offset="0.763" stop-color="#fed395"/>
<stop offset="0.813" stop-color="#fdda9c"/>
<stop offset="0.863" stop-color="#fde2a3"/>
<stop offset="0.913" stop-color="#fde9aa"/>
<stop offset="0.963" stop-color="#fcecae"/>
<stop offset="1.000" stop-color="#fcf0b2"/>
</linearGradient>
<linearGradient id="h40" x1="288.1" x2="607.8" y1="0" y2="0" gradientUnits="userSpaceOnUse">
<stop offset="0.000" stop-color="#f9785d"/>
<stop offset="0.025" stop-color="#f9785d"/>
<stop offset="0.050" stop-color="#f9785d"/>
<stop offset="0.075" stop-color="#f9785d"/>
<stop offset="0.100" stop-color="#f9785d"/>
<stop offset="0.125" stop-color="#f9785d"/>
<stop offset="0.150" stop-color="#f9785d"/>
<stop offset="0.175" stop-color="#f9785d"/>
<stop offset="0.200" stop-color="#f9785d"/>
<stop offset="0.225" stop-color="#f9785d"/>
<stop offset="0.250" stop-color="#f9785d"/>
<stop offset="0.275" stop-color="#f97b5d"/>
<stop offset="0.300" stop-color="#fa7d5e"/>
<stop offset="0.325" stop-color="#fa815f"/>
<stop offset="0.350" stop-color="#fb8560"/>
<stop offset="0.375" stop-color="#fc8961"/>
<stop offset="0.400" stop-color="#fc8e64"/>
<stop offset="0.413" stop-color="#fd9266"/>
<stop offset="0.463" stop-color="#fe9d6c"/>
<stop offset="0.513" stop-color="#feaa74"/>
<stop offset="0.563" stop-color="#feb47b"/>
<stop offset="0.613" stop-color="#febf84"/>
<stop offset="0.663" stop-color="#fec88c"/>
<stop offset="0.713" stop-color="#fecf92"/>
<stop offset="0.763" stop-color="#fed799"/>
<stop offset="0.813" stop-color="#fddea0"/>
<stop offset="0.863" stop-color="#fde3a5"/>
<stop offset="0.913" stop-color="#fde9aa"/>
<stop offset="0.963" stop-color="#fceeb0"/>
<stop offset="1.000" stop-color="#fcf0b2"/>
</linearGradient>
<linearGradient id="h41" x1="288.1" x2="607.8" y1="0" y2="0" gradientUnits="userSpaceOnUse">
<stop offset="0.000" stop-color="#fd9869"/>
<stop offset="0.025" stop-color="#fd9869"/>
<stop offset="0.050" stop-color="#fd9869"/>
<stop offset="0.075" stop-color="#fd9869"/>
<stop offset="0.100" stop-color="#fd9869"/>
<stop offset="0.125" stop-color="#fd9668"/>
<stop offset="0.150" stop-color="#fd9668"/>
<stop offset="0.175" stop-color="#fd9668"/>
<stop offset="0.200" stop-color="#fd9668"/>
<stop offset="0.225" stop-color="#fd9668"/>
<stop offset="0.250" stop-color="#fd9668"/>
<stop offset="0.275" stop-color="#fd9668"/>
<stop offset="0.300" stop-color="#fd9869"/>
<stop offset="0.325" stop-color="#fd9b6b"/>
<stop offset="0.350" stop-color="#fe9d6c"/>
<stop offset="0.375" stop-color="#fe9f6d"/>
<stop offset="0.400" stop-color="#fea36f"/>
<stop offset="0.413" stop-color="#fea571"/>
<stop offset="0.463" stop-color="#feae77"/>
<stop offset="0.513" stop-color="#feb77e"/>
<stop offset="0.563" stop-color="#febf84"/>
<stop offset="0.613" stop-color="#fec68a"/>
<stop offset="0.663" stop-color="#fecd90"/>
<stop offset="0.713" stop-color="#fed395"/>
<stop offset="0.763" stop-color="#fdda9c"/>
<stop offset="0.813" stop-color="#fde0a1"/>
<stop offset="0.863" stop-color="#fde5a7"/>
<stop offset="0.913" stop-color="#fdebac"/>
<stop offset="0.963" stop-color="#fceeb0"/>
<stop offset="1.000" stop-color="#fcf2b4"/>
</linearGradient>
<linearGradient id="h42" x1="288.1" x2="607.8" y1="0" y2="0" gradientUnits="userSpaceOnUse">
<stop offset="0.000" stop-color="#feb078"/>
<stop offset="0.025" stop-color="#feb078"/>
<stop offset="0.050" stop-color="#feae77"/>
<stop offset="0.075" stop-color="#feae77"/>
<stop offset="0.100" stop-color="#feae77"/>
<stop offset="0.125" stop-color="#feae77"/>
<stop offset="0.150" stop-color="#feae77"/>
<stop offset="0.175" stop-color="#feae77"/>
<stop offset="0.200" stop-color="#feac76"/>
<stop offset="0.225" stop-color="#feac76"/>
<stop offset="0.250" stop-color="#feac76"/>
<stop offset="0.275" stop-color="#feac76"/>
<stop offset="0.300" stop-color="#feae77"/>
<stop offset="0.325" stop-color="#feb078"/>
<stop offset="0.350" stop-color="#feb078"/>
<stop offset="0.375" stop-color="#feb27a"/>
<stop offset="0.400" stop-color="#feb47b"/>
<stop offset="0.413" stop-color="#feb67c"/>
<stop offset="0.463" stop-color="#febb81"/>
<stop offset="0.513" stop-color="#fec287"/>
<stop offset="0.563" stop-color="#fec68a"/>
<stop offset="0.613" stop-color="#fecd90"/>
<stop offset="0.663" stop-color="#fed395"/>
<stop offset="0.713" stop-color="#fed799"/>
<stop offset="0.763" stop-color="#fddc9e"/>
<stop offset="0.813" stop-color="#fde2a3"/>
<stop offset="0.863" stop-color="#fde7a9"/>
<stop offset="0.913" stop-color="#fcecae"/>
<stop offset="0.963" stop-color="#fcf0b2"/>
<stop offset="1.000" stop-color="#fcf2b4"/>
</linearGradient>
<linearGradient id="h43" x1="288.1" x2="607.8" y1="0" y2="0" gradientUnits="userSpaceOnUse">
<stop offset="0.000" stop-color="#fec185"/>
<stop offset="0.025" stop-color="#fec185"/>
<stop offset="0.050" stop-color="#fec185"/>
<stop offset="0.075" stop-color="#febf84"/>
<stop offset="0.100" stop-color="#febf84"/>
<stop offset="0.125" stop-color="#febf84"/>
<stop offset="0.150" stop-color="#febf84"/>
<stop offset="0.175" stop-color="#febf84"/>
<stop offset="0.200" stop-color="#febf84"/>
<stop offset="0.225" stop-color="#febd82"/>
<stop offset="0.250" stop-color="#febd82"/>
<stop offset="0.275" stop-color="#febd82"/>
<stop offset="0.300" stop-color="#febf84"/>
<stop offset="0.325" stop-color="#febf84"/>
<stop offset="0.350" stop-color="#febf84"/>
<stop offset="0.375" stop-color="#fec185"/>
<stop offset="0.400" stop-color="#fec185"/>
<stop offset="0.413" stop-color="#fec287"/>
<stop offset="0.463" stop-color="#fec68a"/>
<stop offset="0.513" stop-color="#fecc8f"/>
<stop offset="0.563" stop-color="#fecf92"/>
<stop offset="0.613" stop-color="#fed395"/>
<stop offset="0.663" stop-color="#fed89a"/>
<stop offset="0.713" stop-color="#fddc9e"/>
<stop offset="0.763" stop-color="#fde0a1"/>
<stop offset="0.813" stop-color="#fde3a5"/>
<stop offset="0.863" stop-color="#fde9aa"/>
<stop offset="0.913" stop-color="#fcecae"/>
<stop offset="0.963" stop-color="#fcf0b2"/>
<stop offset="1.000" stop-color="#fcf2b4"/>
</linearGradient>
<linearGradient id="h44" x1="288.1" x2="607.8" y1="0" y2="0" gradientUnits="userSpaceOnUse">
<stop offset="0.000" stop-color="#fecc8f"/>
<stop offset="0.025" stop-color="#fecc8f"/>
<stop offset="0.050" stop-color="#fecc8f"/>
<stop offset="0.075" stop-color="#fecc8f"/>
<stop offset="0.100" stop-color="#fecc8f"/>
<stop offset="0.125" stop-color="#fecc8f"/>
<stop offset="0.150" stop-color="#fecc8f"/>
<stop offset="0.175" stop-color="#fecc8f"/>
<stop offset="0.200" stop-color="#feca8d"/>
<stop offset="0.225" stop-color="#feca8d"/>
<stop offset="0.250" stop-color="#feca8d"/>
<stop offset="0.275" stop-color="#feca8d"/>
<stop offset="0.300" stop-color="#feca8d"/>
<stop offset="0.325" stop-color="#feca8d"/>
<stop offset="0.350" stop-color="#fecc8f"/>
<stop offset="0.375" stop-color="#fecc8f"/>
<stop offset="0.400" stop-color="#fecc8f"/>
<stop offset="0.413" stop-color="#fecc8f"/>
<stop offset="0.463" stop-color="#fecf92"/>
<stop offset="0.513" stop-color="#fed395"/>
<stop offset="0.563" stop-color="#fed597"/>
<stop offset="0.613" stop-color="#fed89a"/>
<stop offset="0.663" stop-color="#fddc9e"/>
<stop offset="0.713" stop-color="#fde0a1"/>
<stop offset="0.763" stop-color="#fde3a5"/>
<stop offset="0.813" stop-color="#fde7a9"/>
<stop offset="0.863" stop-color="#fdebac"/>
<stop offset="0.913" stop-color="#fceeb0"/>
<stop offset="0.963" stop-color="#fcf2b4"/>
<stop offset="1.000" stop-color="#fcf4b6"/>
</linearGradient>
<linearGradient id="h45" x1="288.1" x2="607.8" y1="0" y2="0" gradientUnits="userSpaceOnUse">
<stop offset="0.000" stop-color="#fed597"/>
<stop offset="0.025" stop-color="#fed597"/>
<stop offset="0.050" stop-color="#fed597"/>
<stop offset="0.075" stop-color="#fed597"/>
<stop offset="0.100" stop-color="#fed597"/>
<stop offset="0.125" stop-color="#fed597"/>
<stop offset="0.150" stop-color="#fed597"/>
<stop offset="0.175" stop-color="#fed597"/>
<stop offset="0.200" stop-color="#fed395"/>
<stop offset="0.225" stop-color="#fed395"/>
<stop offset="0.250" stop-color="#fed395"/>
<stop offset="0.275" stop-color="#fed395"/>
<stop offset="0.300" stop-color="#fed395"/>
<stop offset="0.325" stop-color="#fed395"/>
<stop offset="0.350" stop-color="#fed395"/>
<stop offset="0.375" stop-color="#fed395"/>
<stop offset="0.400" stop-color="#fed597"/>
<stop offset="0.413" stop-color="#fed597"/>
<stop offset="0.463" stop-color="#fed799"/>
<stop offset="0.513" stop-color="#fed89a"/>
<stop offset="0.563" stop-color="#fdda9c"/>
<stop offset="0.613" stop-color="#fddea0"/>
<stop offset="0.663" stop-color="#fde0a1"/>
<stop offset="0.713" stop-color="#fde2a3"/>
<stop offset="0.763" stop-color="#fde5a7"/>
<stop offset="0.813" stop-color="#fde9aa"/>
<stop offset="0.863" stop-color="#fdebac"/>
<stop offset="0.913" stop-color="#fceeb0"/>
<stop offset="0.963" stop-color="#fcf2b4"/>
<stop offset="1.000" stop-color="#fcf4b6"/>
</linearGradient>
<linearGradient id="h46" x1="288.1" x2="607.8" y1="0" y2="0" gradientUnits="userSpaceOnUse">
<stop offset="0.000" stop-color="#fddc9e"/>
<stop offset="0.025" stop-color="#fddc9e"/>
<stop offset="0.050" stop-color="#fdda9c"/>
<stop offset="0.075" stop-color="#fdda9c"/>
<stop offset="0.100" stop-color="#fdda9c"/>
<stop offset="0.125" stop-color="#fdda9c"/>
<stop offset="0.150" stop-color="#fdda9c"/>
<stop offset="0.175" stop-color="#fdda9c"/>
<stop offset="0.200" stop-color="#fdda9c"/>
<stop offset="0.225" stop-color="#fdda9c"/>
<stop offset="0.250" stop-color="#fdda9c"/>
<stop offset="0.275" stop-color="#fdda9c"/>
<stop offset="0.300" stop-color="#fdda9c"/>
<stop offset="0.325" stop-color="#fdda9c"/>
<stop offset="0.350" stop-color="#fdda9c"/>
<stop offset="0.375" stop-color="#fdda9c"/>
<stop offset="0.400" stop-color="#fdda9c"/>
<stop offset="0.413" stop-color="#fdda9c"/>
<stop offset="0.463" stop-color="#fddc9e"/>
<stop offset="0.513" stop-color="#fddea0"/>
<stop offset="0.563" stop-color="#fde0a1"/>
<stop offset="0.613" stop-color="#fde2a3"/>
<stop offset="0.663" stop-color="#fde3a5"/>
<stop offset="0.713" stop-color="#fde5a7"/>
<stop offset="0.763" stop-color="#fde7a9"/>
<stop offset="0.813" stop-color="#fdebac"/>
<stop offset="0.863" stop-color="#fcecae"/>
<stop offset="0.913" stop-color="#fcf0b2"/>
<stop offset="0.963" stop-color="#fcf2b4"/>
<stop offset="1.000" stop-color="#fcf4b6"/>
</linearGradient>
<linearGradient id="h47" x1="288.1" x2="607.8" y1="0" y2="0" gradientUnits="userSpaceOnUse">
<stop offset="0.000" stop-color="#fde0a1"/>
<stop offset="0.025" stop-color="#fde0a1"/>
<stop offset="0.050" stop-color="#fde0a1"/>
<stop offset="0.075" stop-color="#fde0a1"/>
<stop offset="0.100" stop-color="#fde0a1"/>
<stop offset="0.125" stop-color="#fde0a1"/>
<stop offset="0.150" stop-color="#fde0a1"/>
<stop offset="0.175" stop-color="#fde0a1"/>
<stop offset="0.200" stop-color="#fde0a1"/>
<stop offset="0.225" stop-color="#fde0a1"/>
<stop offset="0.250" stop-color="#fddea0"/>
<stop offset="0.275" stop-color="#fddea0"/>
<stop offset="0.300" stop-color="#fde0a1"/>
<stop offset="0.325" stop-color="#fde0a1"/>
<stop offset="0.350" stop-color="#fde0a1"/>
<stop offset="0.375" stop-color="#fde0a1"/>
<stop offset="0.400" stop-color="#fde0a1"/>
<stop offset="0.413" stop-color="#fde0a1"/>
<stop offset="0.463" stop-color="#fde0a1"/>
<stop offset="0.513" stop-color="#fde2a3"/>
<stop offset="0.563" stop-color="#fde3a5"/>
<stop offset="0.613" stop-color="#fde5a7"/>
<stop offset="0.663" stop-color="#fde7a9"/>
<stop offset="0.713" stop-color="#fde7a9"/>
<stop offset="0.763" stop-color="#fdebac"/>
<stop offset="0.813" stop-color="#fcecae"/>
<stop offset="0.863" stop-color="#fceeb0"/>
<stop offset="0.913" stop-color="#fcf2b4"/>
<stop offset="0.963" stop-color="#fcf4b6"/>
<stop offset="1.000" stop-color="#fcf6b8"/>
</linearGradient>
<linearGradient id="h48" x1="288.1" x2="607.8" y1="0" y2="0" gradientUnits="userSpaceOnUse">
<stop offset="0.000" stop-color="#fde3a5"/>
<stop offset="0.025" stop-color="#fde3a5"/>
<stop offset="0.050" stop-color="#fde3a5"/>
<stop offset="0.075" stop-color="#fde3a5"/>
<stop offset="0.100" stop-color="#fde3a5"/>
<stop offset="0.125" stop-color="#fde3a5"/>
<stop offset="0.150" stop-color="#fde3a5"/>
<stop offset="0.175" stop-color="#fde3a5"/>
<stop offset="0.200" stop-color="#fde3a5"/>
<stop offset="0.225" stop-color="#fde3a5"/>
<stop offset="0.250" stop-color="#fde3a5"/>
<stop offset="0.275" stop-color="#fde3a5"/>
<stop offset="0.300" stop-color="#fde3a5"/>
<stop offset="0.325" stop-color="#fde3a5"/>
<stop offset="0.350" stop-color="#fde3a5"/>
<stop offset="0.375" stop-color="#fde3a5"/>
<stop offset="0.400" stop-color="#fde3a5"/>
<stop offset="0.413" stop-color="#fde3a5"/>
<stop offset="0.463" stop-color="#fde3a5"/>
<stop offset="0.513" stop-color="#fde5a7"/>
<stop offset="0.563" stop-color="#fde5a7"/>
<stop offset="0.613" stop-color="#fde7a9"/>
<stop offset="0.663" stop-color="#fde9aa"/>
<stop offset="0.713" stop-color="#fdebac"/>
<stop offset="0.763" stop-color="#fdebac"/>
<stop offset="0.813" stop-color="#fceeb0"/>
<stop offset="0.863" stop-color="#fcf0b2"/>
<stop offset="0.913" stop-color="#fcf2b4"/>
<stop offset="0.963" stop-color="#fcf4b6"/>
<stop offset="1.000" stop-color="#fcf6b8"/>
</linearGradient>
<linearGradient id="h49" x1="288.1" x2="607.8" y1="0" y2="0" gradientUnits="userSpaceOnUse">
<stop offset="0.000" stop-color="#fde7a9"/>
<stop offset="0.025" stop-color="#fde7a9"/>
<stop offset="0.050" stop-color="#fde7a9"/>
<stop offset="0.075" stop-color="#fde7a9"/>
<stop offset="0.100" stop-color="#fde7a9"/>
<stop offset="0.125" stop-color="#fde7a9"/>
<stop offset="0.150" stop-color="#fde7a9"/>
<stop offset="0.175" stop-color="#fde7a9"/>
<stop offset="0.200" stop-color="#fde7a9"/>
<stop offset="0.225" stop-color="#fde5a7"/>
<stop offset="0.250" stop-color="#fde5a7"/>
<stop offset="0.275" stop-color="#fde5a7"/>
<stop offset="0.300" stop-color="#fde5a7"/>
<stop offset="0.325" stop-color="#fde5a7"/>
<stop offset="0.350" stop-color="#fde7a9"/>
<stop offset="0.375" stop-color="#fde7a9"/>
<stop offset="0.400" stop-color="#fde7a9"/>
<stop offset="0.413" stop-color="#fde7a9"/>
<stop offset="0.463" stop-color="#fde7a9"/>
<stop offset="0.513" stop-color="#fde7a9"/>
<stop offset="0.563" stop-color="#fde9aa"/>
<stop offset="0.613" stop-color="#fde9aa"/>
<stop offset="0.663" stop-color="#fdebac"/>
<stop offset="0.713" stop-color="#fcecae"/>
<stop offset="0.763" stop-color="#fcecae"/>
<stop offset="0.813" stop-color="#fceeb0"/>
<stop offset="0.863" stop-color="#fcf0b2"/>
<stop offset="0.913" stop-color="#fcf2b4"/>
<stop offset="0.963" stop-color="#fcf4b6"/>
<stop offset="1.000" stop-color="#fcf6b8"/>
</linearGradient>
<linearGradient id="h50" x1="288.1" x2="607.8" y1="0" y2="0" gradientUnits="userSpaceOnUse">
<stop offset="0.000" stop-color="#fde9aa"/>
<stop offset="0.025" stop-color="#fde9aa"/>
<stop offset="0.050" stop-color="#fde9aa"/>
<stop offset="0.075" stop-color="#fde9aa"/>
<stop offset="0.100" stop-color="#fde9aa"/>
<stop offset="0.125" stop-color="#fde9aa"/>
<stop offset="0.150" stop-color="#fde9aa"/>
<stop offset="0.175" stop-color="#fde9aa"/>
<stop offset="0.200" stop-color="#fde9aa"/>
<stop offset="0.225" stop-color="#fde9aa"/>
<stop offset="0.250" stop-color="#fde9aa"/>
<stop offset="0.275" stop-color="#fde9aa"/>
<stop offset="0.300" stop-color="#fde9aa"/>
<stop offset="0.325" stop-color="#fde9aa"/>
<stop offset="0.350" stop-color="#fde9aa"/>
<stop offset="0.375" stop-color="#fde9aa"/>
<stop offset="0.400" stop-color="#fde9aa"/>
<stop offset="0.413" stop-color="#fde9aa"/>
<stop offset="0.463" stop-color="#fdebac"/>
<stop offset="0.513" stop-color="#fdebac"/>
<stop offset="0.563" stop-color="#fdebac"/>
<stop offset="0.613" stop-color="#fcecae"/>
<stop offset="0.663" stop-color="#fcecae"/>
<stop offset="0.713" stop-color="#fceeb0"/>
<stop offset="0.763" stop-color="#fceeb0"/>
<stop offset="0.813" stop-color="#fcf0b2"/>
<stop offset="0.863" stop-color="#fcf2b4"/>
<stop offset="0.913" stop-color="#fcf4b6"/>
<stop offset="0.963" stop-color="#fcf6b8"/>
<stop offset="1.000" stop-color="#fcf6b8"/>
</linearGradient>
<linearGradient id="h51" x1="288.1" x2="607.8" y1="0" y2="0" gradientUnits="userSpaceOnUse">
<stop offset="0.000" stop-color="#fcecae"/>
<stop offset="0.025" stop-color="#fcecae"/>
<stop offset="0.050" stop-color="#fcecae"/>
<stop offset="0.075" stop-color="#fcecae"/>
<stop offset="0.100" stop-color="#fcecae"/>
<stop offset="0.125" stop-color="#fcecae"/>
<stop offset="0.150" stop-color="#fcecae"/>
<stop offset="0.175" stop-color="#fcecae"/>
<stop offset="0.200" stop-color="#fcecae"/>
<stop offset="0.225" stop-color="#fcecae"/>
<stop offset="0.250" stop-color="#fcecae"/>
<stop offset="0.275" stop-color="#fcecae"/>
<stop offset="0.300" stop-color="#fcecae"/>
<stop offset="0.325" stop-color="#fcecae"/>
<stop offset="0.350" stop-color="#fcecae"/>
<stop offset="0.375" stop-color="#fcecae"/>
<stop offset="0.400" stop-color="#fcecae"/>
<stop offset="0.413" stop-color="#fcecae"/>
<stop offset="0.463" stop-color="#fcecae"/>
<stop offset="0.513" stop-color="#fceeb0"/>
<stop offset="0.563" stop-color="#fceeb0"/>
<stop offset="0.613" stop-color="#fceeb0"/>
<stop offset="0.663" stop-color="#fcf0b2"/>
<stop offset="0.713" stop-color="#fcf0b2"/>
<stop offset="0.763" stop-color="#fcf0b2"/>
<stop offset="0.813" stop-color="#fcf2b4"/>
<stop offset="0.863" stop-color="#fcf4b6"/>
<stop offset="0.913" stop-color="#fcf6b8"/>
<stop offset="0.963" stop-color="#fcf6b8"/>
<stop offset="1.000" stop-color="#fcf7b9"/>
</linearGradient>
<linearGradient id="h52" x1="288.1" x2="607.8" y1="0" y2="0" gradientUnits="userSpaceOnUse">
<stop offset="0.000" stop-color="#fceeb0"/>
<stop offset="0.025" stop-color="#fceeb0"/>
<stop offset="0.050" stop-color="#fceeb0"/>
<stop offset="0.075" stop-color="#fceeb0"/>
<stop offset="0.100" stop-color="#fceeb0"/>
<stop offset="0.125" stop-color="#fceeb0"/>
<stop offset="0.150" stop-color="#fceeb0"/>
<stop offset="0.175" stop-color="#fceeb0"/>
<stop offset="0.200" stop-color="#fceeb0"/>
<stop offset="0.225" stop-color="#fceeb0"/>
<stop offset="0.250" stop-color="#fceeb0"/>
<stop offset="0.275" stop-color="#fceeb0"/>
<stop offset="0.300" stop-color="#fceeb0"/>
<stop offset="0.325" stop-color="#fceeb0"/>
<stop offset="0.350" stop-color="#fceeb0"/>
<stop offset="0.375" stop-color="#fceeb0"/>
<stop offset="0.400" stop-color="#fceeb0"/>
<stop offset="0.413" stop-color="#fceeb0"/>
<stop offset="0.463" stop-color="#fceeb0"/>
<stop offset="0.513" stop-color="#fcf0b2"/>
<stop offset="0.563" stop-color="#fcf0b2"/>
<stop offset="0.613" stop-color="#fcf0b2"/>
<stop offset="0.663" stop-color="#fcf2b4"/>
<stop offset="0.713" stop-color="#fcf2b4"/>
<stop offset="0.763" stop-color="#fcf2b4"/>
<stop offset="0.813" stop-color="#fcf4b6"/>
<stop offset="0.863" stop-color="#fcf4b6"/>
<stop offset="0.913" stop-color="#fcf6b8"/>
<stop offset="0.963" stop-color="#fcf7b9"/>
<stop offset="1.000" stop-color="#fcf7b9"/>
</linearGradient>
<linearGradient id="h53" x1="288.1" x2="607.8" y1="0" y2="0" gradientUnits="userSpaceOnUse">
<stop offset="0.000" stop-color="#fceeb0"/>
<stop offset="0.025" stop-color="#fceeb0"/>
<stop offset="0.050" stop-color="#fceeb0"/>
<stop offset="0.075" stop-color="#fceeb0"/>
<stop offset="0.100" stop-color="#fceeb0"/>
<stop offset="0.125" stop-color="#fcf0b2"/>
<stop offset="0.150" stop-color="#fcf0b2"/>
<stop offset="0.175" stop-color="#fcf0b2"/>
<stop offset="0.200" stop-color="#fcf0b2"/>
<stop offset="0.225" stop-color="#fcf0b2"/>
<stop offset="0.250" stop-color="#fcf0b2"/>
<stop offset="0.275" stop-color="#fcf0b2"/>
<stop offset="0.300" stop-color="#fcf0b2"/>
<stop offset="0.325" stop-color="#fcf0b2"/>
<stop offset="0.350" stop-color="#fcf0b2"/>
<stop offset="0.375" stop-color="#fcf0b2"/>
<stop offset="0.400" stop-color="#fcf0b2"/>
<stop offset="0.413" stop-color="#fcf0b2"/>
<stop offset="0.463" stop-color="#fcf0b2"/>
<stop offset="0.513" stop-color="#fcf0b2"/>
<stop offset="0.563" stop-color="#fcf2b4"/>
<stop offset="0.613" stop-color="#fcf2b4"/>
<stop offset="0.663" stop-color="#fcf2b4"/>
<stop offset="0.713" stop-color="#fcf2b4"/>
<stop offset="0.763" stop-color="#fcf4b6"/>
<stop offset="0.813" stop-color="#fcf4b6"/>
<stop offset="0.863" stop-color="#fcf6b8"/>
<stop offset="0.913" stop-color="#fcf6b8"/>
<stop offset="0.963" stop-color="#fcf7b9"/>
<stop offset="1.000" stop-color="#fcf7b9"/>
</linearGradient>
<linearGradient id="h54" x1="288.1" x2="607.8" y1="0" y2="0" gradientUnits="userSpaceOnUse">
<stop offset="0.000" stop-color="#fcf0b2"/>
<stop offset="0.025" stop-color="#fcf0b2"/>
<stop offset="0.050" stop-color="#fcf0b2"/>
<stop offset="0.075" stop-color="#fcf0b2"/>
<stop offset="0.100" stop-color="#fcf0b2"/>
<stop offset="0.125" stop-color="#fcf0b2"/>
<stop offset="0.150" stop-color="#fcf0b2"/>
<stop offset="0.175" stop-color="#fcf0b2"/>
<stop offset="0.200" stop-color="#fcf0b2"/>
<stop offset="0.225" stop-color="#fcf0b2"/>
<stop offset="0.250" stop-color="#fcf0b2"/>
<stop offset="0.275" stop-color="#fcf0b2"/>
<stop offset="0.300" stop-color="#fcf0b2"/>
<stop offset="0.325" stop-color="#fcf0b2"/>
<stop offset="0.350" stop-color="#fcf2b4"/>
<stop offset="0.375" stop-color="#fcf2b4"/>
<stop offset="0.400" stop-color="#fcf2b4"/>
<stop offset="0.413" stop-color="#fcf2b4"/>
<stop offset="0.463" stop-color="#fcf2b4"/>
<stop offset="0.513" stop-color="#fcf2b4"/>
<stop offset="0.563" stop-color="#fcf2b4"/>
<stop offset="0.613" stop-color="#fcf2b4"/>
<stop offset="0.663" stop-color="#fcf4b6"/>
<stop offset="0.713" stop-color="#fcf4b6"/>
<stop offset="0.763" stop-color="#fcf4b6"/>
<stop offset="0.813" stop-color="#fcf6b8"/>
<stop offset="0.863" stop-color="#fcf6b8"/>
<stop offset="0.913" stop-color="#fcf7b9"/>
<stop offset="0.963" stop-color="#fcf7b9"/>
<stop offset="1.000" stop-color="#fcf7b9"/>
</linearGradient>
<linearGradient id="h55" x1="288.1" x2="607.8" y1="0" y2="0" gradientUnits="userSpaceOnUse">
<stop offset="0.000" stop-color="#fcf0b2"/>
<stop offset="0.025" stop-color="#fcf0b2"/>
<stop offset="0.050" stop-color="#fcf0b2"/>
<stop offset="0.075" stop-color="#fcf0b2"/>
<stop offset="0.100" stop-color="#fcf0b2"/>
<stop offset="0.125" stop-color="#fcf0b2"/>
<stop offset="0.150" stop-color="#fcf0b2"/>
<stop offset="0.175" stop-color="#fcf2b4"/>
<stop offset="0.200" stop-color="#fcf2b4"/>
<stop offset="0.225" stop-color="#fcf2b4"/>
<stop offset="0.250" stop-color="#fcf2b4"/>
<stop offset="0.275" stop-color="#fcf2b4"/>
<stop offset="0.300" stop-color="#fcf2b4"/>
<stop offset="0.325" stop-color="#fcf2b4"/>
<stop offset="0.350" stop-color="#fcf2b4"/>
<stop offset="0.375" stop-color="#fcf2b4"/>
<stop offset="0.400" stop-color="#fcf2b4"/>
<stop offset="0.413" stop-color="#fcf2b4"/>
<stop offset="0.463" stop-color="#fcf2b4"/>
<stop offset="0.513" stop-color="#fcf2b4"/>
<stop offset="0.563" stop-color="#fcf4b6"/>
<stop offset="0.613" stop-color="#fcf4b6"/>
<stop offset="0.663" stop-color="#fcf4b6"/>
<stop offset="0.713" stop-color="#fcf4b6"/>
<stop offset="0.763" stop-color="#fcf6b8"/>
<stop offset="0.813" stop-color="#fcf6b8"/>
<stop offset="0.863" stop-color="#fcf6b8"/>
<stop offset="0.913" stop-color="#fcf7b9"/>
<stop offset="0.963" stop-color="#fcf7b9"/>
<stop offset="1.000" stop-color="#fcf7b9"/>
</linearGradient>
<linearGradient id="h56" x1="288.1" x2="607.8" y1="0" y2="0" gradientUnits="userSpaceOnUse">
<stop offset="0.000" stop-color="#fcf0b2"/>
<stop offset="0.025" stop-color="#fcf0b2"/>
<stop offset="0.050" stop-color="#fcf0b2"/>
<stop offset="0.075" stop-color="#fcf0b2"/>
<stop offset="0.100" stop-color="#fcf2b4"/>
<stop offset="0.125" stop-color="#fcf2b4"/>
<stop offset="0.150" stop-color="#fcf2b4"/>
<stop offset="0.175" stop-color="#fcf2b4"/>
<stop offset="0.200" stop-color="#fcf2b4"/>
<stop offset="0.225" stop-color="#fcf2b4"/>
<stop offset="0.250" stop-color="#fcf2b4"/>
<stop offset="0.275" stop-color="#fcf2b4"/>
<stop offset="0.300" stop-color="#fcf2b4"/>
<stop offset="0.325" stop-color="#fcf2b4"/>
<stop offset="0.350" stop-color="#fcf2b4"/>
<stop offset="0.375" stop-color="#fcf2b4"/>
<stop offset="0.400" stop-color="#fcf2b4"/>
<stop offset="0.413" stop-color="#fcf2b4"/>
<stop offset="0.463" stop-color="#fcf2b4"/>
<stop offset="0.513" stop-color="#fcf4b6"/>
<stop offset="0.563" stop-color="#fcf4b6"/>
<stop offset="0.613" stop-color="#fcf4b6"/>
<stop offset="0.663" stop-color="#fcf4b6"/>
<stop offset="0.713" stop-color="#fcf6b8"/>
<stop offset="0.763" stop-color="#fcf6b8"/>
<stop offset="0.813" stop-color="#fcf6b8"/>
<stop offset="0.863" stop-color="#fcf6b8"/>
<stop offset="0.913" stop-color="#fcf7b9"/>
<stop offset="0.963" stop-color="#fcf7b9"/>
<stop offset="1.000" stop-color="#fcf9bb"/>
</linearGradient>
<linearGradient id="h57" x1="288.1" x2="607.8" y1="0" y2="0" gradientUnits="userSpaceOnUse">
<stop offset="0.000" stop-color="#fcf0b2"/>
<stop offset="0.025" stop-color="#fcf0b2"/>
<stop offset="0.050" stop-color="#fcf2b4"/>
<stop offset="0.075" stop-color="#fcf2b4"/>
<stop offset="0.100" stop-color="#fcf2b4"/>
<stop offset="0.125" stop-color="#fcf2b4"/>
<stop offset="0.150" stop-color="#fcf2b4"/>
<stop offset="0.175" stop-color="#fcf2b4"/>
<stop offset="0.200" stop-color="#fcf2b4"/>
<stop offset="0.225" stop-color="#fcf2b4"/>
<stop offset="0.250" stop-color="#fcf2b4"/>
<stop offset="0.275" stop-color="#fcf2b4"/>
<stop offset="0.300" stop-color="#fcf2b4"/>
<stop offset="0.325" stop-color="#fcf2b4"/>
<stop offset="0.350" stop-color="#fcf2b4"/>
<stop offset="0.375" stop-color="#fcf2b4"/>
<stop offset="0.400" stop-color="#fcf4b6"/>
<stop offset="0.413" stop-color="#fcf4b6"/>
<stop offset="0.463" stop-color="#fcf4b6"/>
<stop offset="0.513" stop-color="#fcf4b6"/>
<stop offset="0.563" stop-color="#fcf4b6"/>
<stop offset="0.613" stop-color="#fcf4b6"/>
<stop offset="0.663" stop-color="#fcf6b8"/>
<stop offset="0.713" stop-color="#fcf6b8"/>
<stop offset="0.763" stop-color="#fcf6b8"/>
<stop offset="0.813" stop-color="#fcf6b8"/>
<stop offset="0.863" stop-color="#fcf7b9"/>
<stop offset="0.913" stop-color="#fcf7b9"/>
<stop offset="0.963" stop-color="#fcf7b9"/>
<stop offset="1.000" stop-color="#fcf9bb"/>
</linearGradient>
<linearGradient id="h58" x1="288.1" x2="607.8" y1="0" y2="0" gradientUnits="userSpaceOnUse">
<stop offset="0.000" stop-color="#fcf2b4"/>
<stop offset="0.025" stop-color="#fcf2b4"/>
<stop offset="0.050" stop-color="#fcf2b4"/>
<stop offset="0.075" stop-color="#fcf2b4"/>
<stop offset="0.100" stop-color="#fcf2b4"/>
<stop offset="0.125" stop-color="#fcf2b4"/>
<stop offset="0.150" stop-color="#fcf2b4"/>
<stop offset="0.175" stop-color="#fcf2b4"/>
<stop offset="0.200" stop-color="#fcf2b4"/>
<stop offset="0.225" stop-color="#fcf2b4"/>
<stop offset="0.250" stop-color="#fcf2b4"/>
<stop offset="0.275" stop-color="#fcf2b4"/>
<stop offset="0.300" stop-color="#fcf4b6"/>
<stop offset="0.325" stop-color="#fcf4b6"/>
<stop offset="0.350" stop-color="#fcf4b6"/>
<stop offset="0.375" stop-color="#fcf4b6"/>
<stop offset="0.400" stop-color="#fcf4b6"/>
<stop offset="0.413" stop-color="#fcf4b6"/>
<stop offset="0.463" stop-color="#fcf4b6"/>
<stop offset="0.513" stop-color="#fcf4b6"/>
<stop offset="0.563" stop-color="#fcf4b6"/>
<stop offset="0.613" stop-color="#fcf6b8"/>
<stop offset="0.663" stop-color="#fcf6b8"/>
<stop offset="0.713" stop-color="#fcf6b8"/>
<stop offset="0.763" stop-color="#fcf6b8"/>
<stop offset="0.813" stop-color="#fcf7b9"/>
<stop offset="0.863" stop-color="#fcf7b9"/>
<stop offset="0.913" stop-color="#fcf7b9"/>
<stop offset="0.963" stop-color="#fcf7b9"/>
<stop offset="1.000" stop-color="#fcf9bb"/>
</linearGradient>
<linearGradient id="h59" x1="288.1" x2="607.8" y1="0" y2="0" gradientUnits="userSpaceOnUse">
<stop offset="0.000" stop-color="#fcf2b4"/>
<stop offset="0.025" stop-color="#fcf2b4"/>
<stop offset="0.050" stop-color="#fcf2b4"/>
<stop offset="0.075" stop-color="#fcf2b4"/>
<stop offset="0.100" stop-color="#fcf2b4"/>
<stop offset="0.125" stop-color="#fcf2b4"/>
<stop offset="0.150" stop-color="#fcf2b4"/>
<stop offset="0.175" stop-color="#fcf2b4"/>
<stop offset="0.200" stop-color="#fcf2b4"/>
<stop offset="0.225" stop-color="#fcf4b6"/>
<stop offset="0.250" stop-color="#fcf4b6"/>
<stop offset="0.275" stop-color="#fcf4b6"/>
<stop offset="0.300" stop-color="#fcf4b6"/>
<stop offset="0.325" stop-color="#fcf4b6"/>
<stop offset="0.350" stop-color="#fcf4b6"/>
<stop offset="0.375" stop-color="#fcf4b6"/>
<stop offset="0.400" stop-color="#fcf4b6"/>
<stop offset="0.413" stop-color="#fcf4b6"/>
<stop offset="0.463" stop-color="#fcf4b6"/>
<stop offset="0.513" stop-color="#fcf4b6"/>
<stop offset="0.563" stop-color="#fcf6b8"/>
<stop offset="0.613" stop-color="#fcf6b8"/>
<stop offset="0.663" stop-color="#fcf6b8"/>
<stop offset="0.713" stop-color="#fcf6b8"/>
<stop offset="0.763" stop-color="#fcf7b9"/>
<stop offset="0.813" stop-color="#fcf7b9"/>
<stop offset="0.863" stop-color="#fcf7b9"/>
<stop offset="0.913" stop-color="#fcf7b9"/>
<stop offset="0.963" stop-color="#fcf9bb"/>
<stop offset="1.000" stop-color="#fcf9bb"/>
</linearGradient>
<linearGradient id="h60" x1="288.1" x2="607.8" y1="0" y2="0" gradientUnits="userSpaceOnUse">
<stop offset="0.000" stop-color="#fcf2b4"/>
<stop offset="0.025" stop-color="#fcf2b4"/>
<stop offset="0.050" stop-color="#fcf2b4"/>
<stop offset="0.075" stop-color="#fcf2b4"/>
<stop offset="0.100" stop-color="#fcf2b4"/>
<stop offset="0.125" stop-color="#fcf2b4"/>
<stop offset="0.150" stop-color="#fcf2b4"/>
<stop offset="0.175" stop-color="#fcf2b4"/>
<stop offset="0.200" stop-color="#fcf4b6"/>
<stop offset="0.225" stop-color="#fcf4b6"/>
<stop offset="0.250" stop-color="#fcf4b6"/>
<stop offset="0.275" stop-color="#fcf4b6"/>
<stop offset="0.300" stop-color="#fcf4b6"/>
<stop offset="0.325" stop-color="#fcf4b6"/>
<stop offset="0.350" stop-color="#fcf4b6"/>
<stop offset="0.375" stop-color="#fcf4b6"/>
<stop offset="0.400" stop-color="#fcf4b6"/>
<stop offset="0.413" stop-color="#fcf4b6"/>
<stop offset="0.463" stop-color="#fcf4b6"/>
<stop offset="0.513" stop-color="#fcf6b8"/>
<stop offset="0.563" stop-color="#fcf6b8"/>
<stop offset="0.613" stop-color="#fcf6b8"/>
<stop offset="0.663" stop-color="#fcf6b8"/>
<stop offset="0.713" stop-color="#fcf6b8"/>
<stop offset="0.763" stop-color="#fcf7b9"/>
<stop offset="0.813" stop-color="#fcf7b9"/>
<stop offset="0.863" stop-color="#fcf7b9"/>
<stop offset="0.913" stop-color="#fcf7b9"/>
<stop offset="0.963" stop-color="#fcf9bb"/>
<stop offset="1.000" stop-color="#fcf9bb"/>
</linearGradient>
<linearGradient id="h61" x1="288.1" x2="607.8" y1="0" y2="0" gradientUnits="userSpaceOnUse">
<stop offset="0.000" stop-color="#fcf2b4"/>
<stop offset="0.025" stop-color="#fcf2b4"/>
<stop offset="0.050" stop-color="#fcf2b4"/>
<stop offset="0.075" stop-color="#fcf2b4"/>
<stop offset="0.100" stop-color="#fcf2b4"/>
<stop offset="0.125" stop-color="#fcf2b4"/>
<stop offset="0.150" stop-color="#fcf2b4"/>
<stop offset="0.175" stop-color="#fcf4b6"/>
<stop offset="0.200" stop-color="#fcf4b6"/>
<stop offset="0.225" stop-color="#fcf4b6"/>
<stop offset="0.250" stop-color="#fcf4b6"/>
<stop offset="0.275" stop-color="#fcf4b6"/>
<stop offset="0.300" stop-color="#fcf4b6"/>
<stop offset="0.325" stop-color="#fcf4b6"/>
<stop offset="0.350" stop-color="#fcf4b6"/>
<stop offset="0.375" stop-color="#fcf4b6"/>
<stop offset="0.400" stop-color="#fcf4b6"/>
<stop offset="0.413" stop-color="#fcf4b6"/>
<stop offset="0.463" stop-color="#fcf4b6"/>
<stop offset="0.513" stop-color="#fcf6b8"/>
<stop offset="0.563" stop-color="#fcf6b8"/>
<stop offset="0.613" stop-color="#fcf6b8"/>
<stop offset="0.663" stop-color="#fcf6b8"/>
<stop offset="0.713" stop-color="#fcf7b9"/>
<stop offset="0.763" stop-color="#fcf7b9"/>
<stop offset="0.813" stop-color="#fcf7b9"/>
<stop offset="0.863" stop-color="#fcf7b9"/>
<stop offset="0.913" stop-color="#fcf7b9"/>
<stop offset="0.963" stop-color="#fcf9bb"/>
<stop offset="1.000" stop-color="#fcf9bb"/>
</linearGradient>
<linearGradient id="h62" x1="288.1" x2="607.8" y1="0" y2="0" gradientUnits="userSpaceOnUse">
<stop offset="0.000" stop-color="#fcf2b4"/>
<stop offset="0.025" stop-color="#fcf2b4"/>
<stop offset="0.050" stop-color="#fcf2b4"/>
<stop offset="0.075" stop-color="#fcf2b4"/>
<stop offset="0.100" stop-color="#fcf2b4"/>
<stop offset="0.125" stop-color="#fcf2b4"/>
<stop offset="0.150" stop-color="#fcf4b6"/>
<stop offset="0.175" stop-color="#fcf4b6"/>
<stop offset="0.200" stop-color="#fcf4b6"/>
<stop offset="0.225" stop-color="#fcf4b6"/>
<stop offset="0.250" stop-color="#fcf4b6"/>
<stop offset="0.275" stop-color="#fcf4b6"/>
<stop offset="0.300" stop-color="#fcf4b6"/>
<stop offset="0.325" stop-color="#fcf4b6"/>
<stop offset="0.350" stop-color="#fcf4b6"/>
<stop offset="0.375" stop-color="#fcf4b6"/>
<stop offset="0.400" stop-color="#fcf4b6"/>
<stop offset="0.413" stop-color="#fcf4b6"/>
<stop offset="0.463" stop-color="#fcf6b8"/>
<stop offset="0.513" stop-color="#fcf6b8"/>
<stop offset="0.563" stop-color="#fcf6b8"/>
<stop offset="0.613" stop-color="#fcf6b8"/>
<stop offset="0.663" stop-color="#fcf6b8"/>
<stop offset="0.713" stop-color="#fcf7b9"/>
<stop offset="0.763" stop-color="#fcf7b9"/>
<stop offset="0.813" stop-color="#fcf7b9"/>
<stop offset="0.863" stop-color="#fcf7b9"/>
<stop offset="0.913" stop-color="#fcf7b9"/>
<stop offset="0.963" stop-color="#fcf9bb"/>
<stop offset="1.000" stop-color="#fcf9bb"/>
</linearGradient>
<linearGradient id="h63" x1="288.1" x2="607.8" y1="0" y2="0" gradientUnits="userSpaceOnUse">
<stop offset="0.000" stop-color="#fcf2b4"/>
<stop offset="0.025" stop-color="#fcf2b4"/>
<stop offset="0.050" stop-color="#fcf2b4"/>
<stop offset="0.075" stop-color="#fcf2b4"/>
<stop offset="0.100" stop-color="#fcf2b4"/>
<stop offset="0.125" stop-color="#fcf2b4"/>
<stop offset="0.150" stop-color="#fcf4b6"/>
<stop offset="0.175" stop-color="#fcf4b6"/>
<stop offset="0.200" stop-color="#fcf4b6"/>
<stop offset="0.225" stop-color="#fcf4b6"/>
<stop offset="0.250" stop-color="#fcf4b6"/>
<stop offset="0.275" stop-color="#fcf4b6"/>
<stop offset="0.300" stop-color="#fcf4b6"/>
<stop offset="0.325" stop-color="#fcf4b6"/>
<stop offset="0.350" stop-color="#fcf4b6"/>
<stop offset="0.375" stop-color="#fcf4b6"/>
<stop offset="0.400" stop-color="#fcf4b6"/>
<stop offset="0.413" stop-color="#fcf4b6"/>
<stop offset="0.463" stop-color="#fcf6b8"/>
<stop offset="0.513" stop-color="#fcf6b8"/>
<stop offset="0.563" stop-color="#fcf6b8"/>
<stop offset="0.613" stop-color="#fcf6b8"/>
<stop offset="0.663" stop-color="#fcf6b8"/>
<stop offset="0.713" stop-color="#fcf7b9"/>
<stop offset="0.763" stop-color="#fcf7b9"/>
<stop offset="0.813" stop-color="#fcf7b9"/>
<stop offset="0.863" stop-color="#fcf7b9"/>
<stop offset="0.913" stop-color="#fcf9bb"/>
<stop offset="0.963" stop-color="#fcf9bb"/>
<stop offset="1.000" stop-color="#fcf9bb"/>
</linearGradient>
<linearGradient id="h64" x1="288.1" x2="607.8" y1="0" y2="0" gradientUnits="userSpaceOnUse">
<stop offset="0.000" stop-color="#fcf2b4"/>
<stop offset="0.025" stop-color="#fcf2b4"/>
<stop offset="0.050" stop-color="#fcf2b4"/>
<stop offset="0.075" stop-color="#fcf2b4"/>
<stop offset="0.100" stop-color="#fcf2b4"/>
<stop offset="0.125" stop-color="#fcf2b4"/>
<stop offset="0.150" stop-color="#fcf4b6"/>
<stop offset="0.175" stop-color="#fcf4b6"/>
<stop offset="0.200" stop-color="#fcf4b6"/>
<stop offset="0.225" stop-color="#fcf4b6"/>
<stop offset="0.250" stop-color="#fcf4b6"/>
<stop offset="0.275" stop-color="#fcf4b6"/>
<stop offset="0.300" stop-color="#fcf4b6"/>
<stop offset="0.325" stop-color="#fcf4b6"/>
<stop offset="0.350" stop-color="#fcf4b6"/>
<stop offset="0.375" stop-color="#fcf4b6"/>
<stop offset="0.400" stop-color="#fcf4b6"/>
<stop offset="0.413" stop-color="#fcf4b6"/>
<stop offset="0.463" stop-color="#fcf6b8"/>
<stop offset="0.513" stop-color="#fcf6b8"/>
<stop offset="0.563" stop-color="#fcf6b8"/>
<stop offset="0.613" stop-color="#fcf6b8"/>
<stop offset="0.663" stop-color="#fcf7b9"/>
<stop offset="0.713" stop-color="#fcf7b9"/>
<stop offset="0.763" stop-color="#fcf7b9"/>
<stop offset="0.813" stop-color="#fcf7b9"/>
<stop offset="0.863" stop-color="#fcf7b9"/>
<stop offset="0.913" stop-color="#fcf9bb"/>
<stop offset="0.963" stop-color="#fcf9bb"/>
<stop offset="1.000" stop-color="#fcf9bb"/>
</linearGradient>
<linearGradient id="h65" x1="288.1" x2="607.8" y1="0" y2="0" gradientUnits="userSpaceOnUse">
<stop offset="0.000" stop-color="#fcf2b4"/>
<stop offset="0.025" stop-color="#fcf2b4"/>
<stop offset="0.050" stop-color="#fcf2b4"/>
<stop offset="0.075" stop-color="#fcf2b4"/>
<stop offset="0.100" stop-color="#fcf2b4"/>
<stop offset="0.125" stop-color="#fcf4b6"/>
<stop offset="0.150" stop-color="#fcf4b6"/>
<stop offset="0.175" stop-color="#fcf4b6"/>
<stop offset="0.200" stop-color="#fcf4b6"/>
<stop offset="0.225" stop-color="#fcf4b6"/>
<stop offset="0.250" stop-color="#fcf4b6"/>
<stop offset="0.275" stop-color="#fcf4b6"/>
<stop offset="0.300" stop-color="#fcf4b6"/>
<stop offset="0.325" stop-color="#fcf4b6"/>
<stop offset="0.350" stop-color="#fcf4b6"/>
<stop offset="0.375" stop-color="#fcf4b6"/>
<stop offset="0.400" stop-color="#fcf4b6"/>
<stop offset="0.413" stop-color="#fcf4b6"/>
<stop offset="0.463" stop-color="#fcf6b8"/>
<stop offset="0.513" stop-color="#fcf6b8"/>
<stop offset="0.563" stop-color="#fcf6b8"/>
<stop offset="0.613" stop-color="#fcf6b8"/>
<stop offset="0.663" stop-color="#fcf7b9"/>
<stop offset="0.713" stop-color="#fcf7b9"/>
<stop offset="0.763" stop-color="#fcf7b9"/>
<stop offset="0.813" stop-color="#fcf7b9"/>
<stop offset="0.863" stop-color="#fcf7b9"/>
<stop offset="0.913" stop-color="#fcf9bb"/>
<stop offset="0.963" stop-color="#fcf9bb"/>
<stop offset="1.000" stop-color="#fcf9bb"/>
</linearGradient>
<linearGradient id="h66" x1="288.1" x2="607.8" y1="0" y2="0" gradientUnits="userSpaceOnUse">
<stop offset="0.000" stop-color="#fcf2b4"/>
<stop offset="0.025" stop-color="#fcf2b4"/>
<stop offset="0.050" stop-color="#fcf2b4"/>
<stop offset="0.075" stop-color="#fcf2b4"/>
<stop offset="0.100" stop-color="#fcf2b4"/>
<stop offset="0.125" stop-color="#fcf4b6"/>
<stop offset="0.150" stop-color="#fcf4b6"/>
<stop offset="0.175" stop-color="#fcf4b6"/>
<stop offset="0.200" stop-color="#fcf4b6"/>
<stop offset="0.225" stop-color="#fcf4b6"/>
<stop offset="0.250" stop-color="#fcf4b6"/>
<stop offset="0.275" stop-color="#fcf4b6"/>
<stop offset="0.300" stop-color="#fcf4b6"/>
<stop offset="0.325" stop-color="#fcf4b6"/>
<stop offset="0.350" stop-color="#fcf4b6"/>
<stop offset="0.375" stop-color="#fcf4b6"/>
<stop offset="0.400" stop-color="#fcf4b6"/>
<stop offset="0.413" stop-color="#fcf4b6"/>
<stop offset="0.463" stop-color="#fcf6b8"/>
<stop offset="0.513" stop-color="#fcf6b8"/>
<stop offset="0.563" stop-color="#fcf6b8"/>
<stop offset="0.613" stop-color="#fcf6b8"/>
<stop offset="0.663" stop-color="#fcf7b9"/>
<stop offset="0.713" stop-color="#fcf7b9"/>
<stop offset="0.763" stop-color="#fcf7b9"/>
<stop offset="0.813" stop-color="#fcf7b9"/>
<stop offset="0.863" stop-color="#fcf7b9"/>
<stop offset="0.913" stop-color="#fcf9bb"/>
<stop offset="0.963" stop-color="#fcf9bb"/>
<stop offset="1.000" stop-color="#fcf9bb"/>
</linearGradient>
<linearGradient id="h67" x1="288.1" x2="607.8" y1="0" y2="0" gradientUnits="userSpaceOnUse">
<stop offset="0.000" stop-color="#fcf2b4"/>
<stop offset="0.025" stop-color="#fcf2b4"/>
<stop offset="0.050" stop-color="#fcf2b4"/>
<stop offset="0.075" stop-color="#fcf2b4"/>
<stop offset="0.100" stop-color="#fcf2b4"/>
<stop offset="0.125" stop-color="#fcf4b6"/>
<stop offset="0.150" stop-color="#fcf4b6"/>
<stop offset="0.175" stop-color="#fcf4b6"/>
<stop offset="0.200" stop-color="#fcf4b6"/>
<stop offset="0.225" stop-color="#fcf4b6"/>
<stop offset="0.250" stop-color="#fcf4b6"/>
<stop offset="0.275" stop-color="#fcf4b6"/>
<stop offset="0.300" stop-color="#fcf4b6"/>
<stop offset="0.325" stop-color="#fcf4b6"/>
<stop offset="0.350" stop-color="#fcf4b6"/>
<stop offset="0.375" stop-color="#fcf4b6"/>
<stop offset="0.400" stop-color="#fcf4b6"/>
<stop offset="0.413" stop-color="#fcf6b8"/>
<stop offset="0.463" stop-color="#fcf6b8"/>
<stop offset="0.513" stop-color="#fcf6b8"/>
<stop offset="0.563" stop-color="#fcf6b8"/>
<stop offset="0.613" stop-color="#fcf6b8"/>
<stop offset="0.663" stop-color="#fcf7b9"/>
<stop offset="0.713" stop-color="#fcf7b9"/>
<stop offset="0.763" stop-color="#fcf7b9"/>
<stop offset="0.813" stop-color="#fcf7b9"/>
<stop offset="0.863" stop-color="#fcf7b9"/>
<stop offset="0.913" stop-color="#fcf9bb"/>
<stop offset="0.963" stop-color="#fcf9bb"/>
<stop offset="1.000" stop-color="#fcf9bb"/>
</linearGradient>
<linearGradient id="h68" x1="288.1" x2="607.8" y1="0" y2="0" gradientUnits="userSpaceOnUse">
<stop offset="0.000" stop-color="#fcf2b4"/>
<stop offset="0.025" stop-color="#fcf2b4"/>
<stop offset="0.050" stop-color="#fcf2b4"/>
<stop offset="0.075" stop-color="#fcf2b4"/>
<stop offset="0.100" stop-color="#fcf2b4"/>
<stop offset="0.125" stop-color="#fcf4b6"/>
<stop offset="0.150" stop-color="#fcf4b6"/>
<stop offset="0.175" stop-color="#fcf4b6"/>
<stop offset="0.200" stop-color="#fcf4b6"/>
<stop offset="0.225" stop-color="#fcf4b6"/>
<stop offset="0.250" stop-color="#fcf4b6"/>
<stop offset="0.275" stop-color="#fcf4b6"/>
<stop offset="0.300" stop-color="#fcf4b6"/>
<stop offset="0.325" stop-color="#fcf4b6"/>
<stop offset="0.350" stop-color="#fcf4b6"/>
<stop offset="0.375" stop-color="#fcf4b6"/>
<stop offset="0.400" stop-color="#fcf4b6"/>
<stop offset="0.413" stop-color="#fcf6b8"/>
<stop offset="0.463" stop-color="#fcf6b8"/>
<stop offset="0.513" stop-color="#fcf6b8"/>
<stop offset="0.563" stop-color="#fcf6b8"/>
<stop offset="0.613" stop-color="#fcf6b8"/>
<stop offset="0.663" stop-color="#fcf7b9"/>
<stop offset="0.713" stop-color="#fcf7b9"/>
<stop offset="0.763" stop-color="#fcf7b9"/>
<stop offset="0.813" stop-color="#fcf7b9"/>
<stop offset="0.863" stop-color="#fcf7b9"/>
<stop offset="0.913" stop-color="#fcf9bb"/>
<stop offset="0.963" stop-color="#fcf9bb"/>
<stop offset="1.000" stop-color="#fcf9bb"/>
</linearGradient>
<linearGradient id="h69" x1="288.1" x2="607.8" y1="0" y2="0" gradientUnits="userSpaceOnUse">
<stop offset="0.000" stop-color="#fcf2b4"/>
<stop offset="0.025" stop-color="#fcf2b4"/>
<stop offset="0.050" stop-color="#fcf2b4"/>
<stop offset="0.075" stop-color="#fcf2b4"/>
<stop offset="0.100" stop-color="#fcf2b4"/>
<stop offset="0.125" stop-color="#fcf4b6"/>
<stop offset="0.150" stop-color="#fcf4b6"/>
<stop offset="0.175" stop-color="#fcf4b6"/>
<stop offset="0.200" stop-color="#fcf4b6"/>
<stop offset="0.225" stop-color="#fcf4b6"/>
<stop offset="0.250" stop-color="#fcf4b6"/>
<stop offset="0.275" stop-color="#fcf4b6"/>
<stop offset="0.300" stop-color="#fcf4b6"/>
<stop offset="0.325" stop-color="#fcf4b6"/>
<stop offset="0.350" stop-color="#fcf4b6"/>
<stop offset="0.375" stop-color="#fcf4b6"/>
<stop offset="0.400" stop-color="#fcf4b6"/>
<stop offset="0.413" stop-color="#fcf6b8"/>
<stop offset="0.463" stop-color="#fcf6b8"/>
<stop offset="0.513" stop-color="#fcf6b8"/>
<stop offset="0.563" stop-color="#fcf6b8"/>
<stop offset="0.613" stop-color="#fcf6b8"/>
<stop offset="0.663" stop-color="#fcf7b9"/>
<stop offset="0.713" stop-color="#fcf7b9"/>
<stop offset="0.763" stop-color="#fcf7b9"/>
<stop offset="0.813" stop-color="#fcf7b9"/>
<stop offset="0.863" stop-color="#fcf7b9"/>
<stop offset="0.913" stop-color="#fcf9bb"/>
<stop offset="0.963" stop-color="#fcf9bb"/>
<stop offset="1.000" stop-color="#fcf9bb"/>
</linearGradient>
<linearGradient id="h70" x1="288.1" x2="607.8" y1="0" y2="0" gradientUnits="userSpaceOnUse">
<stop offset="0.000" stop-color="#fcf2b4"/>
<stop offset="0.025" stop-color="#fcf2b4"/>
<stop offset="0.050" stop-color="#fcf2b4"/>
<stop offset="0.075" stop-color="#fcf2b4"/>
<stop offset="0.100" stop-color="#fcf2b4"/>
<stop offset="0.125" stop-color="#fcf4b6"/>
<stop offset="0.150" stop-color="#fcf4b6"/>
<stop offset="0.175" stop-color="#fcf4b6"/>
<stop offset="0.200" stop-color="#fcf4b6"/>
<stop offset="0.225" stop-color="#fcf4b6"/>
<stop offset="0.250" stop-color="#fcf4b6"/>
<stop offset="0.275" stop-color="#fcf4b6"/>
<stop offset="0.300" stop-color="#fcf4b6"/>
<stop offset="0.325" stop-color="#fcf4b6"/>
<stop offset="0.350" stop-color="#fcf4b6"/>
<stop offset="0.375" stop-color="#fcf4b6"/>
<stop offset="0.400" stop-color="#fcf4b6"/>
<stop offset="0.413" stop-color="#fcf6b8"/>
<stop offset="0.463" stop-color="#fcf6b8"/>
<stop offset="0.513" stop-color="#fcf6b8"/>
<stop offset="0.563" stop-color="#fcf6b8"/>
<stop offset="0.613" stop-color="#fcf6b8"/>
<stop offset="0.663" stop-color="#fcf7b9"/>
<stop offset="0.713" stop-color="#fcf7b9"/>
<stop offset="0.763" stop-color="#fcf7b9"/>
<stop offset="0.813" stop-color="#fcf7b9"/>
<stop offset="0.863" stop-color="#fcf7b9"/>
<stop offset="0.913" stop-color="#fcf9bb"/>
<stop offset="0.963" stop-color="#fcf9bb"/>
<stop offset="1.000" stop-color="#fcf9bb"/>
</linearGradient>
<linearGradient id="h71" x1="288.1" x2="607.8" y1="0" y2="0" gradientUnits="userSpaceOnUse">
<stop offset="0.000" stop-color="#fcf2b4"/>
<stop offset="0.025" stop-color="#fcf2b4"/>
<stop offset="0.050" stop-color="#fcf2b4"/>
<stop offset="0.075" stop-color="#fcf2b4"/>
<stop offset="0.100" stop-color="#fcf2b4"/>
<stop offset="0.125" stop-color="#fcf4b6"/>
<stop offset="0.150" stop-color="#fcf4b6"/>
<stop offset="0.175" stop-color="#fcf4b6"/>
<stop offset="0.200" stop-color="#fcf4b6"/>
<stop offset="0.225" stop-color="#fcf4b6"/>
<stop offset="0.250" stop-color="#fcf4b6"/>
<stop offset="0.275" stop-color="#fcf4b6"/>
<stop offset="0.300" stop-color="#fcf4b6"/>
<stop offset="0.325" stop-color="#fcf4b6"/>
<stop offset="0.350" stop-color="#fcf4b6"/>
<stop offset="0.375" stop-color="#fcf4b6"/>
<stop offset="0.400" stop-color="#fcf6b8"/>
<stop offset="0.413" stop-color="#fcf6b8"/>
<stop offset="0.463" stop-color="#fcf6b8"/>
<stop offset="0.513" stop-color="#fcf6b8"/>
<stop offset="0.563" stop-color="#fcf6b8"/>
<stop offset="0.613" stop-color="#fcf6b8"/>
<stop offset="0.663" stop-color="#fcf7b9"/>
<stop offset="0.713" stop-color="#fcf7b9"/>
<stop offset="0.763" stop-color="#fcf7b9"/>
<stop offset="0.813" stop-color="#fcf7b9"/>
<stop offset="0.863" stop-color="#fcf7b9"/>
<stop offset="0.913" stop-color="#fcf9bb"/>
<stop offset="0.963" stop-color="#fcf9bb"/>
<stop offset="1.000" stop-color="#fcf9bb"/>
</linearGradient>
<linearGradient id="h72" x1="288.1" x2="607.8" y1="0" y2="0" gradientUnits="userSpaceOnUse">
<stop offset="0.000" stop-color="#fcf2b4"/>
<stop offset="0.025" stop-color="#fcf2b4"/>
<stop offset="0.050" stop-color="#fcf2b4"/>
<stop offset="0.075" stop-color="#fcf2b4"/>
<stop offset="0.100" stop-color="#fcf2b4"/>
<stop offset="0.125" stop-color="#fcf4b6"/>
<stop offset="0.150" stop-color="#fcf4b6"/>
<stop offset="0.175" stop-color="#fcf4b6"/>
<stop offset="0.200" stop-color="#fcf4b6"/>
<stop offset="0.225" stop-color="#fcf4b6"/>
<stop offset="0.250" stop-color="#fcf4b6"/>
<stop offset="0.275" stop-color="#fcf4b6"/>
<stop offset="0.300" stop-color="#fcf4b6"/>
<stop offset="0.325" stop-color="#fcf4b6"/>
<stop offset="0.350" stop-color="#fcf4b6"/>
<stop offset="0.375" stop-color="#fcf4b6"/>
<stop offset="0.400" stop-color="#fcf6b8"/>
<stop offset="0.413" stop-color="#fcf6b8"/>
<stop offset="0.463" stop-color="#fcf6b8"/>
<stop offset="0.513" stop-color="#fcf6b8"/>
<stop offset="0.563" stop-color="#fcf6b8"/>
<stop offset="0.613" stop-color="#fcf6b8"/>
<stop offset="0.663" stop-color="#fcf7b9"/>
<stop offset="0.713" stop-color="#fcf7b9"/>
<stop offset="0.763" stop-color="#fcf7b9"/>
<stop offset="0.813" stop-color="#fcf7b9"/>
<stop offset="0.863" stop-color="#fcf7b9"/>
<stop offset="0.913" stop-color="#fcf9bb"/>
<stop offset="0.963" stop-color="#fcf9bb"/>
<stop offset="1.000" stop-color="#fcf9bb"/>
</linearGradient>
</defs>
<g shape-rendering="crispEdges">
<rect x="288.1" y="433" width="319.7" height="4" fill="url(#h0)"/>
<rect x="288.1" y="437" width="319.7" height="4" fill="url(#h1)"/>
<rect x="288.1" y="441" width="319.7" height="4" fill="url(#h2)"/>
<rect x="288.1" y="445" width="319.7" height="4" fill="url(#h3)"/>
<rect x="288.1" y="449" width="319.7" height="4" fill="url(#h4)"/>
<rect x="288.1" y="453" width="319.7" height="4" fill="url(#h5)"/>
<rect x="288.1" y="457" width="319.7" height="4" fill="url(#h6)"/>
<rect x="288.1" y="461" width="319.7" height="4" fill="url(#h7)"/>
<rect x="288.1" y="465" width="319.7" height="4" fill="url(#h8)"/>
<rect x="288.1" y="469" width="319.7" height="4" fill="url(#h9)"/>
<rect x="288.1" y="473" width="319.7" height="4" fill="url(#h10)"/>
<rect x="288.1" y="477" width="319.7" height="4" fill="url(#h11)"/>
<rect x="288.1" y="481" width="319.7" height="4" fill="url(#h12)"/>
<rect x="288.1" y="485" width="319.7" height="4" fill="url(#h13)"/>
<rect x="288.1" y="489" width="319.7" height="4" fill="url(#h14)"/>
<rect x="288.1" y="493" width="319.7" height="2" fill="url(#h15)"/>
<rect x="288.1" y="495" width="319.7" height="2" fill="url(#h16)"/>
<rect x="288.1" y="497" width="319.7" height="2" fill="url(#h17)"/>
<rect x="288.1" y="499" width="319.7" height="2" fill="url(#h18)"/>
<rect x="288.1" y="501" width="319.7" height="2" fill="url(#h19)"/>
<rect x="288.1" y="503" width="319.7" height="2" fill="url(#h20)"/>
<rect x="288.1" y="505" width="319.7" height="2" fill="url(#h21)"/>
<rect x="288.1" y="507" width="319.7" height="1" fill="url(#h22)"/>
<rect x="288.1" y="508" width="319.7" height="1" fill="url(#h23)"/>
<rect x="288.1" y="509" width="319.7" height="1" fill="url(#h24)"/>
<rect x="288.1" y="510" width="319.7" height="1" fill="url(#h25)"/>
<rect x="288.1" y="511" width="319.7" height="1" fill="url(#h26)"/>
<rect x="288.1" y="512" width="319.7" height="1" fill="url(#h27)"/>
<rect x="288.1" y="513" width="319.7" height="1" fill="url(#h28)"/>
<rect x="288.1" y="514" width="319.7" height="1" fill="url(#h29)"/>
<rect x="288.1" y="515" width="319.7" height="1" fill="url(#h30)"/>
<rect x="288.1" y="516" width="319.7" height="1" fill="url(#h31)"/>
<rect x="288.1" y="517" width="319.7" height="1" fill="url(#h32)"/>
<rect x="288.1" y="518" width="319.7" height="1" fill="url(#h33)"/>
<rect x="288.1" y="519" width="319.7" height="1" fill="url(#h34)"/>
<rect x="288.1" y="520" width="319.7" height="1" fill="url(#h35)"/>
<rect x="288.1" y="521" width="319.7" height="1" fill="url(#h36)"/>
<rect x="288.1" y="522" width="319.7" height="1" fill="url(#h37)"/>
<rect x="288.1" y="523" width="319.7" height="1" fill="url(#h38)"/>
<rect x="288.1" y="524" width="319.7" height="1" fill="url(#h39)"/>
<rect x="288.1" y="525" width="319.7" height="1" fill="url(#h40)"/>
<rect x="288.1" y="526" width="319.7" height="1" fill="url(#h41)"/>
<rect x="288.1" y="527" width="319.7" height="1" fill="url(#h42)"/>
<rect x="288.1" y="528" width="319.7" height="1" fill="url(#h43)"/>
<rect x="288.1" y="529" width="319.7" height="1" fill="url(#h44)"/>
<rect x="288.1" y="530" width="319.7" height="1" fill="url(#h45)"/>
<rect x="288.1" y="531" width="319.7" height="1" fill="url(#h46)"/>
<rect x="288.1" y="532" width="319.7" height="1" fill="url(#h47)"/>
<rect x="288.1" y="533" width="319.7" height="1" fill="url(#h48)"/>
<rect x="288.1" y="534" width="319.7" height="1" fill="url(#h49)"/>
<rect x="288.1" y="535" width="319.7" height="2" fill="url(#h50)"/>
<rect x="288.1" y="537" width="319.7" height="2" fill="url(#h51)"/>
<rect x="288.1" y="539" width="319.7" height="2" fill="url(#h52)"/>
<rect x="288.1" y="541" width="319.7" height="2" fill="url(#h53)"/>
<rect x="288.1" y="543" width="319.7" height="2" fill="url(#h54)"/>
<rect x="288.1" y="545" width="319.7" height="2" fill="url(#h55)"/>
<rect x="288.1" y="547" width="319.7" height="2" fill="url(#h56)"/>
<rect x="288.1" y="549" width="319.7" height="2" fill="url(#h57)"/>
<rect x="288.1" y="551" width="319.7" height="4" fill="url(#h58)"/>
<rect x="288.1" y="555" width="319.7" height="4" fill="url(#h59)"/>
<rect x="288.1" y="559" width="319.7" height="4" fill="url(#h60)"/>
<rect x="288.1" y="563" width="319.7" height="4" fill="url(#h61)"/>
<rect x="288.1" y="567" width="319.7" height="4" fill="url(#h62)"/>
<rect x="288.1" y="571" width="319.7" height="4" fill="url(#h63)"/>
<rect x="288.1" y="575" width="319.7" height="4" fill="url(#h64)"/>
<rect x="288.1" y="579" width="319.7" height="4" fill="url(#h65)"/>
<rect x="288.1" y="583" width="319.7" height="4" fill="url(#h66)"/>
<rect x="288.1" y="587" width="319.7" height="4" fill="url(#h67)"/>
<rect x="288.1" y="591" width="319.7" height="4" fill="url(#h68)"/>
<rect x="288.1" y="595" width="319.7" height="4" fill="url(#h69)"/>
<rect x="288.1" y="599" width="319.7" height="4" fill="url(#h70)"/>
<rect x="288.1" y="603" width="319.7" height="4" fill="url(#h71)"/>
<rect x="288.1" y="607" width="319.7" height="3" fill="url(#h72)"/>
</g>
<defs><pattern id="np" x="288" y="433" width="48" height="48" patternUnits="userSpaceOnUse">
<path d="M0 0h1v1h-1zM7 0h1v1h-1zM13 0h1v1h-1zM19 0h1v1h-1zM25 0h1v1h-1zM7 1h1v1h-1zM8 1h1v1h-1zM14 1h1v1h-1zM23 1h1v1h-1zM28 1h1v1h-1zM44 1h1v1h-1zM2 2h1v1h-1zM4 2h1v1h-1zM12 2h1v1h-1zM15 2h1v1h-1zM20 2h1v1h-1zM23 2h1v1h-1zM29 2h1v1h-1zM46 2h1v1h-1zM1 3h1v1h-1zM2 3h1v1h-1zM4 3h1v1h-1zM5 3h1v1h-1zM6 3h1v1h-1zM10 3h1v1h-1zM16 3h1v1h-1zM24 3h1v1h-1zM27 3h1v1h-1zM29 3h1v1h-1zM31 3h1v1h-1zM46 3h1v1h-1zM9 4h1v1h-1zM17 4h1v1h-1zM22 4h1v1h-1zM31 4h1v1h-1zM35 4h1v1h-1zM41 4h1v1h-1zM4 5h1v1h-1zM11 5h1v1h-1zM14 5h1v1h-1zM21 5h1v1h-1zM22 5h1v1h-1zM31 5h1v1h-1zM40 5h1v1h-1zM43 5h1v1h-1zM0 6h1v1h-1zM1 6h1v1h-1zM2 6h1v1h-1zM4 6h1v1h-1zM5 6h1v1h-1zM7 6h1v1h-1zM9 6h1v1h-1zM14 6h1v1h-1zM16 6h1v1h-1zM27 6h1v1h-1zM38 6h1v1h-1zM44 6h1v1h-1zM46 6h1v1h-1zM0 7h1v1h-1zM8 7h1v1h-1zM11 7h1v1h-1zM15 7h1v1h-1zM19 7h1v1h-1zM31 7h1v1h-1zM37 7h1v1h-1zM21 8h1v1h-1zM35 8h1v1h-1zM42 8h1v1h-1zM5 9h1v1h-1zM14 9h1v1h-1zM33 9h1v1h-1zM36 9h1v1h-1zM38 9h1v1h-1zM43 9h1v1h-1zM45 9h1v1h-1zM46 9h1v1h-1zM47 9h1v1h-1zM13 10h1v1h-1zM16 10h1v1h-1zM24 10h1v1h-1zM26 10h1v1h-1zM30 10h1v1h-1zM39 10h1v1h-1zM42 10h1v1h-1zM7 11h1v1h-1zM15 11h1v1h-1zM19 11h1v1h-1zM21 11h1v1h-1zM22 11h1v1h-1zM23 11h1v1h-1zM28 11h1v1h-1zM30 11h1v1h-1zM31 11h1v1h-1zM36 11h1v1h-1zM43 11h1v1h-1zM0 12h1v1h-1zM4 12h1v1h-1zM20 12h1v1h-1zM21 12h1v1h-1zM22 12h1v1h-1zM30 12h1v1h-1zM36 12h1v1h-1zM40 12h1v1h-1zM42 12h1v1h-1zM47 12h1v1h-1zM3 13h1v1h-1zM6 13h1v1h-1zM12 13h1v1h-1zM15 13h1v1h-1zM17 13h1v1h-1zM18 13h1v1h-1zM28 13h1v1h-1zM33 13h1v1h-1zM40 13h1v1h-1zM41 13h1v1h-1zM47 13h1v1h-1zM9 14h1v1h-1zM18 14h1v1h-1zM28 14h1v1h-1zM30 14h1v1h-1zM35 14h1v1h-1zM37 14h1v1h-1zM40 14h1v1h-1zM45 14h1v1h-1zM2 15h1v1h-1zM9 15h1v1h-1zM30 15h1v1h-1zM32 15h1v1h-1zM36 15h1v1h-1zM37 15h1v1h-1zM6 16h1v1h-1zM22 16h1v1h-1zM25 16h1v1h-1zM33 16h1v1h-1zM37 16h1v1h-1zM41 16h1v1h-1zM42 16h1v1h-1zM47 16h1v1h-1zM16 17h1v1h-1zM27 17h1v1h-1zM31 17h1v1h-1zM32 17h1v1h-1zM1 18h1v1h-1zM6 18h1v1h-1zM17 18h1v1h-1zM23 18h1v1h-1zM26 18h1v1h-1zM30 18h1v1h-1zM37 18h1v1h-1zM23 19h1v1h-1zM44 19h1v1h-1zM4 20h1v1h-1zM15 20h1v1h-1zM16 20h1v1h-1zM24 20h1v1h-1zM27 20h1v1h-1zM33 20h1v1h-1zM35 20h1v1h-1zM39 20h1v1h-1zM40 20h1v1h-1zM46 20h1v1h-1zM6 21h1v1h-1zM9 21h1v1h-1zM10 21h1v1h-1zM16 21h1v1h-1zM22 21h1v1h-1zM25 21h1v1h-1zM26 21h1v1h-1zM29 21h1v1h-1zM30 21h1v1h-1zM36 21h1v1h-1zM41 21h1v1h-1zM1 22h1v1h-1zM2 22h1v1h-1zM5 22h1v1h-1zM14 22h1v1h-1zM23 22h1v1h-1zM45 22h1v1h-1zM46 22h1v1h-1zM1 23h1v1h-1zM3 23h1v1h-1zM6 23h1v1h-1zM7 23h1v1h-1zM9 23h1v1h-1zM12 23h1v1h-1zM16 23h1v1h-1zM24 23h1v1h-1zM28 23h1v1h-1zM32 23h1v1h-1zM40 23h1v1h-1zM43 23h1v1h-1zM9 24h1v1h-1zM12 24h1v1h-1zM14 24h1v1h-1zM15 24h1v1h-1zM23 24h1v1h-1zM28 24h1v1h-1zM36 24h1v1h-1zM40 24h1v1h-1zM43 24h1v1h-1zM12 25h1v1h-1zM28 25h1v1h-1zM32 25h1v1h-1zM37 25h1v1h-1zM39 25h1v1h-1zM41 25h1v1h-1zM46 25h1v1h-1zM2 26h1v1h-1zM8 26h1v1h-1zM13 26h1v1h-1zM18 26h1v1h-1zM19 26h1v1h-1zM28 26h1v1h-1zM29 26h1v1h-1zM31 26h1v1h-1zM37 26h1v1h-1zM39 26h1v1h-1zM42 26h1v1h-1zM45 26h1v1h-1zM17 27h1v1h-1zM22 27h1v1h-1zM30 27h1v1h-1zM31 27h1v1h-1zM35 27h1v1h-1zM37 27h1v1h-1zM3 28h1v1h-1zM4 28h1v1h-1zM5 28h1v1h-1zM10 28h1v1h-1zM20 28h1v1h-1zM29 28h1v1h-1zM34 28h1v1h-1zM43 28h1v1h-1zM7 29h1v1h-1zM8 29h1v1h-1zM9 29h1v1h-1zM12 29h1v1h-1zM16 29h1v1h-1zM18 29h1v1h-1zM24 29h1v1h-1zM32 29h1v1h-1zM38 29h1v1h-1zM42 29h1v1h-1zM45 29h1v1h-1zM47 29h1v1h-1zM7 30h1v1h-1zM10 30h1v1h-1zM21 30h1v1h-1zM23 30h1v1h-1zM30 30h1v1h-1zM33 30h1v1h-1zM39 30h1v1h-1zM43 30h1v1h-1zM0 31h1v1h-1zM1 31h1v1h-1zM6 31h1v1h-1zM10 31h1v1h-1zM12 31h1v1h-1zM40 31h1v1h-1zM43 31h1v1h-1zM44 31h1v1h-1zM47 31h1v1h-1zM3 32h1v1h-1zM5 32h1v1h-1zM8 32h1v1h-1zM12 32h1v1h-1zM13 32h1v1h-1zM15 32h1v1h-1zM23 32h1v1h-1zM44 32h1v1h-1zM3 33h1v1h-1zM6 33h1v1h-1zM9 33h1v1h-1zM21 33h1v1h-1zM22 33h1v1h-1zM24 33h1v1h-1zM31 33h1v1h-1zM43 33h1v1h-1zM47 33h1v1h-1zM2 34h1v1h-1zM15 34h1v1h-1zM35 34h1v1h-1zM42 34h1v1h-1zM1 35h1v1h-1zM6 35h1v1h-1zM7 35h1v1h-1zM9 35h1v1h-1zM27 35h1v1h-1zM38 35h1v1h-1zM45 35h1v1h-1zM10 36h1v1h-1zM11 36h1v1h-1zM19 36h1v1h-1zM21 36h1v1h-1zM22 36h1v1h-1zM24 36h1v1h-1zM26 36h1v1h-1zM27 36h1v1h-1zM33 36h1v1h-1zM34 36h1v1h-1zM1 37h1v1h-1zM4 37h1v1h-1zM22 37h1v1h-1zM25 37h1v1h-1zM28 37h1v1h-1zM21 38h1v1h-1zM24 38h1v1h-1zM32 38h1v1h-1zM39 38h1v1h-1zM44 38h1v1h-1zM45 38h1v1h-1zM26 39h1v1h-1zM34 39h1v1h-1zM45 39h1v1h-1zM0 40h1v1h-1zM6 40h1v1h-1zM9 40h1v1h-1zM12 40h1v1h-1zM13 40h1v1h-1zM18 40h1v1h-1zM21 40h1v1h-1zM23 40h1v1h-1zM25 40h1v1h-1zM31 40h1v1h-1zM43 40h1v1h-1zM3 41h1v1h-1zM4 41h1v1h-1zM5 41h1v1h-1zM7 41h1v1h-1zM9 41h1v1h-1zM12 41h1v1h-1zM23 41h1v1h-1zM24 41h1v1h-1zM28 41h1v1h-1zM30 41h1v1h-1zM39 41h1v1h-1zM44 41h1v1h-1zM4 42h1v1h-1zM9 42h1v1h-1zM10 42h1v1h-1zM11 42h1v1h-1zM16 42h1v1h-1zM17 42h1v1h-1zM35 42h1v1h-1zM41 42h1v1h-1zM42 42h1v1h-1zM46 42h1v1h-1zM47 42h1v1h-1zM0 43h1v1h-1zM9 43h1v1h-1zM11 43h1v1h-1zM20 43h1v1h-1zM29 43h1v1h-1zM46 43h1v1h-1zM1 44h1v1h-1zM8 44h1v1h-1zM22 44h1v1h-1zM29 44h1v1h-1zM33 44h1v1h-1zM35 44h1v1h-1zM41 44h1v1h-1zM42 44h1v1h-1zM43 44h1v1h-1zM7 45h1v1h-1zM8 45h1v1h-1zM9 45h1v1h-1zM11 45h1v1h-1zM20 45h1v1h-1zM24 45h1v1h-1zM35 45h1v1h-1zM40 45h1v1h-1zM42 45h1v1h-1zM7 46h1v1h-1zM9 46h1v1h-1zM11 46h1v1h-1zM15 46h1v1h-1zM17 46h1v1h-1zM20 46h1v1h-1zM24 46h1v1h-1zM28 46h1v1h-1zM29 46h1v1h-1zM30 46h1v1h-1zM32 46h1v1h-1zM37 46h1v1h-1zM41 46h1v1h-1zM42 46h1v1h-1zM43 46h1v1h-1zM44 46h1v1h-1zM6 47h1v1h-1zM7 47h1v1h-1zM10 47h1v1h-1zM13 47h1v1h-1zM29 47h1v1h-1zM39 47h1v1h-1zM46 47h1v1h-1z" fill="#f8c49a"/>
<path d="M8 0h1v1h-1zM16 0h1v1h-1zM22 0h1v1h-1zM30 0h1v1h-1zM0 1h1v1h-1zM17 1h1v1h-1zM32 1h1v1h-1zM21 2h1v1h-1zM24 2h1v1h-1zM26 2h1v1h-1zM34 2h1v1h-1zM37 2h1v1h-1zM41 2h1v1h-1zM45 2h1v1h-1zM15 3h1v1h-1zM34 3h1v1h-1zM39 3h1v1h-1zM40 3h1v1h-1zM43 3h1v1h-1zM0 4h1v1h-1zM27 4h1v1h-1zM29 4h1v1h-1zM39 4h1v1h-1zM47 4h1v1h-1zM32 5h1v1h-1zM35 5h1v1h-1zM38 5h1v1h-1zM3 6h1v1h-1zM10 6h1v1h-1zM32 6h1v1h-1zM36 6h1v1h-1zM39 6h1v1h-1zM2 7h1v1h-1zM21 7h1v1h-1zM24 7h1v1h-1zM29 7h1v1h-1zM30 7h1v1h-1zM42 7h1v1h-1zM13 8h1v1h-1zM24 8h1v1h-1zM31 8h1v1h-1zM6 9h1v1h-1zM8 9h1v1h-1zM10 9h1v1h-1zM15 9h1v1h-1zM19 9h1v1h-1zM21 9h1v1h-1zM39 9h1v1h-1zM44 9h1v1h-1zM2 10h1v1h-1zM3 10h1v1h-1zM3 11h1v1h-1zM4 11h1v1h-1zM6 11h1v1h-1zM16 11h1v1h-1zM34 11h1v1h-1zM39 11h1v1h-1zM41 11h1v1h-1zM10 12h1v1h-1zM16 12h1v1h-1zM25 12h1v1h-1zM29 12h1v1h-1zM1 13h1v1h-1zM13 13h1v1h-1zM21 13h1v1h-1zM25 13h1v1h-1zM31 13h1v1h-1zM36 13h1v1h-1zM39 13h1v1h-1zM43 13h1v1h-1zM14 14h1v1h-1zM15 14h1v1h-1zM0 15h1v1h-1zM5 15h1v1h-1zM14 15h1v1h-1zM26 15h1v1h-1zM27 15h1v1h-1zM0 16h1v1h-1zM10 16h1v1h-1zM21 16h1v1h-1zM32 16h1v1h-1zM6 17h1v1h-1zM8 17h1v1h-1zM15 17h1v1h-1zM19 17h1v1h-1zM30 17h1v1h-1zM33 17h1v1h-1zM34 17h1v1h-1zM42 17h1v1h-1zM46 17h1v1h-1zM10 18h1v1h-1zM22 18h1v1h-1zM24 18h1v1h-1zM28 18h1v1h-1zM44 18h1v1h-1zM2 19h1v1h-1zM6 19h1v1h-1zM16 19h1v1h-1zM20 19h1v1h-1zM22 19h1v1h-1zM26 19h1v1h-1zM27 19h1v1h-1zM30 19h1v1h-1zM32 19h1v1h-1zM38 19h1v1h-1zM47 19h1v1h-1zM9 20h1v1h-1zM13 20h1v1h-1zM14 20h1v1h-1zM1 21h1v1h-1zM3 21h1v1h-1zM11 21h1v1h-1zM19 21h1v1h-1zM27 21h1v1h-1zM40 21h1v1h-1zM10 22h1v1h-1zM12 22h1v1h-1zM35 22h1v1h-1zM2 23h1v1h-1zM4 23h1v1h-1zM5 23h1v1h-1zM23 23h1v1h-1zM31 23h1v1h-1zM41 23h1v1h-1zM1 24h1v1h-1zM11 24h1v1h-1zM20 24h1v1h-1zM21 24h1v1h-1zM34 24h1v1h-1zM35 24h1v1h-1zM5 25h1v1h-1zM16 25h1v1h-1zM24 25h1v1h-1zM38 25h1v1h-1zM40 25h1v1h-1zM47 25h1v1h-1zM20 26h1v1h-1zM22 26h1v1h-1zM23 26h1v1h-1zM24 26h1v1h-1zM34 26h1v1h-1zM35 26h1v1h-1zM40 26h1v1h-1zM46 26h1v1h-1zM1 27h1v1h-1zM12 27h1v1h-1zM26 27h1v1h-1zM28 27h1v1h-1zM32 27h1v1h-1zM40 27h1v1h-1zM43 27h1v1h-1zM45 27h1v1h-1zM47 27h1v1h-1zM1 28h1v1h-1zM7 28h1v1h-1zM13 28h1v1h-1zM19 28h1v1h-1zM44 28h1v1h-1zM6 29h1v1h-1zM19 29h1v1h-1zM5 30h1v1h-1zM9 30h1v1h-1zM18 30h1v1h-1zM14 31h1v1h-1zM18 31h1v1h-1zM32 31h1v1h-1zM34 31h1v1h-1zM39 31h1v1h-1zM41 31h1v1h-1zM20 32h1v1h-1zM26 32h1v1h-1zM40 32h1v1h-1zM45 32h1v1h-1zM0 33h1v1h-1zM7 33h1v1h-1zM23 33h1v1h-1zM13 34h1v1h-1zM18 34h1v1h-1zM28 34h1v1h-1zM30 34h1v1h-1zM5 35h1v1h-1zM19 35h1v1h-1zM42 35h1v1h-1zM0 36h1v1h-1zM1 36h1v1h-1zM2 36h1v1h-1zM7 36h1v1h-1zM8 36h1v1h-1zM15 36h1v1h-1zM25 36h1v1h-1zM29 36h1v1h-1zM32 36h1v1h-1zM43 36h1v1h-1zM47 36h1v1h-1zM7 37h1v1h-1zM44 37h1v1h-1zM11 38h1v1h-1zM20 38h1v1h-1zM33 38h1v1h-1zM40 38h1v1h-1zM46 38h1v1h-1zM13 39h1v1h-1zM16 39h1v1h-1zM22 39h1v1h-1zM23 39h1v1h-1zM37 39h1v1h-1zM38 39h1v1h-1zM40 39h1v1h-1zM44 39h1v1h-1zM46 39h1v1h-1zM33 40h1v1h-1zM34 40h1v1h-1zM36 40h1v1h-1zM46 40h1v1h-1zM47 40h1v1h-1zM3 42h1v1h-1zM26 42h1v1h-1zM5 43h1v1h-1zM14 43h1v1h-1zM28 43h1v1h-1zM30 43h1v1h-1zM31 43h1v1h-1zM36 43h1v1h-1zM43 43h1v1h-1zM5 44h1v1h-1zM25 44h1v1h-1zM3 45h1v1h-1zM18 45h1v1h-1zM22 45h1v1h-1zM26 45h1v1h-1zM32 45h1v1h-1zM34 45h1v1h-1zM10 46h1v1h-1zM14 46h1v1h-1zM26 46h1v1h-1zM35 46h1v1h-1zM4 47h1v1h-1zM5 47h1v1h-1zM15 47h1v1h-1zM21 47h1v1h-1zM24 47h1v1h-1zM26 47h1v1h-1zM31 47h1v1h-1zM45 47h1v1h-1zM47 47h1v1h-1z" fill="#f5ad8a"/>
<path d="M14 0h1v1h-1zM39 0h1v1h-1zM15 1h1v1h-1zM24 1h1v1h-1zM31 1h1v1h-1zM46 1h1v1h-1zM33 2h1v1h-1zM47 2h1v1h-1zM25 3h1v1h-1zM26 3h1v1h-1zM2 4h1v1h-1zM13 4h1v1h-1zM28 4h1v1h-1zM44 4h1v1h-1zM36 5h1v1h-1zM28 6h1v1h-1zM13 7h1v1h-1zM36 7h1v1h-1zM39 7h1v1h-1zM45 7h1v1h-1zM10 8h1v1h-1zM30 8h1v1h-1zM44 8h1v1h-1zM8 10h1v1h-1zM10 11h1v1h-1zM24 11h1v1h-1zM29 11h1v1h-1zM42 11h1v1h-1zM45 11h1v1h-1zM7 12h1v1h-1zM33 12h1v1h-1zM6 14h1v1h-1zM26 14h1v1h-1zM38 14h1v1h-1zM43 14h1v1h-1zM1 16h1v1h-1zM34 16h1v1h-1zM14 17h1v1h-1zM39 17h1v1h-1zM4 18h1v1h-1zM45 18h1v1h-1zM9 19h1v1h-1zM11 19h1v1h-1zM12 19h1v1h-1zM5 20h1v1h-1zM20 20h1v1h-1zM29 20h1v1h-1zM44 20h1v1h-1zM43 21h1v1h-1zM46 21h1v1h-1zM6 22h1v1h-1zM27 23h1v1h-1zM29 23h1v1h-1zM46 23h1v1h-1zM38 24h1v1h-1zM7 25h1v1h-1zM9 26h1v1h-1zM39 27h1v1h-1zM8 28h1v1h-1zM16 28h1v1h-1zM41 28h1v1h-1zM40 29h1v1h-1zM12 30h1v1h-1zM26 30h1v1h-1zM2 31h1v1h-1zM20 31h1v1h-1zM28 32h1v1h-1zM20 33h1v1h-1zM32 33h1v1h-1zM35 33h1v1h-1zM37 33h1v1h-1zM38 33h1v1h-1zM44 33h1v1h-1zM34 34h1v1h-1zM45 34h1v1h-1zM10 35h1v1h-1zM12 35h1v1h-1zM17 35h1v1h-1zM30 35h1v1h-1zM41 35h1v1h-1zM16 36h1v1h-1zM16 37h1v1h-1zM20 37h1v1h-1zM3 38h1v1h-1zM17 38h1v1h-1zM34 38h1v1h-1zM41 38h1v1h-1zM5 39h1v1h-1zM14 39h1v1h-1zM11 40h1v1h-1zM38 40h1v1h-1zM41 40h1v1h-1zM40 41h1v1h-1zM8 42h1v1h-1zM19 42h1v1h-1zM24 42h1v1h-1zM19 43h1v1h-1zM27 43h1v1h-1zM35 43h1v1h-1zM38 43h1v1h-1zM41 43h1v1h-1zM12 44h1v1h-1zM15 45h1v1h-1zM25 45h1v1h-1zM1 47h1v1h-1zM28 47h1v1h-1zM36 47h1v1h-1z" fill="#f0977c"/>
<path d="M2 0h1v1h-1zM9 0h1v1h-1zM12 0h1v1h-1zM17 0h1v1h-1zM29 0h1v1h-1zM31 0h1v1h-1zM32 0h1v1h-1zM33 0h1v1h-1zM34 0h1v1h-1zM37 0h1v1h-1zM40 0h1v1h-1zM41 0h1v1h-1zM43 0h1v1h-1zM44 0h1v1h-1zM46 0h1v1h-1zM2 1h1v1h-1zM3 1h1v1h-1zM6 1h1v1h-1zM21 1h1v1h-1zM25 1h1v1h-1zM27 1h1v1h-1zM29 1h1v1h-1zM30 1h1v1h-1zM33 1h1v1h-1zM34 1h1v1h-1zM38 1h1v1h-1zM47 1h1v1h-1zM5 2h1v1h-1zM7 2h1v1h-1zM13 2h1v1h-1zM14 2h1v1h-1zM38 2h1v1h-1zM3 3h1v1h-1zM9 3h1v1h-1zM11 3h1v1h-1zM19 3h1v1h-1zM32 3h1v1h-1zM33 3h1v1h-1zM37 3h1v1h-1zM41 3h1v1h-1zM42 3h1v1h-1zM47 3h1v1h-1zM1 4h1v1h-1zM5 4h1v1h-1zM20 4h1v1h-1zM33 4h1v1h-1zM34 4h1v1h-1zM1 5h1v1h-1zM6 5h1v1h-1zM9 5h1v1h-1zM13 5h1v1h-1zM19 5h1v1h-1zM24 5h1v1h-1zM25 5h1v1h-1zM27 5h1v1h-1zM30 5h1v1h-1zM34 5h1v1h-1zM45 5h1v1h-1zM13 6h1v1h-1zM17 6h1v1h-1zM22 6h1v1h-1zM29 6h1v1h-1zM34 6h1v1h-1zM37 6h1v1h-1zM41 6h1v1h-1zM3 7h1v1h-1zM5 7h1v1h-1zM23 7h1v1h-1zM33 7h1v1h-1zM34 7h1v1h-1zM35 7h1v1h-1zM38 7h1v1h-1zM40 7h1v1h-1zM46 7h1v1h-1zM0 8h1v1h-1zM3 8h1v1h-1zM8 8h1v1h-1zM14 8h1v1h-1zM17 8h1v1h-1zM18 8h1v1h-1zM19 8h1v1h-1zM25 8h1v1h-1zM32 8h1v1h-1zM45 8h1v1h-1zM46 8h1v1h-1zM1 9h1v1h-1zM2 9h1v1h-1zM7 9h1v1h-1zM16 9h1v1h-1zM18 9h1v1h-1zM20 9h1v1h-1zM24 9h1v1h-1zM28 9h1v1h-1zM29 9h1v1h-1zM35 9h1v1h-1zM37 9h1v1h-1zM6 10h1v1h-1zM7 10h1v1h-1zM17 10h1v1h-1zM19 10h1v1h-1zM21 10h1v1h-1zM22 10h1v1h-1zM27 10h1v1h-1zM28 10h1v1h-1zM29 10h1v1h-1zM31 10h1v1h-1zM32 10h1v1h-1zM38 10h1v1h-1zM41 10h1v1h-1zM1 11h1v1h-1zM8 11h1v1h-1zM25 11h1v1h-1zM27 11h1v1h-1zM32 11h1v1h-1zM35 11h1v1h-1zM38 11h1v1h-1zM40 11h1v1h-1zM47 11h1v1h-1zM8 12h1v1h-1zM14 12h1v1h-1zM17 12h1v1h-1zM23 12h1v1h-1zM26 12h1v1h-1zM32 12h1v1h-1zM4 13h1v1h-1zM11 13h1v1h-1zM14 13h1v1h-1zM22 13h1v1h-1zM26 13h1v1h-1zM34 13h1v1h-1zM0 14h1v1h-1zM1 14h1v1h-1zM2 14h1v1h-1zM3 14h1v1h-1zM4 14h1v1h-1zM7 14h1v1h-1zM8 14h1v1h-1zM11 14h1v1h-1zM20 14h1v1h-1zM27 14h1v1h-1zM34 14h1v1h-1zM36 14h1v1h-1zM46 14h1v1h-1zM6 15h1v1h-1zM10 15h1v1h-1zM12 15h1v1h-1zM15 15h1v1h-1zM23 15h1v1h-1zM33 15h1v1h-1zM41 15h1v1h-1zM45 15h1v1h-1zM47 15h1v1h-1zM4 16h1v1h-1zM8 16h1v1h-1zM9 16h1v1h-1zM15 16h1v1h-1zM19 16h1v1h-1zM24 16h1v1h-1zM31 16h1v1h-1zM45 16h1v1h-1zM46 16h1v1h-1zM4 17h1v1h-1zM9 17h1v1h-1zM11 17h1v1h-1zM20 17h1v1h-1zM22 17h1v1h-1zM25 17h1v1h-1zM36 17h1v1h-1zM38 17h1v1h-1zM43 17h1v1h-1zM47 17h1v1h-1zM5 18h1v1h-1zM11 18h1v1h-1zM14 18h1v1h-1zM15 18h1v1h-1zM19 18h1v1h-1zM20 18h1v1h-1zM27 18h1v1h-1zM33 18h1v1h-1zM34 18h1v1h-1zM41 18h1v1h-1zM3 19h1v1h-1zM5 19h1v1h-1zM8 19h1v1h-1zM15 19h1v1h-1zM17 19h1v1h-1zM18 19h1v1h-1zM19 19h1v1h-1zM34 19h1v1h-1zM35 19h1v1h-1zM39 19h1v1h-1zM45 19h1v1h-1zM3 20h1v1h-1zM7 20h1v1h-1zM18 20h1v1h-1zM21 20h1v1h-1zM30 20h1v1h-1zM42 20h1v1h-1zM45 20h1v1h-1zM15 21h1v1h-1zM23 21h1v1h-1zM34 21h1v1h-1zM37 21h1v1h-1zM38 21h1v1h-1zM44 21h1v1h-1zM47 21h1v1h-1zM4 22h1v1h-1zM18 22h1v1h-1zM24 22h1v1h-1zM26 22h1v1h-1zM29 22h1v1h-1zM31 22h1v1h-1zM38 22h1v1h-1zM39 22h1v1h-1zM43 22h1v1h-1zM47 22h1v1h-1zM8 23h1v1h-1zM11 23h1v1h-1zM15 23h1v1h-1zM22 23h1v1h-1zM33 23h1v1h-1zM34 23h1v1h-1zM37 23h1v1h-1zM42 23h1v1h-1zM7 24h1v1h-1zM8 24h1v1h-1zM10 24h1v1h-1zM18 24h1v1h-1zM29 24h1v1h-1zM2 25h1v1h-1zM4 25h1v1h-1zM8 25h1v1h-1zM11 25h1v1h-1zM29 25h1v1h-1zM33 25h1v1h-1zM44 25h1v1h-1zM6 26h1v1h-1zM14 26h1v1h-1zM44 26h1v1h-1zM2 27h1v1h-1zM6 27h1v1h-1zM7 27h1v1h-1zM10 27h1v1h-1zM33 27h1v1h-1zM38 27h1v1h-1zM41 27h1v1h-1zM42 27h1v1h-1zM12 28h1v1h-1zM15 28h1v1h-1zM22 28h1v1h-1zM24 28h1v1h-1zM26 28h1v1h-1zM33 28h1v1h-1zM36 28h1v1h-1zM37 28h1v1h-1zM38 28h1v1h-1zM39 28h1v1h-1zM40 28h1v1h-1zM42 28h1v1h-1zM45 28h1v1h-1zM47 28h1v1h-1zM14 29h1v1h-1zM20 29h1v1h-1zM21 29h1v1h-1zM26 29h1v1h-1zM37 29h1v1h-1zM43 29h1v1h-1zM46 29h1v1h-1zM20 30h1v1h-1zM24 30h1v1h-1zM36 30h1v1h-1zM44 30h1v1h-1zM46 30h1v1h-1zM47 30h1v1h-1zM3 31h1v1h-1zM7 31h1v1h-1zM16 31h1v1h-1zM19 31h1v1h-1zM22 31h1v1h-1zM31 31h1v1h-1zM46 31h1v1h-1zM2 32h1v1h-1zM14 32h1v1h-1zM18 32h1v1h-1zM27 32h1v1h-1zM34 32h1v1h-1zM36 32h1v1h-1zM5 33h1v1h-1zM8 33h1v1h-1zM11 33h1v1h-1zM12 33h1v1h-1zM15 33h1v1h-1zM16 33h1v1h-1zM18 33h1v1h-1zM36 33h1v1h-1zM10 34h1v1h-1zM11 34h1v1h-1zM14 34h1v1h-1zM16 34h1v1h-1zM19 34h1v1h-1zM21 34h1v1h-1zM24 34h1v1h-1zM27 34h1v1h-1zM31 34h1v1h-1zM38 34h1v1h-1zM40 34h1v1h-1zM0 35h1v1h-1zM3 35h1v1h-1zM13 35h1v1h-1zM14 35h1v1h-1zM16 35h1v1h-1zM22 35h1v1h-1zM25 35h1v1h-1zM26 35h1v1h-1zM31 35h1v1h-1zM39 35h1v1h-1zM43 35h1v1h-1zM3 36h1v1h-1zM5 36h1v1h-1zM13 36h1v1h-1zM20 36h1v1h-1zM28 36h1v1h-1zM30 36h1v1h-1zM31 36h1v1h-1zM36 36h1v1h-1zM37 36h1v1h-1zM45 36h1v1h-1zM2 37h1v1h-1zM3 37h1v1h-1zM11 37h1v1h-1zM13 37h1v1h-1zM23 37h1v1h-1zM35 37h1v1h-1zM36 37h1v1h-1zM37 37h1v1h-1zM38 37h1v1h-1zM42 37h1v1h-1zM43 37h1v1h-1zM47 37h1v1h-1zM2 38h1v1h-1zM4 38h1v1h-1zM5 38h1v1h-1zM36 38h1v1h-1zM0 39h1v1h-1zM9 39h1v1h-1zM10 39h1v1h-1zM12 39h1v1h-1zM15 39h1v1h-1zM21 39h1v1h-1zM27 39h1v1h-1zM32 39h1v1h-1zM41 39h1v1h-1zM42 39h1v1h-1zM3 40h1v1h-1zM4 40h1v1h-1zM7 40h1v1h-1zM8 40h1v1h-1zM14 40h1v1h-1zM17 40h1v1h-1zM22 40h1v1h-1zM27 40h1v1h-1zM29 40h1v1h-1zM30 40h1v1h-1zM35 40h1v1h-1zM37 40h1v1h-1zM6 41h1v1h-1zM10 41h1v1h-1zM15 41h1v1h-1zM17 41h1v1h-1zM21 41h1v1h-1zM22 41h1v1h-1zM27 41h1v1h-1zM37 41h1v1h-1zM47 41h1v1h-1zM0 42h1v1h-1zM1 42h1v1h-1zM21 42h1v1h-1zM22 42h1v1h-1zM23 42h1v1h-1zM34 42h1v1h-1zM45 42h1v1h-1zM2 43h1v1h-1zM3 43h1v1h-1zM8 43h1v1h-1zM10 43h1v1h-1zM12 43h1v1h-1zM13 43h1v1h-1zM25 43h1v1h-1zM40 43h1v1h-1zM45 43h1v1h-1zM2 44h1v1h-1zM3 44h1v1h-1zM10 44h1v1h-1zM11 44h1v1h-1zM13 44h1v1h-1zM14 44h1v1h-1zM19 44h1v1h-1zM31 44h1v1h-1zM38 44h1v1h-1zM40 44h1v1h-1zM44 44h1v1h-1zM46 44h1v1h-1zM5 45h1v1h-1zM12 45h1v1h-1zM17 45h1v1h-1zM28 45h1v1h-1zM29 45h1v1h-1zM30 45h1v1h-1zM33 45h1v1h-1zM45 45h1v1h-1zM47 45h1v1h-1zM1 46h1v1h-1zM5 46h1v1h-1zM18 46h1v1h-1zM19 46h1v1h-1zM22 46h1v1h-1zM27 46h1v1h-1zM31 46h1v1h-1zM33 46h1v1h-1zM47 46h1v1h-1zM3 47h1v1h-1zM12 47h1v1h-1zM17 47h1v1h-1zM18 47h1v1h-1zM23 47h1v1h-1zM37 47h1v1h-1z" fill="#fbdcaa"/>
</pattern>
<linearGradient id="nm" x1="288" x2="608" y1="0" y2="0" gradientUnits="userSpaceOnUse">
<stop offset="0.000" stop-color="rgb(140,140,140)"/>
<stop offset="0.037" stop-color="rgb(191,191,191)"/>
<stop offset="0.100" stop-color="rgb(230,230,230)"/>
<stop offset="0.178" stop-color="rgb(204,204,204)"/>
<stop offset="0.287" stop-color="rgb(128,128,128)"/>
<stop offset="0.412" stop-color="rgb(56,56,56)"/>
<stop offset="0.537" stop-color="rgb(18,18,18)"/>
<stop offset="0.662" stop-color="rgb(0,0,0)"/>
<stop offset="1.000" stop-color="rgb(0,0,0)"/>
</linearGradient>
<linearGradient id="nb" x1="0" x2="0" y1="505" y2="537" gradientUnits="userSpaceOnUse"><stop offset="0" stop-color="#000" stop-opacity="0"/><stop offset="0.4" stop-color="#000" stop-opacity="0.55"/><stop offset="0.6" stop-color="#000" stop-opacity="0.55"/><stop offset="1" stop-color="#000" stop-opacity="0"/></linearGradient>
<filter id="nblur" x="0" y="0" width="1" height="1"><feGaussianBlur stdDeviation="0.3"/></filter>
<mask id="nmask"><rect x="288" y="433" width="320" height="177" fill="url(#nm)"/><rect x="288" y="505" width="320" height="32" fill="url(#nb)"/></mask></defs>
<g mask="url(#nmask)"><rect x="288" y="433" width="320" height="177" fill="url(#np)" filter="url(#nblur)"/></g>
<g stroke="#000" fill="none">
<rect x="288.05" y="432.85" width="319.75" height="177.25" stroke-width="3.3"/>
<line x1="348.20" y1="432.85" x2="348.20" y2="446.55" stroke-width="2.9"/>
<line x1="348.20" y1="610.10" x2="348.20" y2="596.40" stroke-width="2.9"/>
<line x1="509.20" y1="432.85" x2="509.20" y2="446.55" stroke-width="2.9"/>
<line x1="509.20" y1="610.10" x2="509.20" y2="596.40" stroke-width="2.9"/>
<line x1="307.95" y1="432.85" x2="307.95" y2="440.85" stroke-width="2.4"/>
<line x1="307.95" y1="610.10" x2="307.95" y2="602.10" stroke-width="2.4"/>
<line x1="388.45" y1="432.85" x2="388.45" y2="440.85" stroke-width="2.4"/>
<line x1="388.45" y1="610.10" x2="388.45" y2="602.10" stroke-width="2.4"/>
<line x1="428.70" y1="432.85" x2="428.70" y2="440.85" stroke-width="2.4"/>
<line x1="428.70" y1="610.10" x2="428.70" y2="602.10" stroke-width="2.4"/>
<line x1="468.95" y1="432.85" x2="468.95" y2="440.85" stroke-width="2.4"/>
<line x1="468.95" y1="610.10" x2="468.95" y2="602.10" stroke-width="2.4"/>
<line x1="549.45" y1="432.85" x2="549.45" y2="440.85" stroke-width="2.4"/>
<line x1="549.45" y1="610.10" x2="549.45" y2="602.10" stroke-width="2.4"/>
<line x1="589.70" y1="432.85" x2="589.70" y2="440.85" stroke-width="2.4"/>
<line x1="589.70" y1="610.10" x2="589.70" y2="602.10" stroke-width="2.4"/>
<line x1="288.05" y1="452.40" x2="301.75" y2="452.40" stroke-width="2.9"/>
<line x1="607.80" y1="452.40" x2="594.10" y2="452.40" stroke-width="2.9"/>
<line x1="288.05" y1="551.20" x2="301.75" y2="551.20" stroke-width="2.9"/>
<line x1="607.80" y1="551.20" x2="594.10" y2="551.20" stroke-width="2.9"/>
<line x1="288.05" y1="472.16" x2="296.05" y2="472.16" stroke-width="2.4"/>
<line x1="607.80" y1="472.16" x2="599.80" y2="472.16" stroke-width="2.4"/>
<line x1="288.05" y1="491.92" x2="296.05" y2="491.92" stroke-width="2.4"/>
<line x1="607.80" y1="491.92" x2="599.80" y2="491.92" stroke-width="2.4"/>
<line x1="288.05" y1="511.68" x2="296.05" y2="511.68" stroke-width="2.4"/>
<line x1="607.80" y1="511.68" x2="599.80" y2="511.68" stroke-width="2.4"/>
<line x1="288.05" y1="531.44" x2="296.05" y2="531.44" stroke-width="2.4"/>
<line x1="607.80" y1="531.44" x2="599.80" y2="531.44" stroke-width="2.4"/>
<line x1="288.05" y1="570.96" x2="296.05" y2="570.96" stroke-width="2.4"/>
<line x1="607.80" y1="570.96" x2="599.80" y2="570.96" stroke-width="2.4"/>
<line x1="288.05" y1="590.72" x2="296.05" y2="590.72" stroke-width="2.4"/>
<line x1="607.80" y1="590.72" x2="599.80" y2="590.72" stroke-width="2.4"/>
</g>
<rect x="656.1" y="431.0" width="12.0" height="180.7" fill="#000"/>
<rect x="659.1" y="434.30" width="6.0" height="9.57" fill="#fceeb0"/>
<rect x="659.1" y="446.07" width="6.0" height="9.57" fill="#fecf92"/>
<rect x="659.1" y="457.85" width="6.0" height="9.57" fill="#feb078"/>
<rect x="659.1" y="469.62" width="6.0" height="9.57" fill="#fc9065"/>
<rect x="659.1" y="481.39" width="6.0" height="9.57" fill="#f7705c"/>
<rect x="659.1" y="493.17" width="6.0" height="9.57" fill="#e95462"/>
<rect x="659.1" y="504.94" width="6.0" height="9.57" fill="#d2426f"/>
<rect x="659.1" y="516.71" width="6.0" height="9.57" fill="#b73779"/>
<rect x="659.1" y="528.49" width="6.0" height="9.57" fill="#992d80"/>
<rect x="659.1" y="540.26" width="6.0" height="9.57" fill="#7e2482"/>
<rect x="659.1" y="552.03" width="6.0" height="9.57" fill="#641a80"/>
<rect x="659.1" y="563.81" width="6.0" height="9.57" fill="#491078"/>
<rect x="659.1" y="575.58" width="6.0" height="9.57" fill="#2c115f"/>
<rect x="659.1" y="587.35" width="6.0" height="9.57" fill="#140e36"/>
<rect x="659.1" y="599.13" width="6.0" height="9.57" fill="#030312"/>
<g stroke="#000" stroke-width="2.8">
<line x1="652.4" y1="433.00" x2="656.5" y2="433.00"/>
<line x1="652.4" y1="492.03" x2="656.5" y2="492.03"/>
<line x1="652.4" y1="551.07" x2="656.5" y2="551.07"/>
<line x1="652.4" y1="610.10" x2="656.5" y2="610.10"/>
</g>
<g stroke="#000" fill="none">
<rect x="130.45" y="1.70" width="845.75" height="366.70" stroke-width="3.0"/>
<rect x="130.45" y="411.10" width="845.75" height="366.60" stroke-width="3.0"/>
<line x1="452.30" y1="1.70" x2="452.30" y2="15.40" stroke-width="2.9"/>
<line x1="452.30" y1="368.40" x2="452.30" y2="354.70" stroke-width="2.9"/>
<line x1="836.30" y1="1.70" x2="836.30" y2="15.40" stroke-width="2.9"/>
<line x1="836.30" y1="368.40" x2="836.30" y2="354.70" stroke-width="2.9"/>
<line x1="183.90" y1="1.70" x2="183.90" y2="9.70" stroke-width="2.4"/>
<line x1="183.90" y1="368.40" x2="183.90" y2="360.40" stroke-width="2.4"/>
<line x1="251.51" y1="1.70" x2="251.51" y2="9.70" stroke-width="2.4"/>
<line x1="251.51" y1="368.40" x2="251.51" y2="360.40" stroke-width="2.4"/>
<line x1="299.49" y1="1.70" x2="299.49" y2="9.70" stroke-width="2.4"/>
<line x1="299.49" y1="368.40" x2="299.49" y2="360.40" stroke-width="2.4"/>
<line x1="336.70" y1="1.70" x2="336.70" y2="9.70" stroke-width="2.4"/>
<line x1="336.70" y1="368.40" x2="336.70" y2="360.40" stroke-width="2.4"/>
<line x1="367.11" y1="1.70" x2="367.11" y2="9.70" stroke-width="2.4"/>
<line x1="367.11" y1="368.40" x2="367.11" y2="360.40" stroke-width="2.4"/>
<line x1="392.82" y1="1.70" x2="392.82" y2="9.70" stroke-width="2.4"/>
<line x1="392.82" y1="368.40" x2="392.82" y2="360.40" stroke-width="2.4"/>
<line x1="415.09" y1="1.70" x2="415.09" y2="9.70" stroke-width="2.4"/>
<line x1="415.09" y1="368.40" x2="415.09" y2="360.40" stroke-width="2.4"/>
<line x1="434.73" y1="1.70" x2="434.73" y2="9.70" stroke-width="2.4"/>
<line x1="434.73" y1="368.40" x2="434.73" y2="360.40" stroke-width="2.4"/>
<line x1="567.90" y1="1.70" x2="567.90" y2="9.70" stroke-width="2.4"/>
<line x1="567.90" y1="368.40" x2="567.90" y2="360.40" stroke-width="2.4"/>
<line x1="635.51" y1="1.70" x2="635.51" y2="9.70" stroke-width="2.4"/>
<line x1="635.51" y1="368.40" x2="635.51" y2="360.40" stroke-width="2.4"/>
<line x1="683.49" y1="1.70" x2="683.49" y2="9.70" stroke-width="2.4"/>
<line x1="683.49" y1="368.40" x2="683.49" y2="360.40" stroke-width="2.4"/>
<line x1="720.70" y1="1.70" x2="720.70" y2="9.70" stroke-width="2.4"/>
<line x1="720.70" y1="368.40" x2="720.70" y2="360.40" stroke-width="2.4"/>
<line x1="751.11" y1="1.70" x2="751.11" y2="9.70" stroke-width="2.4"/>
<line x1="751.11" y1="368.40" x2="751.11" y2="360.40" stroke-width="2.4"/>
<line x1="776.82" y1="1.70" x2="776.82" y2="9.70" stroke-width="2.4"/>
<line x1="776.82" y1="368.40" x2="776.82" y2="360.40" stroke-width="2.4"/>
<line x1="799.09" y1="1.70" x2="799.09" y2="9.70" stroke-width="2.4"/>
<line x1="799.09" y1="368.40" x2="799.09" y2="360.40" stroke-width="2.4"/>
<line x1="818.73" y1="1.70" x2="818.73" y2="9.70" stroke-width="2.4"/>
<line x1="818.73" y1="368.40" x2="818.73" y2="360.40" stroke-width="2.4"/>
<line x1="951.90" y1="1.70" x2="951.90" y2="9.70" stroke-width="2.4"/>
<line x1="951.90" y1="368.40" x2="951.90" y2="360.40" stroke-width="2.4"/>
<line x1="452.30" y1="411.10" x2="452.30" y2="424.80" stroke-width="2.9"/>
<line x1="452.30" y1="777.70" x2="452.30" y2="764.00" stroke-width="2.9"/>
<line x1="836.30" y1="411.10" x2="836.30" y2="424.80" stroke-width="2.9"/>
<line x1="836.30" y1="777.70" x2="836.30" y2="764.00" stroke-width="2.9"/>
<line x1="183.90" y1="411.10" x2="183.90" y2="419.10" stroke-width="2.4"/>
<line x1="183.90" y1="777.70" x2="183.90" y2="769.70" stroke-width="2.4"/>
<line x1="251.51" y1="411.10" x2="251.51" y2="419.10" stroke-width="2.4"/>
<line x1="251.51" y1="777.70" x2="251.51" y2="769.70" stroke-width="2.4"/>
<line x1="299.49" y1="411.10" x2="299.49" y2="419.10" stroke-width="2.4"/>
<line x1="299.49" y1="777.70" x2="299.49" y2="769.70" stroke-width="2.4"/>
<line x1="336.70" y1="411.10" x2="336.70" y2="419.10" stroke-width="2.4"/>
<line x1="336.70" y1="777.70" x2="336.70" y2="769.70" stroke-width="2.4"/>
<line x1="367.11" y1="411.10" x2="367.11" y2="419.10" stroke-width="2.4"/>
<line x1="367.11" y1="777.70" x2="367.11" y2="769.70" stroke-width="2.4"/>
<line x1="392.82" y1="411.10" x2="392.82" y2="419.10" stroke-width="2.4"/>
<line x1="392.82" y1="777.70" x2="392.82" y2="769.70" stroke-width="2.4"/>
<line x1="415.09" y1="411.10" x2="415.09" y2="419.10" stroke-width="2.4"/>
<line x1="415.09" y1="777.70" x2="415.09" y2="769.70" stroke-width="2.4"/>
<line x1="434.73" y1="411.10" x2="434.73" y2="419.10" stroke-width="2.4"/>
<line x1="434.73" y1="777.70" x2="434.73" y2="769.70" stroke-width="2.4"/>
<line x1="567.90" y1="411.10" x2="567.90" y2="419.10" stroke-width="2.4"/>
<line x1="567.90" y1="777.70" x2="567.90" y2="769.70" stroke-width="2.4"/>
<line x1="635.51" y1="411.10" x2="635.51" y2="419.10" stroke-width="2.4"/>
<line x1="635.51" y1="777.70" x2="635.51" y2="769.70" stroke-width="2.4"/>
<line x1="683.49" y1="411.10" x2="683.49" y2="419.10" stroke-width="2.4"/>
<line x1="683.49" y1="777.70" x2="683.49" y2="769.70" stroke-width="2.4"/>
<line x1="720.70" y1="411.10" x2="720.70" y2="419.10" stroke-width="2.4"/>
<line x1="720.70" y1="777.70" x2="720.70" y2="769.70" stroke-width="2.4"/>
<line x1="751.11" y1="411.10" x2="751.11" y2="419.10" stroke-width="2.4"/>
<line x1="751.11" y1="777.70" x2="751.11" y2="769.70" stroke-width="2.4"/>
<line x1="776.82" y1="411.10" x2="776.82" y2="419.10" stroke-width="2.4"/>
<line x1="776.82" y1="777.70" x2="776.82" y2="769.70" stroke-width="2.4"/>
<line x1="799.09" y1="411.10" x2="799.09" y2="419.10" stroke-width="2.4"/>
<line x1="799.09" y1="777.70" x2="799.09" y2="769.70" stroke-width="2.4"/>
<line x1="818.73" y1="411.10" x2="818.73" y2="419.10" stroke-width="2.4"/>
<line x1="818.73" y1="777.70" x2="818.73" y2="769.70" stroke-width="2.4"/>
<line x1="951.90" y1="411.10" x2="951.90" y2="419.10" stroke-width="2.4"/>
<line x1="951.90" y1="777.70" x2="951.90" y2="769.70" stroke-width="2.4"/>
<line x1="130.45" y1="304.80" x2="144.15" y2="304.80" stroke-width="2.9"/>
<line x1="976.20" y1="304.80" x2="962.50" y2="304.80" stroke-width="2.9"/>
<line x1="130.45" y1="209.10" x2="144.15" y2="209.10" stroke-width="2.9"/>
<line x1="976.20" y1="209.10" x2="962.50" y2="209.10" stroke-width="2.9"/>
<line x1="130.45" y1="113.40" x2="144.15" y2="113.40" stroke-width="2.9"/>
<line x1="976.20" y1="113.40" x2="962.50" y2="113.40" stroke-width="2.9"/>
<line x1="130.45" y1="17.70" x2="144.15" y2="17.70" stroke-width="2.9"/>
<line x1="976.20" y1="17.70" x2="962.50" y2="17.70" stroke-width="2.9"/>
<line x1="130.45" y1="354.84" x2="138.45" y2="354.84" stroke-width="2.4"/>
<line x1="976.20" y1="354.84" x2="968.20" y2="354.84" stroke-width="2.4"/>
<line x1="130.45" y1="342.88" x2="138.45" y2="342.88" stroke-width="2.4"/>
<line x1="976.20" y1="342.88" x2="968.20" y2="342.88" stroke-width="2.4"/>
<line x1="130.45" y1="333.61" x2="138.45" y2="333.61" stroke-width="2.4"/>
<line x1="976.20" y1="333.61" x2="968.20" y2="333.61" stroke-width="2.4"/>
<line x1="130.45" y1="326.03" x2="138.45" y2="326.03" stroke-width="2.4"/>
<line x1="976.20" y1="326.03" x2="968.20" y2="326.03" stroke-width="2.4"/>
<line x1="130.45" y1="319.62" x2="138.45" y2="319.62" stroke-width="2.4"/>
<line x1="976.20" y1="319.62" x2="968.20" y2="319.62" stroke-width="2.4"/>
<line x1="130.45" y1="314.07" x2="138.45" y2="314.07" stroke-width="2.4"/>
<line x1="976.20" y1="314.07" x2="968.20" y2="314.07" stroke-width="2.4"/>
<line x1="130.45" y1="309.18" x2="138.45" y2="309.18" stroke-width="2.4"/>
<line x1="976.20" y1="309.18" x2="968.20" y2="309.18" stroke-width="2.4"/>
<line x1="130.45" y1="275.99" x2="138.45" y2="275.99" stroke-width="2.4"/>
<line x1="976.20" y1="275.99" x2="968.20" y2="275.99" stroke-width="2.4"/>
<line x1="130.45" y1="259.14" x2="138.45" y2="259.14" stroke-width="2.4"/>
<line x1="976.20" y1="259.14" x2="968.20" y2="259.14" stroke-width="2.4"/>
<line x1="130.45" y1="247.18" x2="138.45" y2="247.18" stroke-width="2.4"/>
<line x1="976.20" y1="247.18" x2="968.20" y2="247.18" stroke-width="2.4"/>
<line x1="130.45" y1="237.91" x2="138.45" y2="237.91" stroke-width="2.4"/>
<line x1="976.20" y1="237.91" x2="968.20" y2="237.91" stroke-width="2.4"/>
<line x1="130.45" y1="230.33" x2="138.45" y2="230.33" stroke-width="2.4"/>
<line x1="976.20" y1="230.33" x2="968.20" y2="230.33" stroke-width="2.4"/>
<line x1="130.45" y1="223.92" x2="138.45" y2="223.92" stroke-width="2.4"/>
<line x1="976.20" y1="223.92" x2="968.20" y2="223.92" stroke-width="2.4"/>
<line x1="130.45" y1="218.37" x2="138.45" y2="218.37" stroke-width="2.4"/>
<line x1="976.20" y1="218.37" x2="968.20" y2="218.37" stroke-width="2.4"/>
<line x1="130.45" y1="213.48" x2="138.45" y2="213.48" stroke-width="2.4"/>
<line x1="976.20" y1="213.48" x2="968.20" y2="213.48" stroke-width="2.4"/>
<line x1="130.45" y1="180.29" x2="138.45" y2="180.29" stroke-width="2.4"/>
<line x1="976.20" y1="180.29" x2="968.20" y2="180.29" stroke-width="2.4"/>
<line x1="130.45" y1="163.44" x2="138.45" y2="163.44" stroke-width="2.4"/>
<line x1="976.20" y1="163.44" x2="968.20" y2="163.44" stroke-width="2.4"/>
<line x1="130.45" y1="151.48" x2="138.45" y2="151.48" stroke-width="2.4"/>
<line x1="976.20" y1="151.48" x2="968.20" y2="151.48" stroke-width="2.4"/>
<line x1="130.45" y1="142.21" x2="138.45" y2="142.21" stroke-width="2.4"/>
<line x1="976.20" y1="142.21" x2="968.20" y2="142.21" stroke-width="2.4"/>
<line x1="130.45" y1="134.63" x2="138.45" y2="134.63" stroke-width="2.4"/>
<line x1="976.20" y1="134.63" x2="968.20" y2="134.63" stroke-width="2.4"/>
<line x1="130.45" y1="128.22" x2="138.45" y2="128.22" stroke-width="2.4"/>
<line x1="976.20" y1="128.22" x2="968.20" y2="128.22" stroke-width="2.4"/>
<line x1="130.45" y1="122.67" x2="138.45" y2="122.67" stroke-width="2.4"/>
<line x1="976.20" y1="122.67" x2="968.20" y2="122.67" stroke-width="2.4"/>
<line x1="130.45" y1="117.78" x2="138.45" y2="117.78" stroke-width="2.4"/>
<line x1="976.20" y1="117.78" x2="968.20" y2="117.78" stroke-width="2.4"/>
<line x1="130.45" y1="84.59" x2="138.45" y2="84.59" stroke-width="2.4"/>
<line x1="976.20" y1="84.59" x2="968.20" y2="84.59" stroke-width="2.4"/>
<line x1="130.45" y1="67.74" x2="138.45" y2="67.74" stroke-width="2.4"/>
<line x1="976.20" y1="67.74" x2="968.20" y2="67.74" stroke-width="2.4"/>
<line x1="130.45" y1="55.78" x2="138.45" y2="55.78" stroke-width="2.4"/>
<line x1="976.20" y1="55.78" x2="968.20" y2="55.78" stroke-width="2.4"/>
<line x1="130.45" y1="46.51" x2="138.45" y2="46.51" stroke-width="2.4"/>
<line x1="976.20" y1="46.51" x2="968.20" y2="46.51" stroke-width="2.4"/>
<line x1="130.45" y1="38.93" x2="138.45" y2="38.93" stroke-width="2.4"/>
<line x1="976.20" y1="38.93" x2="968.20" y2="38.93" stroke-width="2.4"/>
<line x1="130.45" y1="32.52" x2="138.45" y2="32.52" stroke-width="2.4"/>
<line x1="976.20" y1="32.52" x2="968.20" y2="32.52" stroke-width="2.4"/>
<line x1="130.45" y1="26.97" x2="138.45" y2="26.97" stroke-width="2.4"/>
<line x1="976.20" y1="26.97" x2="968.20" y2="26.97" stroke-width="2.4"/>
<line x1="130.45" y1="22.08" x2="138.45" y2="22.08" stroke-width="2.4"/>
<line x1="976.20" y1="22.08" x2="968.20" y2="22.08" stroke-width="2.4"/>
<line x1="130.45" y1="763.30" x2="144.15" y2="763.30" stroke-width="2.9"/>
<line x1="976.20" y1="763.30" x2="962.50" y2="763.30" stroke-width="2.9"/>
<line x1="130.45" y1="749.20" x2="138.45" y2="749.20" stroke-width="2.4"/>
<line x1="976.20" y1="749.20" x2="968.20" y2="749.20" stroke-width="2.4"/>
<line x1="130.45" y1="735.10" x2="138.45" y2="735.10" stroke-width="2.4"/>
<line x1="976.20" y1="735.10" x2="968.20" y2="735.10" stroke-width="2.4"/>
<line x1="130.45" y1="721.00" x2="138.45" y2="721.00" stroke-width="2.4"/>
<line x1="976.20" y1="721.00" x2="968.20" y2="721.00" stroke-width="2.4"/>
<line x1="130.45" y1="706.90" x2="138.45" y2="706.90" stroke-width="2.4"/>
<line x1="976.20" y1="706.90" x2="968.20" y2="706.90" stroke-width="2.4"/>
<line x1="130.45" y1="692.80" x2="144.15" y2="692.80" stroke-width="2.9"/>
<line x1="976.20" y1="692.80" x2="962.50" y2="692.80" stroke-width="2.9"/>
<line x1="130.45" y1="678.70" x2="138.45" y2="678.70" stroke-width="2.4"/>
<line x1="976.20" y1="678.70" x2="968.20" y2="678.70" stroke-width="2.4"/>
<line x1="130.45" y1="664.60" x2="138.45" y2="664.60" stroke-width="2.4"/>
<line x1="976.20" y1="664.60" x2="968.20" y2="664.60" stroke-width="2.4"/>
<line x1="130.45" y1="650.50" x2="138.45" y2="650.50" stroke-width="2.4"/>
<line x1="976.20" y1="650.50" x2="968.20" y2="650.50" stroke-width="2.4"/>
<line x1="130.45" y1="636.40" x2="138.45" y2="636.40" stroke-width="2.4"/>
<line x1="976.20" y1="636.40" x2="968.20" y2="636.40" stroke-width="2.4"/>
<line x1="130.45" y1="622.30" x2="144.15" y2="622.30" stroke-width="2.9"/>
<line x1="976.20" y1="622.30" x2="962.50" y2="622.30" stroke-width="2.9"/>
<line x1="130.45" y1="608.20" x2="138.45" y2="608.20" stroke-width="2.4"/>
<line x1="976.20" y1="608.20" x2="968.20" y2="608.20" stroke-width="2.4"/>
<line x1="130.45" y1="594.10" x2="138.45" y2="594.10" stroke-width="2.4"/>
<line x1="976.20" y1="594.10" x2="968.20" y2="594.10" stroke-width="2.4"/>
<line x1="130.45" y1="580.00" x2="138.45" y2="580.00" stroke-width="2.4"/>
<line x1="976.20" y1="580.00" x2="968.20" y2="580.00" stroke-width="2.4"/>
<line x1="130.45" y1="565.90" x2="138.45" y2="565.90" stroke-width="2.4"/>
<line x1="976.20" y1="565.90" x2="968.20" y2="565.90" stroke-width="2.4"/>
<line x1="130.45" y1="551.80" x2="144.15" y2="551.80" stroke-width="2.9"/>
<line x1="976.20" y1="551.80" x2="962.50" y2="551.80" stroke-width="2.9"/>
<line x1="130.45" y1="537.70" x2="138.45" y2="537.70" stroke-width="2.4"/>
<line x1="976.20" y1="537.70" x2="968.20" y2="537.70" stroke-width="2.4"/>
<line x1="130.45" y1="523.60" x2="138.45" y2="523.60" stroke-width="2.4"/>
<line x1="976.20" y1="523.60" x2="968.20" y2="523.60" stroke-width="2.4"/>
<line x1="130.45" y1="509.50" x2="138.45" y2="509.50" stroke-width="2.4"/>
<line x1="976.20" y1="509.50" x2="968.20" y2="509.50" stroke-width="2.4"/>
<line x1="130.45" y1="495.40" x2="138.45" y2="495.40" stroke-width="2.4"/>
<line x1="976.20" y1="495.40" x2="968.20" y2="495.40" stroke-width="2.4"/>
<line x1="130.45" y1="481.30" x2="144.15" y2="481.30" stroke-width="2.9"/>
<line x1="976.20" y1="481.30" x2="962.50" y2="481.30" stroke-width="2.9"/>
<line x1="130.45" y1="467.20" x2="138.45" y2="467.20" stroke-width="2.4"/>
<line x1="976.20" y1="467.20" x2="968.20" y2="467.20" stroke-width="2.4"/>
<line x1="130.45" y1="453.10" x2="138.45" y2="453.10" stroke-width="2.4"/>
<line x1="976.20" y1="453.10" x2="968.20" y2="453.10" stroke-width="2.4"/>
<line x1="130.45" y1="439.00" x2="138.45" y2="439.00" stroke-width="2.4"/>
<line x1="976.20" y1="439.00" x2="968.20" y2="439.00" stroke-width="2.4"/>
<line x1="130.45" y1="424.90" x2="138.45" y2="424.90" stroke-width="2.4"/>
<line x1="976.20" y1="424.90" x2="968.20" y2="424.90" stroke-width="2.4"/>
</g>
<g>
<rect x="235.2" y="46.5" width="53.7" height="6.4" fill="#000"/>
<rect x="235.2" y="90.8" width="53.7" height="3.3" fill="#000"/>
<rect x="235.2" y="134.3" width="53.7" height="3.4" fill="#000"/>
<line x1="261.3" y1="136" x2="261.3" y2="112" stroke="#000" stroke-width="3"/>
<polygon points="261.3,94.0 269.3,114.6 261.3,112.2 253.3,114.6" fill="#000"/>
<line x1="261.3" y1="92" x2="261.3" y2="69" stroke="#a0a0a0" stroke-width="2.8"/>
<polygon points="261.3,52.8 269.4,71.5 261.3,69.5 253.2,71.5" fill="#a0a0a0"/>
<path d="M293.20,51.00 C293.89,51.41 298.35,43.98 299.90,44.90 C301.45,45.82 293.65,61.88 295.20,62.80 C296.75,63.72 306.85,49.18 308.40,50.10 C309.95,51.02 302.45,67.18 304.00,68.10 C305.55,69.02 315.45,53.88 317.00,54.80 C318.55,55.72 311.05,72.18 312.60,73.10 C314.15,74.02 318.51,65.99 319.20,66.40 L326.5,70.9" fill="none" stroke="#000" stroke-width="1.9" stroke-linejoin="round" stroke-linecap="round"/>
<polygon points="335.8,76.4 326.9,65.9 325.2,70.5 322.2,73.9" fill="#000"/>
<line x1="208.3" y1="38.0" x2="208.3" y2="61.6" stroke="#000" stroke-width="1.2"/>
<polyline points="225.2,38.0 229.7,49.6 225.2,61.6" fill="none" stroke="#000" stroke-width="1.2"/>
<line x1="208.3" y1="81.3" x2="208.3" y2="104.7" stroke="#000" stroke-width="1.2"/>
<polyline points="225.2,81.3 229.7,92.6 225.2,104.7" fill="none" stroke="#000" stroke-width="1.2"/>
<line x1="208.3" y1="123.8" x2="208.3" y2="147.2" stroke="#000" stroke-width="1.2"/>
<polyline points="225.2,123.8 229.7,135.5 225.2,147.2" fill="none" stroke="#000" stroke-width="1.2"/>
</g>
<text transform="translate(211.57,55.60) scale(0.12500,0.12273)" font-family='"Liberation Serif", serif' font-size="200" font-style="normal" font-weight="normal" fill="#000">2</text>
<text transform="translate(211.04,98.80) scale(0.12571,0.11970)" font-family='"Liberation Serif", serif' font-size="200" font-style="normal" font-weight="normal" fill="#000">1</text>
<text transform="translate(211.07,142.60) scale(0.12857,0.12556)" font-family='"Liberation Serif", serif' font-size="200" font-style="normal" font-weight="normal" fill="#000">0</text>
<text transform="translate(1.92,27.00) scale(0.18037,0.20472)" font-family='"Liberation Sans", sans-serif' font-size="200" font-style="normal" font-weight="bold" fill="#000">a</text>
<text transform="translate(0.27,427.30) scale(0.20198,0.19655)" font-family='"Liberation Sans", sans-serif' font-size="200" font-style="normal" font-weight="bold" fill="#000">b</text>
<text transform="translate(70.92,28.60) scale(0.13218,0.14135)" font-family='"Liberation Serif", serif' font-size="200" font-style="normal" font-weight="normal" fill="#000">10</text>
<text transform="translate(96.05,18.00) scale(0.09714,0.09621)" font-family='"Liberation Serif", serif' font-size="200" font-style="normal" font-weight="normal" fill="#000">1</text>
<text transform="translate(70.99,124.40) scale(0.12816,0.14286)" font-family='"Liberation Serif", serif' font-size="200" font-style="normal" font-weight="normal" fill="#000">10</text>
<text transform="translate(96.20,114.00) scale(0.10000,0.10150)" font-family='"Liberation Serif", serif' font-size="200" font-style="normal" font-weight="normal" fill="#000">0</text>
<text transform="translate(49.62,219.60) scale(0.13218,0.14511)" font-family='"Liberation Serif", serif' font-size="200" font-style="normal" font-weight="normal" fill="#000">10</text>
<rect x="77.10" y="203.70" width="11.70" height="1.2" fill="#000"/>
<text transform="translate(90.33,209.50) scale(0.08714,0.10000)" font-family='"Liberation Serif", serif' font-size="200" font-style="normal" font-weight="normal" fill="#000">1</text>
<text transform="translate(49.62,315.00) scale(0.13218,0.14060)" font-family='"Liberation Serif", serif' font-size="200" font-style="normal" font-weight="normal" fill="#000">10</text>
<rect x="77.10" y="299.60" width="11.70" height="1.2" fill="#000"/>
<text transform="translate(89.49,305.00) scale(0.11250,0.09470)" font-family='"Liberation Serif", serif' font-size="200" font-style="normal" font-weight="normal" fill="#000">2</text>
<text transform="translate(429.72,811.60) scale(0.12644,0.14286)" font-family='"Liberation Serif", serif' font-size="200" font-style="normal" font-weight="normal" fill="#000">10</text>
<text transform="translate(455.20,801.60) scale(0.08810,0.10226)" font-family='"Liberation Serif", serif' font-size="200" font-style="normal" font-weight="normal" fill="#000">0</text>
<text transform="translate(813.85,811.70) scale(0.13046,0.14286)" font-family='"Liberation Serif", serif' font-size="200" font-style="normal" font-weight="normal" fill="#000">10</text>
<text transform="translate(839.48,800.90) scale(0.08429,0.09697)" font-family='"Liberation Serif", serif' font-size="200" font-style="normal" font-weight="normal" fill="#000">1</text>
<text transform="translate(84.22,420.80) scale(0.13060,0.13788)" font-family='"Liberation Serif", serif' font-size="200" font-style="normal" font-weight="normal" fill="#000">25</text>
<text transform="translate(84.22,491.50) scale(0.13060,0.13684)" font-family='"Liberation Serif", serif' font-size="200" font-style="normal" font-weight="normal" fill="#000">20</text>
<text transform="translate(84.68,562.00) scale(0.12874,0.14318)" font-family='"Liberation Serif", serif' font-size="200" font-style="normal" font-weight="normal" fill="#000">15</text>
<text transform="translate(84.68,633.00) scale(0.12874,0.14135)" font-family='"Liberation Serif", serif' font-size="200" font-style="normal" font-weight="normal" fill="#000">10</text>
<text transform="translate(100.05,703.30) scale(0.13750,0.14656)" font-family='"Liberation Serif", serif' font-size="200" font-style="normal" font-weight="normal" fill="#000">5</text>
<text transform="translate(100.09,774.70) scale(0.13929,0.14361)" font-family='"Liberation Serif", serif' font-size="200" font-style="normal" font-weight="normal" fill="#000">0</text>
<text transform="translate(334.33,855.90) scale(0.16202,0.16489)" font-family='"Liberation Serif", serif' font-size="200" font-style="normal" font-weight="normal" fill="#000">Pump Amplitude</text>
<text transform="translate(563.27,855.90) scale(0.16190,0.15851)" font-family='"Liberation Serif", serif' font-size="200" font-style="italic" font-weight="normal" fill="#000">η</text>
<line x1="581.0" y1="863.0" x2="593.7" y2="832.8" stroke="#000" stroke-width="1.35"/>
<text transform="translate(595.23,855.90) scale(0.15250,0.15909)" font-family='"Liberation Serif", serif' font-size="200" font-style="normal" font-weight="normal" fill="#000">2</text>
<text transform="translate(612.26,855.90) scale(0.14423,0.15435)" font-family='"Liberation Serif", serif' font-size="200" font-style="italic" font-weight="normal" fill="#000">π</text>
<text transform="translate(639.73,855.90) scale(0.13786,0.16489)" font-family='"Liberation Serif", serif' font-size="200" font-style="normal" font-weight="normal" fill="#000">[MHz]</text>
<text transform="translate(29.20,292.91) rotate(-90) scale(0.15809,0.17099)" font-family='"Liberation Serif", serif' font-size="200" font-style="normal" font-weight="normal" fill="#000">Intensity</text>
<text transform="translate(26.60,152.21) rotate(-90) scale(0.16860,0.15532)" font-family='"Liberation Serif", serif' font-size="200" font-style="italic" font-weight="normal" fill="#000">a</text>
<g fill="none" stroke="#000" stroke-width="1.3">
<line x1="2.9" y1="169.2" x2="34.2" y2="169.2"/>
<line x1="2.9" y1="119.5" x2="34.2" y2="119.5"/>
<polyline points="2.9,154.9 18.5,160.4 34.2,154.9"/>
<polyline points="2.9,134.1 18.5,127.8 34.2,134.1"/>
<polyline points="8.9,147.6 4.4,144.2 8.9,140.8"/>
</g>
<text transform="translate(15.10,115.30) rotate(-90) scale(0.11125,0.10303)" font-family='"Liberation Serif", serif' font-size="200" font-style="normal" font-weight="normal" fill="#000">2</text>
<text transform="translate(61.50,770.32) rotate(-90) scale(0.15352,0.16565)" font-family='"Liberation Serif", serif' font-size="200" font-style="normal" font-weight="normal" fill="#000">Broadening</text>
<text transform="translate(61.10,616.81) rotate(-90) scale(0.15243,0.16641)" font-family='"Liberation Serif", serif' font-size="200" font-style="normal" font-weight="normal" fill="#000">Γ</text>
<line x1="38.6" y1="585.7" x2="68.2" y2="596.6" stroke="#000" stroke-width="1.35"/>
<text transform="translate(61.10,584.11) rotate(-90) scale(0.16750,0.15833)" font-family='"Liberation Serif", serif' font-size="200" font-style="normal" font-weight="normal" fill="#000">2</text>
<text transform="translate(61.30,567.95) rotate(-90) scale(0.15192,0.15435)" font-family='"Liberation Serif", serif' font-size="200" font-style="italic" font-weight="normal" fill="#000">π</text>
<text transform="translate(61.50,539.85) rotate(-90) scale(0.13670,0.16947)" font-family='"Liberation Serif", serif' font-size="200" font-style="normal" font-weight="normal" fill="#000">[MHz]</text>
<text transform="translate(510.14,308.50) scale(0.13143,0.14580)" font-family='"Liberation Serif", serif' font-size="200" font-style="normal" font-weight="normal" fill="#000">V</text>
<rect x="538.4" y="297.85" width="17.6" height="1.3" fill="#000"/><rect x="538.4" y="302.75" width="17.6" height="1.3" fill="#000"/>
<text transform="translate(565.15,308.50) scale(0.12813,0.13835)" font-family='"Liberation Serif", serif' font-size="200" font-style="normal" font-weight="normal" fill="#000">284</text>
<text transform="translate(612.40,308.50) scale(0.11383,0.13261)" font-family='"Liberation Serif", serif' font-size="200" font-style="italic" font-weight="normal" fill="#000">μ</text>
<text transform="translate(623.81,308.50) scale(0.16767,0.14580)" font-family='"Liberation Serif", serif' font-size="200" font-style="italic" font-weight="normal" fill="#000">V</text>
<text transform="translate(510.14,338.40) scale(0.13143,0.14580)" font-family='"Liberation Serif", serif' font-size="200" font-style="normal" font-weight="normal" fill="#000">V</text>
<rect x="538.4" y="327.75" width="17.6" height="1.3" fill="#000"/><rect x="538.4" y="332.65" width="17.6" height="1.3" fill="#000"/>
<text transform="translate(564.99,338.40) scale(0.13085,0.13939)" font-family='"Liberation Serif", serif' font-size="200" font-style="normal" font-weight="normal" fill="#000">363</text>
<text transform="translate(612.40,338.40) scale(0.11383,0.13261)" font-family='"Liberation Serif", serif' font-size="200" font-style="italic" font-weight="normal" fill="#000">μ</text>
<text transform="translate(623.81,338.40) scale(0.16767,0.14580)" font-family='"Liberation Serif", serif' font-size="200" font-style="italic" font-weight="normal" fill="#000">V</text>
<text transform="translate(216.33,463.00) scale(0.13121,0.13817)" font-family='"Liberation Serif", serif' font-size="200" font-style="normal" font-weight="normal" fill="#000">5.90</text>
<text transform="translate(216.33,560.80) scale(0.13121,0.13969)" font-family='"Liberation Serif", serif' font-size="200" font-style="normal" font-weight="normal" fill="#000">5.85</text>
<text transform="translate(313.24,643.60) scale(0.14608,0.13939)" font-family='"Liberation Serif", serif' font-size="200" font-style="normal" font-weight="normal" fill="#000">−140</text>
<text transform="translate(473.25,643.60) scale(0.14481,0.13939)" font-family='"Liberation Serif", serif' font-size="200" font-style="normal" font-weight="normal" fill="#000">−120</text>
<text transform="translate(359.31,684.40) scale(0.13227,0.13359)" font-family='"Liberation Serif", serif' font-size="200" font-style="normal" font-weight="normal" fill="#000">Power [dBm]</text>
<text transform="translate(194.20,602.20) rotate(-90) scale(0.13312,0.13435)" font-family='"Liberation Serif", serif' font-size="200" font-style="normal" font-weight="normal" fill="#000">Freq. [GHz]</text>
<text transform="translate(678.69,443.30) scale(0.13920,0.13609)" font-family='"Liberation Serif", serif' font-size="200" font-style="normal" font-weight="normal" fill="#000">1.00</text>
<text transform="translate(680.12,501.80) scale(0.13503,0.13383)" font-family='"Liberation Serif", serif' font-size="200" font-style="normal" font-weight="normal" fill="#000">0.75</text>
<text transform="translate(680.12,561.20) scale(0.13503,0.13383)" font-family='"Liberation Serif", serif' font-size="200" font-style="normal" font-weight="normal" fill="#000">0.50</text>
<text transform="translate(680.12,620.50) scale(0.13503,0.13383)" font-family='"Liberation Serif", serif' font-size="200" font-style="normal" font-weight="normal" fill="#000">0.25</text>
<g stroke="#000" stroke-width="1.15"><line x1="617" y1="552.9" x2="645" y2="552.9"/><line x1="617" y1="504.4" x2="645" y2="504.4"/></g>
<text transform="translate(639.10,547.85) rotate(-90) scale(0.17579,0.16061)" font-family='"Liberation Serif", serif' font-size="200" font-style="italic" font-weight="normal" fill="#000">S</text>
<text transform="translate(642.20,531.90) rotate(-90) scale(0.11104,0.09545)" font-family='"Liberation Serif", serif' font-size="200" font-style="normal" font-weight="normal" fill="#000">11</text>
<text transform="translate(628.30,501.17) rotate(-90) scale(0.11875,0.10303)" font-family='"Liberation Serif", serif' font-size="200" font-style="normal" font-weight="normal" fill="#000">2</text>
</svg>
</body></html>
